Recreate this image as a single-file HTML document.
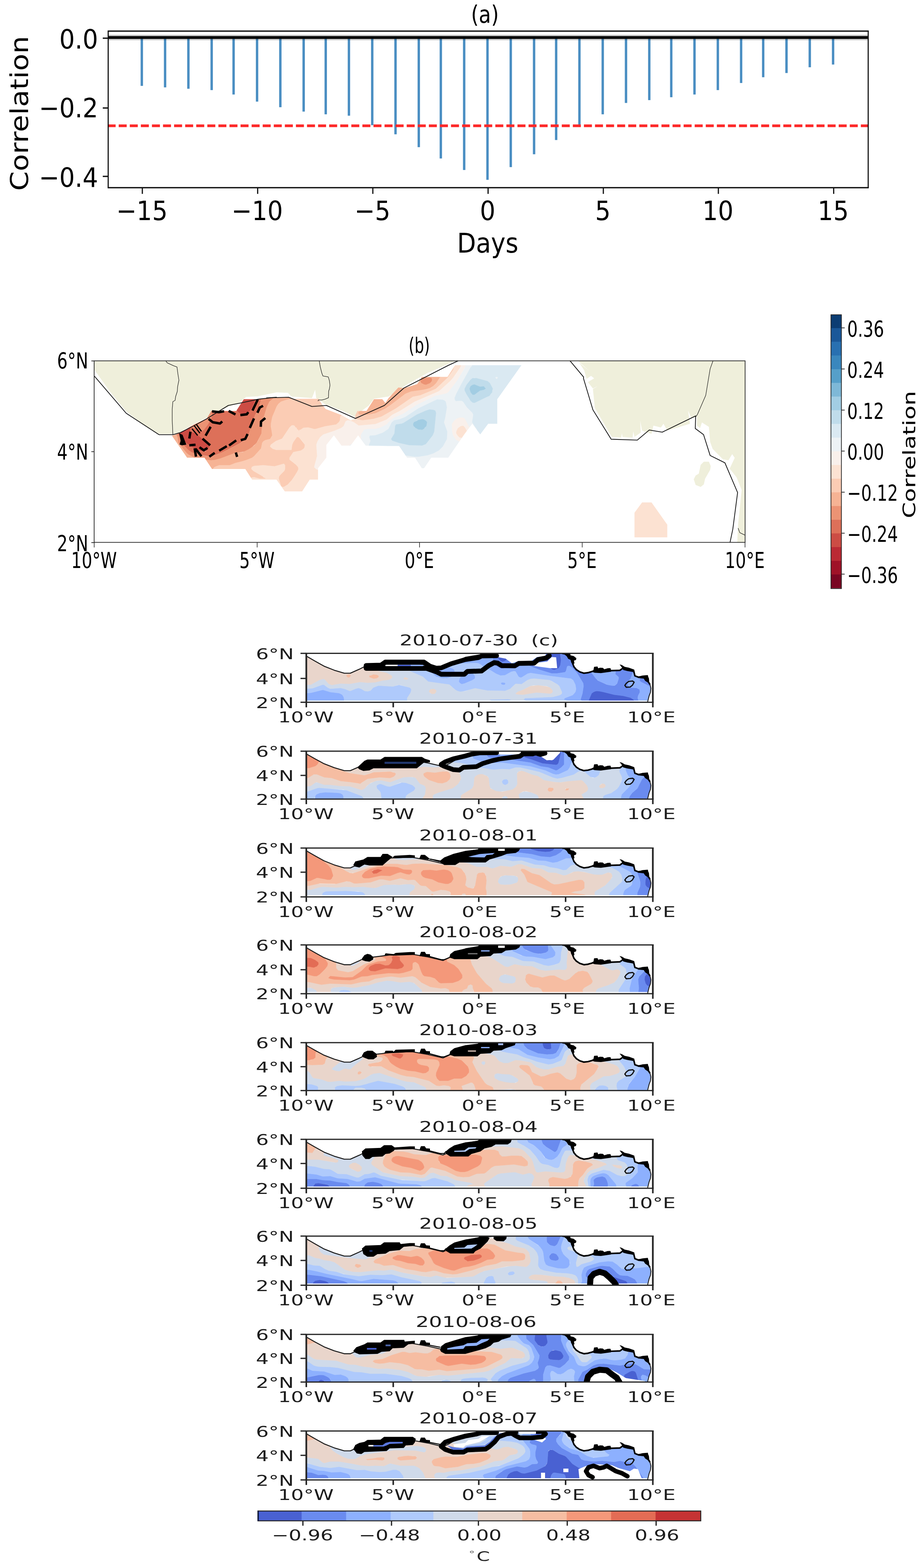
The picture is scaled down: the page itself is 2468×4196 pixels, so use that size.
<!DOCTYPE html>
<html lang="en">
<head>
<meta charset="utf-8">
<title>Figure</title>
<style>
html,body{margin:0;padding:0;background:#fff;}
body{width:2468px;height:4196px;overflow:hidden;}
svg{display:block;font-family:'DejaVu Sans','Liberation Sans',sans-serif;}
text{white-space:pre;}
</style>
</head>
<body>
<svg width="2468" height="4196" viewBox="0 0 2468 4196">
<rect width="2468" height="4196" fill="#fff"/>
<g id="panel-a">
<rect x="376.4" y="100.4" width="6.4" height="129.4" fill="#4a8ec2"/>
<rect x="438.7" y="100.4" width="6.4" height="133.4" fill="#4a8ec2"/>
<rect x="501.1" y="100.4" width="6.4" height="137.1" fill="#4a8ec2"/>
<rect x="563.4" y="100.4" width="6.4" height="140.7" fill="#4a8ec2"/>
<rect x="622.1" y="100.4" width="6.4" height="152.5" fill="#4a8ec2"/>
<rect x="684.9" y="100.4" width="6.4" height="171.5" fill="#4a8ec2"/>
<rect x="747.2" y="100.4" width="6.4" height="186.5" fill="#4a8ec2"/>
<rect x="809.6" y="100.4" width="6.4" height="198.2" fill="#4a8ec2"/>
<rect x="868.7" y="100.4" width="6.4" height="205.5" fill="#4a8ec2"/>
<rect x="930.8" y="100.4" width="6.4" height="209.2" fill="#4a8ec2"/>
<rect x="993.2" y="100.4" width="6.4" height="234.6" fill="#4a8ec2"/>
<rect x="1055.5" y="100.4" width="6.4" height="259" fill="#4a8ec2"/>
<rect x="1117.8" y="100.4" width="6.4" height="293.4" fill="#4a8ec2"/>
<rect x="1176.8" y="100.4" width="6.4" height="323.7" fill="#4a8ec2"/>
<rect x="1239.3" y="100.4" width="6.4" height="354.5" fill="#4a8ec2"/>
<rect x="1301.7" y="100.4" width="6.4" height="380.8" fill="#4a8ec2"/>
<rect x="1364" y="100.4" width="6.4" height="346.8" fill="#4a8ec2"/>
<rect x="1426.4" y="100.4" width="6.4" height="312.4" fill="#4a8ec2"/>
<rect x="1485.5" y="100.4" width="6.4" height="274.3" fill="#4a8ec2"/>
<rect x="1547.8" y="100.4" width="6.4" height="235.5" fill="#4a8ec2"/>
<rect x="1610.2" y="100.4" width="6.4" height="205.5" fill="#4a8ec2"/>
<rect x="1672.5" y="100.4" width="6.4" height="175.1" fill="#4a8ec2"/>
<rect x="1734.8" y="100.4" width="6.4" height="167.5" fill="#4a8ec2"/>
<rect x="1793.6" y="100.4" width="6.4" height="159.8" fill="#4a8ec2"/>
<rect x="1855.8" y="100.4" width="6.4" height="152.5" fill="#4a8ec2"/>
<rect x="1918.3" y="100.4" width="6.4" height="140.7" fill="#4a8ec2"/>
<rect x="1980.6" y="100.4" width="6.4" height="121.7" fill="#4a8ec2"/>
<rect x="2039.7" y="100.4" width="6.4" height="106.3" fill="#4a8ec2"/>
<rect x="2102.1" y="100.4" width="6.4" height="95" fill="#4a8ec2"/>
<rect x="2164.4" y="100.4" width="6.4" height="79.6" fill="#4a8ec2"/>
<rect x="2226.8" y="100.4" width="6.4" height="72.3" fill="#4a8ec2"/>
<rect x="289.6" y="93.1" width="2034.4" height="14.6" fill="#000" fill-opacity="0.22"/>
<rect x="289.6" y="96.7" width="2034.4" height="7.3" fill="#000"/>
<line x1="288.1" y1="336.7" x2="2324" y2="336.7" stroke="#fd2a2a" stroke-width="7.2" stroke-dasharray="21.4 8.25"/>
<line x1="288.1" y1="83.2" x2="2325.5" y2="83.2" stroke="#111" stroke-width="3.6"/>
<line x1="288.1" y1="502.3" x2="2325.5" y2="502.3" stroke="#111" stroke-width="3.6"/>
<line x1="289.6" y1="83.2" x2="289.6" y2="502.3" stroke="#111" stroke-width="3"/>
<line x1="2324" y1="83.2" x2="2324" y2="502.3" stroke="#111" stroke-width="3"/>
<line x1="275.1" y1="102.2" x2="289.6" y2="102.2" stroke="#111" stroke-width="3.5"/>
<line x1="275.1" y1="289" x2="289.6" y2="289" stroke="#111" stroke-width="3.5"/>
<line x1="275.1" y1="472" x2="289.6" y2="472" stroke="#111" stroke-width="3.5"/>
<line x1="381" y1="502.3" x2="381" y2="518.8" stroke="#111" stroke-width="3.2"/>
<line x1="689.7" y1="502.3" x2="689.7" y2="518.8" stroke="#111" stroke-width="3.2"/>
<line x1="998" y1="502.3" x2="998" y2="518.8" stroke="#111" stroke-width="3.2"/>
<line x1="1306.5" y1="502.3" x2="1306.5" y2="518.8" stroke="#111" stroke-width="3.2"/>
<line x1="1615" y1="502.3" x2="1615" y2="518.8" stroke="#111" stroke-width="3.2"/>
<line x1="1922.9" y1="502.3" x2="1922.9" y2="518.8" stroke="#111" stroke-width="3.2"/>
<line x1="2231.6" y1="502.3" x2="2231.6" y2="518.8" stroke="#111" stroke-width="3.2"/>
<text transform="translate(262.5 130) scale(0.9070 1)" font-size="72" text-anchor="end" fill="#000">0.0</text>
<text transform="translate(262.5 313.8) scale(0.9070 1)" font-size="72" text-anchor="end" fill="#000">−0.2</text>
<text transform="translate(262.5 500.3) scale(0.9070 1)" font-size="72" text-anchor="end" fill="#000">−0.4</text>
<text transform="translate(379.8 589) scale(0.9070 1)" font-size="72" text-anchor="middle" fill="#000">−15</text>
<text transform="translate(688.5 589) scale(0.9070 1)" font-size="72" text-anchor="middle" fill="#000">−10</text>
<text transform="translate(996.8 589) scale(0.9070 1)" font-size="72" text-anchor="middle" fill="#000">−5</text>
<text transform="translate(1305.3 589) scale(0.9070 1)" font-size="72" text-anchor="middle" fill="#000">0</text>
<text transform="translate(1613.8 589) scale(0.9070 1)" font-size="72" text-anchor="middle" fill="#000">5</text>
<text transform="translate(1921.7 589) scale(0.9070 1)" font-size="72" text-anchor="middle" fill="#000">10</text>
<text transform="translate(2230.4 589) scale(0.9070 1)" font-size="72" text-anchor="middle" fill="#000">15</text>
<text transform="translate(1305.5 676) scale(0.9000 1)" font-size="73" text-anchor="middle" fill="#000">Days</text>
<text transform="translate(75 303.5) rotate(-90) scale(1.1520 1)" font-size="65.3" text-anchor="middle" fill="#000">Correlation</text>
<text transform="translate(1298 61.3) scale(0.8260 1)" font-size="64.8" text-anchor="middle" fill="#000">(a)</text>
</g>
<g id="panel-b">
<defs><clipPath id="bmask"><path d="M460.2 1166.1L484.5 1157.4L518.9 1136.1L553.4 1119.9L565.5 1099.7L632.3 1099.7L652.6 1068.3L689 1068.3L740 1063.6L774.4 1063.2L780.5 1067.3L853.4 1067.3L861.5 1081.5L871.6 1094.6L914.1 1110.8L939.4 1125L950.5 1119.9L951.5 1110.8L956.6 1099.7L980.9 1099.7L1001.1 1068.3L1023.4 1068.3L1031.5 1078.4L1040 1065.3L1066.3 1036.9L1078.5 1037.9L1090.6 1035.9L1116.9 1027.8L1129.1 1008.6L1197.9 1008.6L1218.1 977.2L1340 977.2L1395.9 977.2L1331.1 1068.3L1331.1 1134.1L1306.8 1134.1L1285.5 1162.4L1264.3 1134.1L1244.5 1160L1199.9 1224.8L1154.4 1224.8L1135.1 1253.1L1129.1 1253.1L1110.9 1224.8L1089.6 1224.8L1068.3 1193.4L1040 1193.4L978.9 1192.4L958.6 1165.1L938.4 1192.4L914.1 1192.4L893.8 1165.1L873.6 1190.4L873.6 1224.8L851.3 1253.1L851.3 1283.5L829.1 1283.5L808.8 1314.9L762.3 1314.9L740 1283.5L674.8 1283.5L656.6 1255.1L567.5 1255.1L547.3 1224.8L500.7 1224.8Z"/></clipPath><clipPath id="bax"><rect x="252" y="965.6" width="1742.5" height="485.8"/></clipPath></defs>
<g clip-path="url(#bax)">
<path fill="#efefdb" d="M252 965.6L1219 965.6L1181.7 982.3L1145.3 997.4L1092.6 1026.8L1040 1061.2L1023.4 1063.6L1001.1 1066.9L987 1085.5L972.8 1096L950.5 1116.3L922.2 1101.7L869.6 1081.5L853.4 1069.3L846.3 1065.3L843.6 1043L835.1 1065.3L780.5 1061.2L770.4 1051.1L740 1050.1L723.4 1053.5L689 1060.8L658.6 1062.2L642.4 1076.4L601.9 1092.6L553.4 1117.9L518.9 1135.1L480.5 1157.4L462.7 1161.2L425.6 1161.2L381.7 1133.9L337.8 1101.8L290.6 1042.8L252.8 989.8ZM1994.5 965.6L1994.3 1451.3L1973.4 1451.3L1975.8 1402.4L1985.2 1311.3L1971.7 1277.6L1953.2 1254L1966.7 1225.3L1959.9 1215.2L1949.8 1232.1L1934.6 1228.7L1907.6 1201.3L1900.9 1182.8L1897.5 1142.3L1878.9 1130.5L1873.9 1145.7L1865.5 1138.9L1865.5 1115.3L1850.3 1118.7L1841.8 1098.4L1846.9 1133.9L1786.2 1152.4L1776 1133.9L1769.3 1144L1749.1 1138.9L1744 1160.9L1718.7 1152.4L1713.6 1125.4L1715.3 1157.5L1698.4 1169.3L1695.1 1154.1L1693.4 1171L1666.4 1169.3L1664.7 1159.2L1663 1171L1637.7 1169.3L1592.2 1091.7L1587.1 1041.1L1600.6 1032.7L1587.1 1039.4L1573.6 1022.5L1590.5 1012.4L1582.1 1005.7L1570.2 1014.1L1563.5 990.5L1550 970.2L1579.1 993.9L1547 965.5ZM1857 1282.7L1862.1 1272.5L1870.5 1267.5L1875.6 1243.9L1884 1235.4L1897.5 1235.4L1902.6 1247.2L1900.9 1257.4L1887.4 1281L1884 1296.2L1875.6 1302.9L1862.1 1297.8Z"/>
<g fill-rule="evenodd" clip-path="url(#bmask)">
<path fill="#bb2a34" stroke="#bb2a34" stroke-width="0.6" d="M441 1055L446 1060L451 1070L461 1080L476 1105L486 1115L491 1125L501 1135L503 1140L504 1145L501 1150L485 1160L480 1156L473 1140L465 1130L448 1095L440 1088Z"/>
<path fill="#cc4c44" stroke="#cc4c44" stroke-width="0.6" d="M585 960L680 960L681 985L685 1000L686 1050L684 1070L675 1092L665 1105L660 1109L655 1110L645 1108L635 1101L629 1085L625 1079L616 1070L605 1037L598 1005L590 984ZM442 1050L450 1058L455 1067L466 1080L480 1102L506 1135L510 1145L509 1155L520 1158L537 1170L559 1190L561 1195L555 1205L545 1208L527 1205L495 1183L490 1177L488 1170L480 1163L468 1140L460 1129L448 1105L440 1093L440 1088L448 1095L465 1130L473 1140L480 1156L485 1160L500 1151L504 1145L503 1140L501 1135L491 1125L486 1115L476 1105L461 1080L440 1054L440 1049Z"/>
<path fill="#dd7059" stroke="#dd7059" stroke-width="0.6" d="M565 960L584 960L588 970L590 984L598 1005L610 1055L616 1070L625 1079L629 1085L634 1100L645 1108L655 1110L660 1109L665 1105L676 1090L684 1070L686 1050L685 1000L681 985L680 960L702 960L704 1030L702 1055L692 1095L683 1110L665 1164L660 1173L644 1185L596 1210L570 1220L560 1221L530 1216L515 1212L505 1205L486 1185L481 1170L465 1141L457 1130L440 1097L440 1093L448 1105L460 1129L468 1140L480 1163L488 1170L490 1177L495 1183L525 1204L535 1207L550 1208L555 1205L561 1195L559 1190L537 1170L520 1158L509 1155L510 1145L506 1135L480 1102L466 1080L455 1067L450 1058L440 1049L440 1044L445 1046L454 1055L459 1065L469 1075L484 1100L509 1130L515 1144L520 1146L530 1144L540 1153L545 1151L557 1135L567 1115L567 1105L560 1080L565 1075L570 1075L575 1070L575 1025L570 1020L570 1010L565 1005L565 990L560 985L560 960Z"/>
<path fill="#ec9374" stroke="#ec9374" stroke-width="0.6" d="M445 960L560 960L560 985L565 990L565 1005L570 1010L570 1020L575 1025L575 1070L570 1075L565 1075L560 1080L567 1105L567 1115L557 1135L545 1151L540 1153L530 1144L520 1146L515 1144L509 1130L484 1100L469 1075L459 1065L454 1055L445 1046L440 1044L440 960ZM705 960L720 960L720 1015L723 1045L725 1050L730 1056L733 1065L721 1075L715 1088L702 1130L700 1160L687 1185L671 1200L655 1208L630 1212L590 1227L575 1231L565 1232L540 1229L536 1230L538 1235L536 1240L530 1242L525 1240L520 1235L521 1225L505 1217L500 1213L477 1185L475 1170L460 1140L452 1130L442 1110L440 1104L440 1097L457 1130L465 1141L481 1170L486 1185L505 1205L512 1210L530 1216L555 1221L565 1221L585 1215L616 1200L645 1185L660 1173L665 1164L683 1110L692 1095L702 1055L704 1030L702 960ZM1130 1013L1140 1010L1150 1010L1155 1011L1157 1015L1156 1020L1150 1027L1140 1030L1135 1029L1127 1025L1125 1020L1127 1015Z"/>
<path fill="#f6b394" stroke="#f6b394" stroke-width="0.6" d="M725 960L760 960L760 1035L765 1037L765 1040L770 1041L775 1045L795 1051L800 1051L810 1046L830 1047L840 1041L860 1042L870 1037L890 1039L900 1035L920 1033L930 1027L933 1025L934 1020L934 1000L925 972L924 960L1173 960L1176 980L1166 990L1164 995L1180 997L1184 1000L1168 1025L1160 1033L1150 1039L1130 1044L1100 1048L1085 1054L1044 1085L1029 1095L1005 1106L985 1110L970 1111L963 1110L960 1108L958 1105L971 1090L962 1085L920 1075L920 1070L925 1065L925 1060L915 1057L900 1056L875 1057L800 1064L770 1069L752 1075L745 1081L740 1089L728 1120L725 1140L729 1165L723 1175L710 1178L705 1181L702 1185L699 1200L680 1221L675 1225L663 1230L615 1245L587 1245L574 1250L570 1255L570 1259L566 1260L565 1265L560 1265L555 1270L545 1270L545 1280L540 1285L540 1295L535 1300L535 1310L530 1315L530 1325L525 1330L440 1330L440 1104L452 1130L460 1140L475 1170L477 1185L500 1213L505 1217L521 1225L520 1235L525 1240L530 1242L536 1240L538 1235L536 1230L540 1229L565 1232L575 1231L590 1227L630 1212L650 1210L665 1203L680 1193L690 1181L700 1160L702 1130L714 1090L721 1075L733 1065L730 1056L725 1050L723 1045L720 1020L720 960ZM1127 1015L1125 1020L1127 1025L1135 1029L1140 1030L1152 1025L1156 1020L1157 1015L1155 1011L1150 1010L1135 1011Z"/>
<path fill="#fbccb4" stroke="#fbccb4" stroke-width="0.6" d="M760 960L924 960L925 972L934 1000L934 1020L933 1025L920 1033L900 1035L890 1039L870 1037L860 1042L840 1041L830 1047L810 1046L800 1051L788 1050L775 1045L770 1041L765 1040L765 1037L760 1035ZM1175 960L1205 960L1206 965L1210 965L1211 970L1215 972L1216 985L1210 995L1199 1010L1165 1042L1125 1058L1105 1062L1060 1093L1021 1115L1000 1121L970 1125L955 1122L930 1112L915 1111L911 1115L910 1125L907 1130L900 1136L870 1141L845 1148L840 1148L825 1144L812 1145L805 1150L802 1150L800 1154L798 1150L795 1149L794 1145L790 1143L789 1140L785 1138L780 1139L775 1144L755 1174L739 1180L725 1190L723 1195L730 1201L740 1204L780 1204L782 1190L785 1183L795 1169L800 1170L816 1190L815 1198L810 1204L805 1206L785 1210L775 1225L775 1230L794 1245L798 1250L799 1255L795 1264L781 1285L770 1297L760 1303L755 1303L752 1300L746 1280L747 1275L750 1271L761 1260L763 1255L763 1245L760 1241L735 1248L705 1245L680 1247L674 1250L673 1255L678 1260L704 1275L705 1277L712 1280L710 1281L695 1281L680 1277L665 1280L661 1285L653 1320L653 1330L525 1330L530 1325L530 1315L535 1310L535 1300L540 1295L540 1285L545 1280L545 1270L555 1270L560 1265L565 1265L566 1260L570 1259L570 1255L574 1250L587 1245L615 1245L630 1239L655 1233L675 1225L681 1220L699 1200L702 1185L705 1181L710 1178L723 1175L729 1165L725 1135L729 1115L742 1085L752 1075L770 1069L800 1064L870 1057L910 1056L925 1060L925 1065L920 1070L920 1075L962 1085L970 1089L971 1090L968 1095L958 1105L963 1110L975 1111L1000 1108L1008 1105L1038 1090L1085 1054L1100 1048L1140 1042L1155 1037L1160 1033L1168 1025L1184 1000L1180 997L1164 995L1166 990L1176 980L1173 960Z"/>
<path fill="#fce2d2" stroke="#fce2d2" stroke-width="0.6" d="M1210 960L1232 960L1234 980L1210 1015L1184 1040L1175 1047L1110 1075L1070 1100L1050 1110L1035 1123L1005 1135L960 1139L947 1130L935 1125L930 1125L925 1128L920 1140L914 1145L895 1153L865 1163L857 1170L850 1181L847 1190L849 1220L841 1250L846 1255L857 1260L896 1265L900 1269L901 1270L883 1285L881 1290L882 1295L885 1298L900 1308L910 1310L910 1330L653 1330L653 1320L661 1285L665 1280L680 1277L695 1281L710 1281L712 1280L705 1277L704 1275L678 1260L673 1255L674 1250L675 1249L680 1247L705 1245L735 1248L760 1241L763 1245L763 1255L761 1260L750 1271L747 1275L746 1280L752 1300L755 1303L760 1303L770 1297L781 1285L788 1275L797 1260L799 1255L798 1250L790 1241L775 1230L775 1225L785 1210L805 1206L814 1200L816 1195L816 1190L810 1181L800 1170L795 1169L785 1183L782 1190L780 1204L740 1204L730 1201L723 1195L725 1190L739 1180L755 1174L775 1144L780 1139L785 1138L789 1140L790 1143L794 1145L795 1149L798 1150L800 1154L802 1150L805 1150L812 1145L825 1144L840 1148L845 1148L870 1141L900 1136L907 1130L910 1125L911 1115L915 1111L930 1112L955 1122L970 1125L1000 1121L1021 1115L1060 1093L1105 1062L1125 1058L1168 1040L1199 1010L1213 990L1216 980L1215 972L1211 970L1210 965L1206 965L1205 960ZM1235 1139L1240 1139L1245 1144L1251 1155L1251 1160L1248 1165L1241 1170L1235 1172L1230 1171L1225 1166L1221 1160L1221 1155L1225 1146ZM1250 1174L1260 1171L1265 1174L1275 1200L1277 1210L1275 1216L1253 1195L1245 1186L1245 1180Z"/>
<path fill="#f9f0eb" stroke="#f9f0eb" stroke-width="0.6" d="M1235 960L1245 960L1246 980L1225 1017L1200 1050L1195 1053L1164 1060L1115 1084L1080 1107L1055 1118L1045 1125L1035 1136L1017 1145L1005 1148L985 1148L975 1150L968 1160L966 1165L967 1175L965 1178L940 1189L918 1205L908 1215L907 1220L910 1223L925 1229L970 1239L1025 1246L1039 1250L1035 1251L1029 1255L1005 1258L995 1264L980 1266L970 1270L955 1272L950 1275L946 1280L949 1290L954 1300L961 1310L971 1330L910 1330L910 1310L900 1308L885 1298L882 1295L881 1290L883 1285L901 1270L900 1269L896 1265L857 1260L846 1255L841 1250L849 1220L847 1190L850 1181L857 1170L865 1163L895 1153L914 1145L920 1140L925 1128L930 1125L935 1125L947 1130L960 1139L1005 1135L1035 1123L1050 1110L1070 1100L1110 1075L1175 1047L1205 1020L1218 1005L1234 980L1232 960ZM1225 1118L1235 1116L1240 1117L1245 1121L1255 1140L1263 1150L1264 1155L1262 1165L1265 1167L1272 1180L1282 1210L1283 1220L1286 1230L1285 1241L1280 1245L1277 1245L1275 1248L1260 1233L1255 1225L1235 1205L1235 1185L1220 1177L1212 1165L1210 1155L1209 1135L1215 1126ZM1233 1140L1225 1146L1221 1155L1221 1160L1225 1166L1230 1171L1235 1172L1241 1170L1248 1165L1251 1160L1251 1155L1245 1144L1240 1139ZM1249 1175L1245 1180L1245 1185L1248 1190L1275 1216L1277 1210L1275 1200L1265 1174L1260 1171Z"/>
<path fill="#edf2f5" stroke="#edf2f5" stroke-width="0.6" d="M1250 960L1275 960L1270 962L1268 970L1263 980L1260 983L1234 1030L1219 1060L1218 1070L1220 1073L1235 1072L1240 1075L1250 1090L1265 1105L1267 1110L1264 1130L1277 1150L1277 1155L1270 1165L1287 1210L1296 1245L1338 1330L1035 1330L1035 1320L1038 1315L1040 1305L1045 1300L1045 1295L1050 1290L1050 1285L1055 1280L1050 1280L1049 1275L1045 1275L1044 1270L1040 1269L1037 1265L1020 1263L1005 1265L985 1285L985 1289L981 1290L980 1300L984 1310L986 1320L990 1330L971 1330L961 1310L954 1300L949 1290L946 1280L950 1275L955 1272L970 1270L980 1266L995 1264L1005 1258L1029 1255L1035 1251L1039 1250L1025 1246L970 1239L925 1229L910 1223L907 1220L908 1215L918 1205L940 1189L965 1178L967 1175L966 1165L968 1160L975 1150L985 1148L1005 1148L1017 1145L1035 1136L1045 1125L1055 1118L1080 1107L1115 1084L1164 1060L1195 1053L1200 1050L1223 1020L1244 985L1246 980L1245 960ZM1167 1070L1139 1085L1117 1095L1085 1116L1070 1122L1055 1125L1049 1130L1040 1148L1025 1158L1005 1165L990 1166L989 1170L992 1180L988 1190L988 1195L1005 1202L1055 1214L1110 1222L1120 1222L1145 1218L1160 1213L1175 1205L1185 1195L1196 1175L1197 1155L1188 1130L1191 1120L1196 1090L1193 1075L1190 1072L1175 1069ZM1222 1120L1215 1126L1209 1135L1210 1155L1212 1165L1220 1177L1235 1185L1235 1205L1255 1225L1260 1233L1275 1248L1277 1245L1280 1245L1285 1241L1286 1230L1283 1220L1282 1210L1272 1180L1265 1167L1262 1165L1264 1155L1263 1150L1255 1140L1245 1121L1240 1117L1230 1117ZM1325 1009L1330 1008L1333 1010L1331 1015L1325 1011Z"/>
<path fill="#dae9f2" stroke="#dae9f2" stroke-width="0.6" d="M1270 962L1275 960L1420 960L1420 1330L1338 1330L1296 1245L1287 1210L1270 1165L1277 1155L1277 1150L1264 1130L1267 1110L1265 1105L1250 1090L1240 1075L1235 1072L1220 1073L1218 1070L1217 1065L1221 1055L1235 1028L1260 983L1263 980L1268 970ZM1325 1010L1330 1015L1333 1010L1330 1008ZM1261 1015L1246 1035L1244 1045L1255 1066L1260 1073L1265 1077L1270 1078L1305 1062L1314 1055L1319 1045L1319 1040L1311 1025L1305 1020L1270 1011L1265 1012ZM1170 1069L1185 1070L1190 1072L1193 1075L1196 1090L1191 1120L1188 1130L1197 1155L1196 1175L1185 1195L1175 1205L1160 1213L1145 1218L1120 1222L1110 1222L1055 1214L1005 1202L988 1195L988 1190L992 1180L989 1170L990 1166L1005 1165L1025 1158L1040 1148L1049 1130L1055 1125L1070 1122L1085 1116L1120 1093ZM1138 1100L1115 1110L1080 1132L1075 1134L1060 1136L1058 1140L1056 1160L1047 1175L1050 1179L1068 1185L1095 1191L1130 1192L1140 1188L1158 1165L1162 1155L1167 1105L1165 1099L1155 1096ZM1005 1265L1020 1263L1037 1265L1040 1269L1044 1270L1045 1275L1049 1275L1050 1280L1055 1280L1050 1285L1050 1290L1045 1295L1045 1300L1040 1305L1038 1315L1035 1320L1035 1330L990 1330L986 1320L984 1310L980 1300L980 1295L981 1290L985 1289L985 1285Z"/>
<path fill="#c0dceb" stroke="#c0dceb" stroke-width="0.6" d="M1265 1012L1275 1012L1305 1020L1311 1025L1319 1040L1317 1050L1310 1059L1270 1078L1265 1077L1260 1073L1249 1055L1244 1045L1244 1040L1249 1030L1260 1016ZM1264 1030L1260 1033L1257 1040L1260 1050L1265 1056L1270 1056L1285 1045L1295 1043L1300 1040L1295 1034L1285 1035L1270 1029ZM1140 1099L1150 1096L1160 1097L1165 1099L1167 1105L1162 1155L1158 1165L1140 1188L1130 1192L1095 1191L1068 1185L1050 1179L1047 1175L1056 1160L1058 1140L1060 1136L1075 1134L1080 1132L1115 1110ZM1116 1125L1108 1130L1106 1135L1107 1140L1110 1144L1115 1147L1125 1150L1130 1150L1138 1145L1142 1135L1143 1130L1139 1125L1130 1122Z"/>
<path fill="#a2cde3" stroke="#a2cde3" stroke-width="0.6" d="M1265 1030L1270 1029L1285 1035L1295 1034L1300 1040L1295 1043L1285 1045L1270 1056L1265 1056L1260 1050L1257 1040L1260 1033ZM1120 1124L1130 1122L1135 1123L1140 1126L1143 1130L1141 1140L1135 1147L1130 1150L1120 1149L1112 1145L1107 1140L1106 1135L1108 1130Z"/>
</g>
<path fill="#fce2d2" d="M1698.4 1437.9L1698.4 1372.1L1718.7 1344.4L1744 1344.4L1786.2 1404.1L1786.2 1437.9Z"/>
<path fill="none" stroke="#1a1a1a" stroke-width="2.1" stroke-linejoin="round" d="M252.8 1006.7L337.8 1105.9L425.6 1163.2L462.7 1163.2L482.9 1157.5L520 1138.9L553.8 1120.4L611.1 1085L644.9 1078.2L692.1 1068.1L740 1063L713.5 1064.7L772.5 1063L835 1087.7L873.8 1085L951.3 1119.7L1028.9 1085L1081.2 1038.4L1200 977.7L1226.5 965.5M1525.8 965.5L1562.2 1009L1561.8 1012.4L1587.1 1096.8L1636 1175.4L1705.9 1177.7L1737.9 1150.7L1772.7 1156.5L1862.1 1113L1861.1 1146.7L1883.3 1163.2L1900.9 1218.9L1940.4 1238.5L1974.4 1318.1L1961.6 1415.9L1954.2 1451.3"/>
<path fill="none" stroke="#1a1a1a" stroke-width="1.3" stroke-linejoin="round" d="M444.1 966.2L447.5 970.9L464.4 978.7L473.8 982.1L476.2 1000.6L478.9 1017.5L475.5 1034.3L474.5 1047.8L470.1 1061.3L468.7 1071.5L462.7 1074.8L461 1095.1L461 1125.4L462 1145.7L462.7 1163.2M854.4 965.1L857.4 982.3L861.5 998.5L864.5 1006.2L878.7 1008.6L881.7 1018.7L883.3 1030.9L881.7 1041L879.7 1047L879.3 1064.3L869.6 1068.3L861.5 1070.3L852.3 1070.3L851.3 1073.4M1908.6 965.5L1900.9 987.1L1889.1 1058L1867.1 1108.6L1863.1 1114.3M1975.8 1413.2L1980.2 1425.4L1994.3 1432.1"/>
<path fill="none" stroke="#000" stroke-width="6.4" stroke-linejoin="round" d="M567.5 1100.6L585.7 1103L599.9 1100.6"/>
<path fill="none" stroke="#000" stroke-width="6.4" stroke-linejoin="round" d="M612.1 1099.6L630.3 1109.1"/>
<path fill="none" stroke="#000" stroke-width="6.4" stroke-linejoin="round" d="M643.4 1110.7L660.6 1108.7L664.7 1103"/>
<path fill="none" stroke="#000" stroke-width="6.4" stroke-linejoin="round" d="M675.8 1098.6L690 1069.2"/>
<path fill="none" stroke="#000" stroke-width="6.4" stroke-linejoin="round" d="M689 1104.7L695.5 1090.5L704.2 1086"/>
<path fill="none" stroke="#000" stroke-width="6.4" stroke-linejoin="round" d="M668.7 1145.1L679.9 1119.8"/>
<path fill="none" stroke="#000" stroke-width="6.4" stroke-linejoin="round" d="M698.1 1142.1L698.7 1127.9L710.2 1118.8"/>
<path fill="none" stroke="#000" stroke-width="6.4" stroke-linejoin="round" d="M644.5 1177.9L656.6 1174.5L662.7 1161.3"/>
<path fill="none" stroke="#000" stroke-width="6.4" stroke-linejoin="round" d="M613.1 1192.1L632.3 1178.5"/>
<path fill="none" stroke="#000" stroke-width="6.4" stroke-linejoin="round" d="M586.8 1205.9L607 1194.1"/>
<path fill="none" stroke="#000" stroke-width="6.4" stroke-linejoin="round" d="M560.4 1222.1L574.6 1211.9"/>
<path fill="none" stroke="#000" stroke-width="6.4" stroke-linejoin="round" d="M558.4 1120.9L569.6 1130L581.7 1132L588.8 1133.4L594.9 1127.9"/>
<path fill="none" stroke="#000" stroke-width="6.4" stroke-linejoin="round" d="M550.3 1165.8L563.9 1142.1"/>
<path fill="none" stroke="#000" stroke-width="6.4" stroke-linejoin="round" d="M542.2 1173.9L562.5 1191.7"/>
<path fill="none" stroke="#000" stroke-width="6.4" stroke-linejoin="round" d="M506.8 1191.7L523.4 1190.1"/>
<path fill="none" stroke="#000" stroke-width="6.4" stroke-linejoin="round" d="M523.4 1200.8L539.2 1221.1"/>
<path fill="none" stroke="#000" stroke-width="6.4" stroke-linejoin="round" d="M534.1 1196.8L545.3 1204.9L555.4 1198.8"/>
<path fill="none" stroke="#000" stroke-width="6.4" stroke-linejoin="round" d="M521 1199.8L524.6 1222.1"/>
<path fill="none" stroke="#000" stroke-width="6.4" stroke-linejoin="round" d="M506.8 1173.5L509.8 1155.3"/>
<path fill="none" stroke="#000" stroke-width="6.4" stroke-linejoin="round" d="M631.3 1210.9L634.7 1222.5"/>
<path fill="none" stroke="#000" stroke-width="3.2" stroke-linejoin="round" d="M520 1139.1L535.1 1159.3"/>
<path fill="none" stroke="#000" stroke-width="3.2" stroke-linejoin="round" d="M525 1135L539.2 1154.3"/>
<path fill="none" stroke="#000" stroke-width="3.2" stroke-linejoin="round" d="M513.9 1147.2L529.1 1165.4"/>
<path fill="#000" d="M479.5 1159.3L488.6 1163.4L498.7 1189.7L487.6 1191.7L480.5 1189.7L483.5 1179.6Z"/>
</g>
<rect x="252" y="965.6" width="1742.5" height="485.8" fill="none" stroke="#222" stroke-width="1.9"/>
<line x1="244.5" y1="965.8" x2="252" y2="965.8" stroke="#222" stroke-width="1.9"/>
<text transform="translate(236.2 986.4) scale(0.7450 1)" font-size="59.5" text-anchor="end" fill="#000">6°N</text>
<line x1="244.5" y1="1208.6" x2="252" y2="1208.6" stroke="#222" stroke-width="1.9"/>
<text transform="translate(236.2 1230.2) scale(0.7450 1)" font-size="59.5" text-anchor="end" fill="#000">4°N</text>
<line x1="244.5" y1="1452" x2="252" y2="1452" stroke="#222" stroke-width="1.9"/>
<text transform="translate(236.2 1475.2) scale(0.7450 1)" font-size="59.5" text-anchor="end" fill="#000">2°N</text>
<line x1="252.2" y1="1451.4" x2="252.2" y2="1464.9" stroke="#222" stroke-width="1.6"/>
<text transform="translate(251.7 1519.5) scale(0.7450 1)" font-size="59.5" text-anchor="middle" fill="#000">10°W</text>
<line x1="688.4" y1="1451.4" x2="688.4" y2="1464.9" stroke="#222" stroke-width="1.6"/>
<text transform="translate(687.9 1519.5) scale(0.7450 1)" font-size="59.5" text-anchor="middle" fill="#000">5°W</text>
<line x1="1123" y1="1451.4" x2="1123" y2="1464.9" stroke="#222" stroke-width="1.6"/>
<text transform="translate(1122.5 1519.5) scale(0.7450 1)" font-size="59.5" text-anchor="middle" fill="#000">0°E</text>
<line x1="1558.5" y1="1451.4" x2="1558.5" y2="1464.9" stroke="#222" stroke-width="1.6"/>
<text transform="translate(1558 1519.5) scale(0.7450 1)" font-size="59.5" text-anchor="middle" fill="#000">5°E</text>
<line x1="1994.3" y1="1451.4" x2="1994.3" y2="1464.9" stroke="#222" stroke-width="1.6"/>
<text transform="translate(1993.8 1519.5) scale(0.7450 1)" font-size="59.5" text-anchor="middle" fill="#000">10°E</text>
<text transform="translate(1122.3 944.4) scale(0.7100 1)" font-size="56.8" text-anchor="middle" fill="#000">(b)</text>
<rect x="2224.3" y="1536.7" width="28" height="37.2" fill="#790622"/>
<rect x="2224.3" y="1500.1" width="28" height="37.2" fill="#9f1228"/>
<rect x="2224.3" y="1463.4" width="28" height="37.2" fill="#bb2a34"/>
<rect x="2224.3" y="1426.8" width="28" height="37.2" fill="#cc4c44"/>
<rect x="2224.3" y="1390.2" width="28" height="37.2" fill="#dd7059"/>
<rect x="2224.3" y="1353.6" width="28" height="37.2" fill="#ec9374"/>
<rect x="2224.3" y="1317" width="28" height="37.2" fill="#f6b394"/>
<rect x="2224.3" y="1280.3" width="28" height="37.2" fill="#fbccb4"/>
<rect x="2224.3" y="1243.7" width="28" height="37.2" fill="#fce2d2"/>
<rect x="2224.3" y="1207.1" width="28" height="37.2" fill="#f9f0eb"/>
<rect x="2224.3" y="1170.5" width="28" height="37.2" fill="#edf2f5"/>
<rect x="2224.3" y="1133.9" width="28" height="37.2" fill="#dae9f2"/>
<rect x="2224.3" y="1097.2" width="28" height="37.2" fill="#c0dceb"/>
<rect x="2224.3" y="1060.6" width="28" height="37.2" fill="#a2cde3"/>
<rect x="2224.3" y="1024" width="28" height="37.2" fill="#7eb8d7"/>
<rect x="2224.3" y="987.4" width="28" height="37.2" fill="#569fc9"/>
<rect x="2224.3" y="950.8" width="28" height="37.2" fill="#3a87bd"/>
<rect x="2224.3" y="914.1" width="28" height="37.2" fill="#2870b1"/>
<rect x="2224.3" y="877.5" width="28" height="37.2" fill="#1a5899"/>
<rect x="2224.3" y="842.3" width="28" height="35.8" fill="#0c3d73"/>
<rect x="2224.3" y="842.3" width="28" height="732.8" fill="none" stroke="#222" stroke-width="1.9"/>
<line x1="2252.3" y1="877.4" x2="2261.1" y2="877.4" stroke="#222" stroke-width="1.9"/>
<text transform="translate(2267.8 900.7) scale(0.7580 1)" font-size="58.5" text-anchor="start" fill="#000">0.36</text>
<line x1="2252.3" y1="987.4" x2="2261.1" y2="987.4" stroke="#222" stroke-width="1.9"/>
<text transform="translate(2267.8 1010.7) scale(0.7580 1)" font-size="58.5" text-anchor="start" fill="#000">0.24</text>
<line x1="2252.3" y1="1097.4" x2="2261.1" y2="1097.4" stroke="#222" stroke-width="1.9"/>
<text transform="translate(2267.8 1120.7) scale(0.7580 1)" font-size="58.5" text-anchor="start" fill="#000">0.12</text>
<line x1="2252.3" y1="1207.1" x2="2261.1" y2="1207.1" stroke="#222" stroke-width="1.9"/>
<text transform="translate(2267.8 1230.4) scale(0.7580 1)" font-size="58.5" text-anchor="start" fill="#000">0.00</text>
<line x1="2252.3" y1="1317.1" x2="2261.1" y2="1317.1" stroke="#222" stroke-width="1.9"/>
<text transform="translate(2267.8 1340.4) scale(0.7580 1)" font-size="58.5" text-anchor="start" fill="#000">−0.12</text>
<line x1="2252.3" y1="1426.8" x2="2261.1" y2="1426.8" stroke="#222" stroke-width="1.9"/>
<text transform="translate(2267.8 1450.1) scale(0.7580 1)" font-size="58.5" text-anchor="start" fill="#000">−0.24</text>
<line x1="2252.3" y1="1536.4" x2="2261.1" y2="1536.4" stroke="#222" stroke-width="1.9"/>
<text transform="translate(2267.8 1559.7) scale(0.7580 1)" font-size="58.5" text-anchor="start" fill="#000">−0.36</text>
<text transform="translate(2449.8 1216.5) rotate(-90) scale(1.3150 1)" font-size="47" text-anchor="middle" fill="#000">Correlation</text>
</g>
<g id="panel-c1">
<defs><clipPath id="oc1"><path d="M819.9 1879.3L819.9 1755.7L843.2 1769.2L867.5 1782.7L894.5 1793.4L921.5 1801.5L937.7 1801.5L961.9 1790.8L972.7 1785.3L979.4 1783.5L1019.8 1778.5L1044.1 1775.2L1084.6 1773.5L1104.9 1773.5L1145.3 1780.6L1185.8 1790.2L1202 1782.7L1226.3 1768.2L1246.6 1758.7L1283 1752.5L1315.4 1749.4L1338.5 1748.4L1504.9 1748.4L1511.9 1749.6L1520.1 1755.6L1529.2 1759.4L1534.6 1764L1532.8 1775.2L1536.5 1784.5L1542.8 1792L1551.9 1797.9L1562.9 1801.5L1573.8 1800.2L1584.7 1797.1L1592 1793.8L1608.4 1794.7L1635.7 1794.7L1659.4 1793.8L1665.8 1789.1L1672.2 1787.3L1683.1 1789.1L1695.9 1793.8L1697.7 1801.3L1699.5 1808.6L1708.6 1812L1719.6 1810.6L1732.3 1809.7L1735 1816.1L1735.9 1825.4L1740 1831.9L1742.3 1842.1L1741 1853.1L1737.5 1862.3L1733.5 1878.6L1733.5 1879.3Z"/></clipPath><clipPath id="ax1"><rect x="819.9" y="1748.4" width="927.6" height="130.9"/></clipPath></defs>
<g fill-rule="evenodd" clip-path="url(#oc1)">
<path fill="#4961d2" stroke="#4961d2" stroke-width="0.6" d="M1328 1740L1366 1740L1364 1749L1358 1764L1353 1768L1348 1771L1344 1771L1340 1769L1328 1756L1326 1740ZM1456 1740L1498 1740L1502 1768L1500 1780L1496 1788L1484 1793L1479 1792L1473 1788L1471 1780L1463 1768L1462 1756ZM1588 1852L1596 1849L1608 1850L1644 1859L1668 1862L1688 1867L1696 1872L1704 1888L1574 1888L1576 1873L1583 1856Z"/>
<path fill="#6a8bef" stroke="#6a8bef" stroke-width="0.6" d="M1164 1740L1198 1740L1199 1756L1196 1759L1192 1760L1176 1759L1168 1756L1164 1748L1162 1740ZM1320 1740L1326 1740L1328 1757L1340 1769L1344 1771L1352 1769L1358 1764L1364 1749L1366 1740L1374 1740L1371 1760L1372 1764L1376 1767L1380 1768L1420 1764L1428 1762L1433 1756L1434 1740L1455 1740L1462 1756L1464 1771L1471 1780L1473 1788L1479 1792L1484 1793L1496 1788L1500 1780L1502 1764L1498 1740L1590 1740L1590 1780L1592 1785L1596 1791L1598 1792L1596 1794L1585 1796L1583 1800L1600 1821L1624 1832L1644 1835L1648 1833L1652 1829L1656 1816L1656 1812L1647 1804L1649 1788L1646 1776L1639 1764L1638 1740L1756 1740L1756 1842L1740 1837L1714 1824L1712 1820L1714 1808L1713 1792L1712 1786L1708 1784L1704 1787L1694 1800L1688 1816L1681 1824L1680 1832L1682 1836L1688 1840L1704 1841L1712 1845L1713 1852L1708 1862L1707 1868L1713 1888L1704 1888L1696 1872L1688 1867L1668 1862L1644 1859L1616 1852L1600 1849L1592 1850L1584 1855L1575 1876L1574 1888L1565 1888L1562 1880L1554 1872L1559 1856L1562 1836L1561 1828L1544 1800L1528 1784L1524 1782L1520 1782L1518 1784L1515 1796L1512 1799L1492 1802L1476 1802L1443 1792L1412 1780L1380 1770L1376 1770L1368 1775L1352 1788L1348 1789L1340 1789L1328 1782L1320 1772L1318 1748L1318 1740ZM1551 1760L1544 1764L1541 1768L1543 1772L1548 1775L1556 1773L1563 1764L1564 1760L1560 1758Z"/>
<path fill="#8db0fe" stroke="#8db0fe" stroke-width="0.6" d="M1156 1740L1162 1740L1164 1749L1168 1756L1176 1759L1192 1760L1196 1759L1199 1756L1198 1740L1206 1740L1208 1752L1212 1759L1216 1762L1224 1763L1268 1761L1272 1756L1272 1752L1267 1740L1318 1740L1320 1772L1323 1776L1332 1785L1344 1790L1352 1788L1368 1775L1376 1770L1380 1770L1412 1780L1443 1792L1476 1802L1492 1802L1512 1799L1515 1796L1518 1784L1520 1782L1524 1782L1532 1787L1544 1800L1561 1828L1562 1836L1559 1856L1554 1872L1562 1880L1565 1888L1534 1888L1532 1882L1528 1878L1509 1872L1512 1868L1533 1860L1540 1852L1542 1844L1540 1832L1534 1820L1528 1816L1472 1809L1420 1801L1412 1803L1396 1813L1392 1813L1388 1811L1380 1797L1376 1796L1368 1798L1352 1807L1340 1808L1328 1803L1312 1793L1298 1788L1288 1779L1280 1775L1272 1774L1232 1776L1168 1766L1164 1764L1158 1756L1154 1744L1154 1740ZM1376 1740L1434 1740L1433 1756L1430 1760L1424 1764L1376 1767L1372 1764L1371 1760L1374 1740ZM1592 1740L1638 1740L1639 1764L1646 1776L1649 1788L1647 1804L1656 1812L1656 1816L1652 1828L1648 1833L1640 1835L1628 1833L1604 1823L1595 1816L1583 1800L1585 1796L1596 1794L1598 1792L1596 1791L1592 1785L1590 1780L1590 1740ZM1552 1760L1560 1758L1564 1760L1561 1768L1556 1773L1552 1775L1544 1773L1541 1768L1544 1764ZM1708 1784L1712 1786L1713 1792L1714 1808L1712 1820L1714 1824L1740 1837L1756 1842L1756 1888L1713 1888L1707 1868L1708 1862L1713 1852L1712 1845L1704 1841L1688 1840L1682 1836L1680 1832L1681 1824L1688 1816L1694 1800L1704 1787ZM1188 1788L1204 1786L1212 1789L1216 1792L1217 1796L1215 1804L1208 1812L1196 1815L1184 1815L1168 1811L1159 1804L1157 1800L1160 1796L1168 1792ZM1244 1799L1256 1797L1264 1799L1271 1808L1272 1814L1271 1816L1265 1820L1244 1829L1236 1831L1231 1828L1228 1824L1228 1820L1236 1805ZM1344 1826L1352 1827L1353 1828L1352 1832L1348 1833L1343 1832L1340 1828ZM856 1848L864 1846L868 1846L884 1852L904 1854L912 1856L917 1860L921 1868L921 1880L919 1888L812 1888L812 1855L832 1854Z"/>
<path fill="#afcafc" stroke="#afcafc" stroke-width="0.6" d="M1092 1740L1154 1740L1158 1756L1164 1764L1168 1766L1232 1776L1272 1774L1280 1775L1288 1779L1298 1788L1312 1793L1328 1803L1340 1808L1352 1807L1368 1798L1376 1796L1380 1797L1388 1811L1392 1813L1396 1813L1412 1803L1420 1801L1472 1809L1528 1816L1534 1820L1540 1832L1542 1844L1540 1852L1533 1860L1512 1868L1509 1872L1528 1878L1532 1882L1534 1888L1506 1888L1504 1884L1500 1881L1496 1880L1420 1879L1412 1877L1401 1872L1406 1868L1412 1868L1480 1865L1499 1860L1504 1856L1504 1852L1497 1836L1493 1832L1476 1822L1468 1820L1428 1816L1420 1817L1412 1820L1396 1831L1380 1830L1365 1844L1352 1849L1304 1848L1272 1842L1236 1851L1228 1851L1220 1847L1203 1832L1148 1825L1144 1823L1132 1811L1097 1796L1096 1792L1099 1784L1090 1768L1090 1740ZM1187 1788L1168 1792L1159 1796L1157 1800L1163 1808L1172 1813L1192 1816L1204 1814L1213 1808L1217 1800L1217 1796L1216 1792L1212 1789L1208 1787L1200 1786ZM1242 1800L1236 1805L1230 1816L1228 1824L1232 1829L1236 1831L1244 1829L1265 1820L1271 1816L1272 1812L1271 1808L1264 1799L1256 1797ZM1340 1828L1343 1832L1348 1833L1352 1832L1353 1828L1348 1826L1344 1826ZM1208 1740L1267 1740L1272 1752L1272 1756L1269 1760L1264 1762L1216 1762L1212 1759L1208 1753L1206 1740ZM864 1832L868 1833L877 1840L884 1843L912 1841L924 1844L936 1849L940 1848L952 1843L960 1841L968 1844L976 1849L984 1850L992 1848L999 1840L1012 1835L1020 1835L1052 1837L1068 1833L1097 1840L1101 1844L1101 1848L1098 1856L1090 1868L1090 1888L919 1888L922 1876L920 1865L916 1859L908 1855L884 1852L864 1846L832 1854L812 1855L812 1843L836 1842ZM1312 1872L1360 1871L1368 1872L1363 1876L1352 1877L1316 1876L1310 1872Z"/>
<path fill="#cfdaea" stroke="#cfdaea" stroke-width="0.6" d="M992 1740L1090 1740L1090 1768L1099 1784L1096 1792L1097 1796L1132 1811L1146 1824L1203 1832L1216 1844L1224 1849L1232 1851L1244 1850L1264 1844L1272 1842L1304 1848L1352 1849L1365 1844L1380 1830L1396 1831L1412 1820L1420 1817L1431 1816L1471 1820L1493 1832L1497 1836L1504 1852L1504 1856L1499 1860L1480 1865L1412 1868L1406 1868L1401 1872L1412 1877L1420 1879L1496 1880L1500 1881L1504 1884L1506 1888L1405 1888L1404 1884L1400 1882L1388 1880L1376 1882L1372 1884L1370 1888L1311 1888L1307 1884L1300 1881L1284 1880L1260 1881L1253 1884L1251 1888L1090 1888L1090 1868L1100 1852L1101 1844L1097 1840L1072 1833L1064 1833L1052 1837L1020 1835L1012 1835L999 1840L992 1848L984 1850L976 1849L968 1844L960 1841L952 1843L940 1848L936 1849L924 1844L912 1841L884 1843L877 1840L868 1833L864 1832L836 1842L812 1843L812 1833L832 1832L856 1819L864 1817L868 1817L872 1821L880 1830L888 1833L912 1829L936 1830L964 1825L984 1827L1000 1826L1024 1821L1040 1819L1047 1816L1050 1812L1048 1808L1040 1803L1028 1799L992 1791L958 1776L956 1772L980 1766L984 1764L990 1752ZM1084 1812L1080 1817L1088 1819L1093 1816ZM1419 1836L1400 1846L1385 1852L1380 1856L1384 1858L1400 1859L1436 1853L1472 1856L1476 1855L1479 1852L1479 1848L1476 1844L1472 1840L1464 1836L1440 1834L1428 1834ZM1154 1844L1149 1848L1149 1852L1152 1855L1160 1857L1164 1856L1167 1852L1168 1848L1164 1845ZM1310 1872L1316 1876L1320 1877L1356 1877L1363 1876L1368 1872L1360 1871Z"/>
<path fill="#e9d5cb" stroke="#e9d5cb" stroke-width="0.6" d="M816 1740L847 1740L836 1750L831 1756L832 1764L836 1766L844 1762L849 1756L852 1740L992 1740L990 1752L984 1764L980 1766L956 1772L958 1776L992 1791L1036 1801L1048 1808L1050 1812L1047 1816L1040 1819L1024 1821L1004 1826L984 1827L964 1825L936 1830L912 1829L888 1833L880 1830L872 1821L868 1817L864 1817L856 1819L832 1832L812 1833L812 1740ZM927 1808L932 1813L936 1812L939 1808L936 1805L932 1805ZM989 1808L989 1812L1000 1816L1008 1815L1013 1812L1013 1808L1004 1805ZM1084 1812L1093 1816L1088 1819L1080 1817ZM1420 1836L1440 1834L1464 1837L1472 1840L1476 1844L1479 1848L1479 1852L1476 1855L1472 1856L1436 1853L1400 1859L1384 1858L1380 1856L1385 1852L1400 1846ZM1156 1844L1163 1844L1168 1848L1167 1852L1164 1856L1156 1857L1149 1852L1149 1848L1152 1845ZM1268 1880L1296 1880L1307 1884L1311 1888L1251 1888L1253 1884L1256 1882ZM1384 1880L1400 1882L1404 1884L1405 1888L1370 1888L1372 1884L1376 1882Z"/>
<path fill="#f6bda2" stroke="#f6bda2" stroke-width="0.6" d="M844 1743L847 1740L852 1740L850 1752L844 1762L836 1766L832 1764L831 1756L836 1750ZM928 1807L932 1805L936 1805L939 1808L936 1812L932 1813L928 1810L927 1808ZM992 1808L1000 1805L1008 1806L1013 1808L1013 1812L1008 1815L1000 1816L989 1812L989 1808Z"/>
</g>
<g clip-path="url(#ax1)">
<path fill="#fff" d="M1333.5 1750.2L1461.7 1750.2L1459 1755.6L1437.4 1758.3L1423.9 1767.8L1383.4 1770.5L1369.9 1774.5L1365.9 1771.8L1353.7 1762.4L1334.8 1759.1Z"/>
<path fill="#fff" d="M1427.9 1781.8L1440.1 1773.2L1464.4 1770.5L1476.5 1758.3L1488.7 1759.1L1491.4 1788L1472.5 1788L1442.8 1784Z"/>
<rect x="819.9" y="1874.7" width="927.6" height="3" fill="#fff"/>
<path fill="none" stroke="#1a1a1a" stroke-width="2.6" stroke-linejoin="round" d="M819.9 1755.7L843.2 1769.2L867.5 1782.7L894.5 1793.4L921.5 1801.5L937.7 1801.5L961.9 1790.8L972.7 1785.3L979.4 1783.5L1019.8 1778.5L1044.1 1775.2L1084.6 1773.5L1104.9 1773.5L1145.3 1780.6L1185.8 1790.2L1202 1782.7L1226.3 1768.2L1246.6 1758.7L1283 1752.5L1315.4 1749.4L1338.5 1748.4"/>
<path fill="none" stroke="#000" stroke-width="4.2" stroke-linejoin="round" d="M1504.9 1748.4L1511.9 1749.6L1520.1 1755.6L1529.2 1759.4L1534.6 1764L1532.8 1775.2L1536.5 1784.5L1542.8 1792L1551.9 1797.9L1562.9 1801.5L1573.8 1800.2L1584.7 1797.1L1592 1793.8L1608.4 1794.7L1635.7 1794.7L1659.4 1793.8L1665.8 1789.1L1672.2 1787.3L1683.1 1789.1L1695.9 1793.8L1697.7 1801.3L1699.5 1808.6L1708.6 1812L1719.6 1810.6L1732.3 1809.7L1735 1816.1L1735.9 1825.4L1740 1831.9"/>
<path fill="none" stroke="#222" stroke-width="2.4" stroke-linejoin="round" d="M1740 1831.9L1742.3 1842.1L1741 1853.1L1737.5 1862.3L1733.5 1878.6"/>
<path fill="#000" d="M1584.7 1797.9L1588.4 1793.8L1590.2 1784.5L1599.3 1783.6L1601.1 1788.2L1606.6 1786.8L1613.9 1787.3L1617.5 1790.9L1626.6 1788.2L1633.9 1787.8L1635.7 1792.9L1635.7 1797.5L1608.4 1801.3L1592 1800.2ZM1658.5 1778L1664.9 1779.8L1672.2 1784.5L1683.1 1786.8L1697.7 1792L1698.6 1799.3L1690.4 1797.5L1679.5 1795.7L1668.5 1792.9L1664.9 1786.4ZM1699.5 1808.4L1708.6 1810.8L1719.6 1807.7L1734.1 1806.4L1735.9 1816.1L1735 1827.3L1726.8 1821.7L1723.2 1816.1L1708.6 1814.6ZM1510 1749.2L1526.4 1749.6L1527.3 1753.8L1535.5 1755.6L1542.8 1761.2L1541.9 1765.9L1536.5 1767.8L1537.7 1775.2L1533.7 1778L1529.2 1773.3L1527.3 1765.9L1521 1763.1L1517.3 1756.6Z"/>
<path fill="none" stroke="#111" stroke-width="3.2" stroke-linejoin="round" d="M1672.5 1834.1L1676.5 1828.5L1683 1823.5L1693.5 1822.4L1697.4 1825.6L1693 1833.5L1686.8 1838.5L1676.5 1839.2Z"/>
<path fill="none" stroke="#000" stroke-width="13.5" stroke-linejoin="round" stroke-linecap="round" d="M980.3 1781.3L1020 1780.2L1031.6 1772.1L1134.7 1772.1L1148.2 1781.3L1142.8 1788.3L980.3 1788.3Z"/>
<path fill="none" stroke="#000" stroke-width="13" stroke-linejoin="round" stroke-linecap="round" d="M1140.5 1788L1167.5 1797.5L1181 1804.2L1243 1804.2L1251.1 1796.7L1288.9 1795.6L1307.8 1781.3L1322.7 1773.2L1332.1 1774.5L1342.9 1781.3L1378 1781.8L1388.8 1775.3L1429.3 1774.5L1440.1 1765.1L1461.7 1761L1470.3 1754.8"/>
<path fill="none" stroke="#000" stroke-width="12.5" stroke-linejoin="round" stroke-linecap="round" d="M1151.3 1782.6L1167.5 1788L1181 1787.2L1208 1775.9L1245.7 1765.1L1280.8 1759.7L1288.9 1755.6L1329.4 1754.8"/>
<path fill="#fff" d="M1032.1 1778.9L1064.5 1778.9L1064.5 1782.6L1032.1 1782.6Z"/>
<path fill="#4961d2" d="M1064.5 1778.9L1099.6 1778.9L1099.6 1782.6L1064.5 1782.6Z"/>
<path fill="#8db0fe" d="M1099.6 1778.9L1132 1778.9L1132 1782.6L1099.6 1782.6Z"/>
</g>
<line x1="817.6" y1="1748.4" x2="1749.8" y2="1748.4" stroke="#262626" stroke-width="3.3"/>
<line x1="817.6" y1="1879.3" x2="1749.8" y2="1879.3" stroke="#262626" stroke-width="3.3"/>
<line x1="819.9" y1="1748.4" x2="819.9" y2="1879.3" stroke="#262626" stroke-width="4.6"/>
<line x1="1747.5" y1="1748.4" x2="1747.5" y2="1879.3" stroke="#262626" stroke-width="4.6"/>
<line x1="804.4" y1="1748.4" x2="819.9" y2="1748.4" stroke="#262626" stroke-width="3.4"/>
<line x1="804.4" y1="1815.5" x2="819.9" y2="1815.5" stroke="#262626" stroke-width="3.4"/>
<line x1="804.4" y1="1879.3" x2="819.9" y2="1879.3" stroke="#262626" stroke-width="3.4"/>
<line x1="819.9" y1="1879.3" x2="819.9" y2="1892.8" stroke="#262626" stroke-width="4.2"/>
<line x1="1052.6" y1="1879.3" x2="1052.6" y2="1892.8" stroke="#262626" stroke-width="4.2"/>
<line x1="1281.6" y1="1879.3" x2="1281.6" y2="1892.8" stroke="#262626" stroke-width="4.2"/>
<line x1="1514" y1="1879.3" x2="1514" y2="1892.8" stroke="#262626" stroke-width="4.2"/>
<line x1="1747.5" y1="1879.3" x2="1747.5" y2="1892.8" stroke="#262626" stroke-width="4.2"/>
<text transform="translate(786.5 1763.6) scale(1.4000 1)" font-size="38.5" text-anchor="end" fill="#1c1c1c">6°N</text>
<text transform="translate(786.5 1830.7) scale(1.4000 1)" font-size="38.5" text-anchor="end" fill="#1c1c1c">4°N</text>
<text transform="translate(786.5 1894.5) scale(1.4000 1)" font-size="38.5" text-anchor="end" fill="#1c1c1c">2°N</text>
<text transform="translate(818.9 1932.9) scale(1.4000 1)" font-size="38.5" text-anchor="middle" fill="#1c1c1c">10°W</text>
<text transform="translate(1051.6 1932.9) scale(1.4000 1)" font-size="38.5" text-anchor="middle" fill="#1c1c1c">5°W</text>
<text transform="translate(1283.6 1932.9) scale(1.4000 1)" font-size="38.5" text-anchor="middle" fill="#1c1c1c">0°E</text>
<text transform="translate(1518.5 1932.9) scale(1.4000 1)" font-size="38.5" text-anchor="middle" fill="#1c1c1c">5°E</text>
<text transform="translate(1743.5 1932.9) scale(1.4000 1)" font-size="38.5" text-anchor="middle" fill="#1c1c1c">10°E</text>
<text transform="translate(1281.8 1727.4) scale(1.4000 1)" font-size="39" text-anchor="middle" fill="#1c1c1c" xml:space="preserve">2010-07-30  (c)</text>
</g>
<g id="panel-c2">
<defs><clipPath id="oc2"><path d="M819.9 2138.4L819.9 2017.4L843.2 2030.6L867.5 2043.8L894.5 2054.3L921.5 2062.2L937.7 2062.2L961.9 2051.7L972.7 2046.4L979.4 2044.6L1019.8 2039.7L1044.1 2036.5L1084.6 2034.8L1104.9 2034.8L1145.3 2041.7L1185.8 2051.1L1202 2043.8L1226.3 2029.6L1246.6 2020.3L1283 2014.2L1315.4 2011.2L1338.5 2010.2L1504.9 2010.2L1511.9 2011.4L1520.1 2017.3L1529.2 2021L1534.6 2025.5L1532.8 2036.5L1536.5 2045.6L1542.8 2052.9L1551.9 2058.7L1562.9 2062.2L1573.8 2061L1584.7 2057.9L1592 2054.7L1608.4 2055.6L1635.7 2055.6L1659.4 2054.7L1665.8 2050.1L1672.2 2048.3L1683.1 2050.1L1695.9 2054.7L1697.7 2062L1699.5 2069.2L1708.6 2072.5L1719.6 2071.1L1732.3 2070.2L1735 2076.5L1735.9 2085.6L1740 2092L1742.3 2102L1741 2112.8L1737.5 2121.7L1733.5 2137.8L1733.5 2138.4Z"/></clipPath><clipPath id="ax2"><rect x="819.9" y="2010.2" width="927.6" height="128.2"/></clipPath></defs>
<g fill-rule="evenodd" clip-path="url(#oc2)">
<path fill="#4961d2" stroke="#4961d2" stroke-width="0.6" d="M1400 2002L1502 2002L1501 2018L1495 2042L1492 2046L1488 2047L1452 2043L1404 2027L1401 2022L1398 2010L1398 2002Z"/>
<path fill="#6a8bef" stroke="#6a8bef" stroke-width="0.6" d="M1300 2002L1349 2002L1341 2014L1337 2026L1332 2028L1320 2029L1312 2028L1307 2026L1304 2023L1298 2002ZM1380 2002L1398 2002L1401 2022L1403 2026L1408 2028L1424 2033L1452 2043L1488 2047L1492 2046L1495 2042L1501 2018L1502 2002L1510 2002L1510 2046L1502 2054L1492 2061L1488 2062L1468 2054L1448 2051L1420 2041L1374 2034L1358 2030L1358 2026L1372 2022L1376 2019L1378 2014L1378 2002ZM1752 2053L1756 2050L1756 2146L1682 2146L1683 2138L1686 2130L1692 2122L1706 2110L1718 2086Z"/>
<path fill="#8db0fe" stroke="#8db0fe" stroke-width="0.6" d="M1268 2002L1298 2002L1304 2023L1307 2026L1312 2028L1320 2029L1332 2028L1337 2026L1341 2014L1349 2002L1378 2002L1378 2014L1376 2018L1372 2022L1358 2026L1358 2030L1374 2034L1420 2041L1448 2051L1468 2054L1488 2062L1492 2061L1502 2054L1510 2046L1510 2002L1572 2002L1557 2018L1544 2038L1532 2040L1529 2042L1525 2054L1520 2061L1496 2072L1488 2073L1480 2071L1460 2062L1420 2051L1344 2041L1312 2043L1276 2034L1267 2030L1265 2026L1269 2018L1266 2002ZM1672 2005L1673 2002L1756 2002L1756 2050L1748 2056L1718 2086L1706 2110L1692 2122L1686 2130L1683 2138L1682 2146L1662 2146L1662 2134L1664 2126L1684 2106L1691 2094L1692 2090L1690 2086L1680 2074L1675 2062L1670 2022ZM856 2122L872 2120L910 2122L917 2126L919 2130L920 2138L918 2146L842 2146L844 2129L848 2125Z"/>
<path fill="#afcafc" stroke="#afcafc" stroke-width="0.6" d="M1236 2002L1266 2002L1269 2018L1265 2026L1267 2030L1280 2035L1316 2044L1344 2041L1420 2051L1460 2062L1480 2071L1488 2073L1496 2072L1520 2061L1525 2054L1529 2042L1532 2040L1544 2038L1557 2018L1572 2002L1589 2002L1590 2010L1604 2046L1609 2054L1606 2066L1603 2074L1599 2078L1592 2081L1580 2079L1565 2066L1556 2063L1548 2065L1536 2073L1504 2082L1492 2084L1480 2081L1444 2066L1392 2054L1380 2054L1364 2059L1344 2058L1324 2060L1312 2059L1292 2055L1272 2055L1251 2046L1240 2043L1184 2038L1165 2034L1158 2030L1168 2026L1228 2021L1233 2018L1234 2014L1234 2002ZM1573 2014L1565 2022L1561 2030L1563 2034L1568 2036L1572 2037L1576 2034L1581 2018L1581 2014L1580 2012L1576 2012ZM1664 2003L1664 2002L1673 2002L1671 2010L1670 2022L1675 2062L1680 2074L1690 2086L1692 2090L1691 2094L1684 2106L1664 2126L1662 2134L1662 2146L1614 2146L1614 2134L1615 2130L1620 2127L1636 2122L1648 2114L1656 2106L1664 2090L1665 2082L1658 2066L1658 2062L1661 2050L1661 2022ZM1348 2086L1356 2085L1360 2088L1361 2094L1359 2098L1352 2101L1346 2098L1344 2094L1344 2090ZM1076 2094L1088 2095L1104 2101L1110 2106L1112 2110L1108 2116L1091 2126L1087 2130L1086 2134L1086 2146L1022 2146L1019 2122L1017 2118L1009 2110L1008 2106L1008 2102L1015 2098L1020 2098L1036 2104L1044 2105ZM848 2109L856 2108L928 2115L968 2130L972 2134L977 2146L918 2146L920 2138L919 2130L917 2126L912 2123L900 2121L868 2120L856 2122L846 2126L842 2134L842 2146L812 2146L812 2120L820 2119Z"/>
<path fill="#cfdaea" stroke="#cfdaea" stroke-width="0.6" d="M940 2002L988 2002L988 2006L984 2021L980 2025L952 2025L944 2021L939 2002ZM1096 2002L1234 2002L1234 2014L1233 2018L1228 2021L1166 2026L1158 2030L1165 2034L1185 2038L1235 2042L1251 2046L1268 2054L1292 2055L1320 2060L1344 2058L1364 2059L1380 2054L1392 2054L1444 2066L1480 2081L1492 2084L1504 2082L1536 2073L1548 2065L1556 2063L1565 2066L1580 2079L1588 2082L1596 2080L1603 2074L1605 2070L1609 2054L1604 2046L1590 2010L1589 2002L1664 2002L1661 2022L1661 2050L1658 2062L1658 2066L1664 2078L1665 2086L1658 2102L1652 2111L1636 2122L1620 2127L1615 2130L1614 2134L1614 2146L1562 2146L1563 2138L1556 2126L1570 2118L1573 2114L1574 2110L1571 2102L1560 2090L1556 2088L1520 2091L1496 2094L1464 2090L1456 2088L1440 2077L1424 2073L1404 2065L1392 2063L1386 2066L1384 2070L1385 2098L1380 2107L1372 2113L1364 2115L1336 2119L1324 2116L1312 2108L1310 2102L1308 2082L1306 2078L1296 2073L1284 2072L1276 2075L1272 2078L1270 2082L1268 2102L1264 2110L1236 2127L1234 2130L1234 2146L1158 2146L1159 2138L1158 2130L1161 2126L1176 2120L1208 2110L1221 2102L1229 2094L1234 2082L1232 2074L1225 2062L1216 2055L1204 2052L1160 2054L1140 2052L1120 2054L1012 2056L1000 2056L994 2054L1036 2048L1060 2043L1078 2034L1096 2029L1100 2026L1101 2022L1095 2006L1094 2002ZM1347 2086L1344 2090L1344 2094L1346 2098L1352 2101L1359 2098L1361 2094L1360 2088L1356 2085L1352 2085ZM1609 2098L1605 2102L1604 2106L1608 2109L1612 2109L1619 2106L1621 2102L1618 2098L1612 2097ZM1576 2012L1580 2012L1581 2014L1579 2026L1576 2034L1572 2037L1568 2036L1563 2034L1561 2030L1562 2026L1568 2018ZM968 2058L984 2057L990 2058L972 2061L965 2058ZM1076 2081L1088 2079L1108 2080L1113 2082L1124 2097L1136 2102L1139 2106L1140 2110L1138 2126L1132 2135L1130 2146L1086 2146L1086 2134L1087 2130L1091 2126L1108 2116L1112 2110L1110 2106L1104 2101L1084 2094L1072 2094L1044 2105L1036 2104L1020 2098L1015 2098L1008 2102L1008 2106L1009 2110L1017 2118L1019 2122L1022 2146L977 2146L972 2134L968 2130L932 2116L920 2113L852 2108L820 2119L812 2120L812 2102L820 2104L828 2104L833 2102L844 2094L852 2094L868 2100L884 2100L908 2103L936 2104L968 2114L976 2110L988 2098L1005 2090L1020 2088L1044 2093ZM1404 2118L1420 2120L1436 2126L1441 2130L1442 2134L1442 2146L1390 2146L1390 2138L1388 2126L1392 2122ZM1348 2131L1356 2131L1359 2134L1358 2146L1346 2146L1344 2135Z"/>
<path fill="#e9d5cb" stroke="#e9d5cb" stroke-width="0.6" d="M932 2002L939 2002L945 2022L952 2025L972 2026L980 2025L983 2022L987 2010L988 2002L994 2002L991 2026L992 2030L996 2033L1000 2034L1032 2031L1040 2028L1045 2022L1045 2018L1042 2002L1094 2002L1101 2022L1100 2026L1096 2029L1078 2034L1060 2043L1036 2048L994 2054L1000 2056L1012 2056L1120 2054L1136 2052L1160 2054L1188 2052L1208 2052L1215 2054L1220 2057L1228 2066L1233 2078L1233 2086L1226 2098L1212 2109L1176 2120L1161 2126L1158 2130L1159 2138L1158 2146L1130 2146L1132 2135L1138 2126L1140 2110L1139 2106L1136 2102L1124 2097L1112 2081L1104 2079L1092 2079L1080 2080L1044 2093L1020 2088L1008 2089L992 2095L983 2102L976 2110L968 2114L936 2104L908 2103L884 2100L868 2100L848 2093L844 2094L832 2103L824 2104L816 2103L812 2102L812 2084L824 2082L836 2074L844 2071L852 2073L868 2080L888 2082L912 2090L940 2093L960 2097L968 2095L984 2084L1016 2080L1044 2082L1056 2076L1058 2074L1059 2070L1052 2066L1048 2066L1032 2065L1004 2067L992 2069L976 2075L932 2068L908 2058L903 2054L902 2050L904 2049L911 2046L935 2042L948 2038L940 2032L936 2026L930 2002ZM965 2058L972 2061L990 2058L980 2057ZM1143 2066L1140 2067L1134 2070L1134 2074L1136 2078L1148 2087L1172 2095L1184 2096L1196 2092L1203 2086L1206 2078L1204 2070L1200 2066L1196 2065L1184 2065L1164 2068ZM1388 2065L1396 2063L1404 2065L1424 2073L1440 2077L1456 2088L1484 2093L1500 2094L1520 2091L1556 2088L1560 2090L1571 2102L1574 2110L1573 2114L1570 2118L1556 2126L1563 2138L1562 2146L1514 2146L1516 2142L1512 2140L1512 2146L1442 2146L1442 2134L1440 2129L1436 2126L1424 2121L1408 2117L1400 2118L1392 2122L1388 2126L1390 2138L1390 2146L1358 2146L1359 2134L1356 2131L1352 2130L1348 2131L1344 2134L1344 2138L1346 2146L1234 2146L1234 2130L1236 2127L1264 2110L1268 2102L1270 2082L1272 2078L1278 2074L1284 2072L1292 2072L1304 2077L1308 2082L1310 2102L1313 2110L1328 2117L1344 2119L1372 2113L1381 2106L1385 2098L1384 2070ZM1467 2110L1466 2114L1472 2119L1476 2118L1481 2114L1481 2110L1476 2108L1472 2108ZM1514 2110L1513 2114L1516 2115L1521 2114L1523 2110L1520 2109ZM1612 2097L1618 2098L1621 2102L1619 2106L1616 2108L1608 2109L1604 2106L1605 2102Z"/>
<path fill="#f6bda2" stroke="#f6bda2" stroke-width="0.6" d="M864 2002L930 2002L936 2026L940 2032L948 2038L935 2042L911 2046L902 2050L903 2054L908 2058L920 2064L936 2069L976 2075L1000 2067L1044 2065L1056 2068L1059 2070L1058 2074L1054 2078L1044 2082L1016 2080L984 2084L964 2097L940 2093L912 2090L888 2082L868 2080L848 2072L840 2072L824 2082L812 2084L812 2056L832 2054L844 2050L849 2046L859 2030L858 2014L861 2002ZM996 2002L1000 2002L998 2018L999 2022L1008 2024L1028 2024L1034 2022L1036 2018L1034 2002L1042 2002L1045 2018L1045 2022L1040 2028L1032 2031L996 2033L992 2030L991 2022L994 2002ZM1144 2066L1164 2068L1184 2065L1196 2065L1200 2066L1204 2070L1206 2078L1203 2086L1196 2092L1184 2096L1172 2095L1148 2087L1136 2078L1134 2074L1134 2070L1140 2067ZM1468 2109L1472 2108L1480 2109L1481 2110L1481 2114L1476 2118L1470 2118L1466 2114ZM1516 2110L1523 2110L1521 2114L1516 2115L1513 2114ZM1512 2140L1516 2142L1514 2146L1512 2146Z"/>
<path fill="#f4987a" stroke="#f4987a" stroke-width="0.6" d="M816 2002L861 2002L858 2014L859 2030L849 2046L844 2050L828 2055L812 2056L812 2002ZM1000 2002L1034 2002L1036 2019L1034 2022L1028 2024L1008 2024L1000 2023L998 2018Z"/>
</g>
<g clip-path="url(#ax2)">
<path fill="#fff" d="M1332.1 2011.1L1394.2 2011.1L1394.2 2019.1L1334.8 2019.1Z"/>
<path fill="#fff" d="M1434.7 2017L1448.2 2024.5L1461.7 2033.2L1477.9 2034.5L1488.7 2025.1L1500 2011.6L1461.7 2011.6Z"/>
<path fill="#fff" d="M1429.7 2021.8L1448.6 2023.7L1463.4 2034.5L1481 2033.2L1499.9 2013.8L1464.8 2012.9L1458 2018.3Z"/>
<path fill="none" stroke="#1a1a1a" stroke-width="2.6" stroke-linejoin="round" d="M819.9 2017.4L843.2 2030.6L867.5 2043.8L894.5 2054.3L921.5 2062.2L937.7 2062.2L961.9 2051.7L972.7 2046.4L979.4 2044.6L1019.8 2039.7L1044.1 2036.5L1084.6 2034.8L1104.9 2034.8L1145.3 2041.7L1185.8 2051.1L1202 2043.8L1226.3 2029.6L1246.6 2020.3L1283 2014.2L1315.4 2011.2L1338.5 2010.2"/>
<path fill="none" stroke="#000" stroke-width="4.2" stroke-linejoin="round" d="M1504.9 2010.2L1511.9 2011.4L1520.1 2017.3L1529.2 2021L1534.6 2025.5L1532.8 2036.5L1536.5 2045.6L1542.8 2052.9L1551.9 2058.7L1562.9 2062.2L1573.8 2061L1584.7 2057.9L1592 2054.7L1608.4 2055.6L1635.7 2055.6L1659.4 2054.7L1665.8 2050.1L1672.2 2048.3L1683.1 2050.1L1695.9 2054.7L1697.7 2062L1699.5 2069.2L1708.6 2072.5L1719.6 2071.1L1732.3 2070.2L1735 2076.5L1735.9 2085.6L1740 2092"/>
<path fill="none" stroke="#222" stroke-width="2.4" stroke-linejoin="round" d="M1740 2092L1742.3 2102L1741 2112.8L1737.5 2121.7L1733.5 2137.8"/>
<path fill="#000" d="M1584.7 2058.7L1588.4 2054.7L1590.2 2045.6L1599.3 2044.7L1601.1 2049.2L1606.6 2047.8L1613.9 2048.3L1617.5 2051.9L1626.6 2049.2L1633.9 2048.8L1635.7 2053.8L1635.7 2058.3L1608.4 2062L1592 2061ZM1658.5 2039.2L1664.9 2041L1672.2 2045.6L1683.1 2047.8L1697.7 2052.9L1698.6 2060.1L1690.4 2058.3L1679.5 2056.5L1668.5 2053.8L1664.9 2047.4ZM1699.5 2068.9L1708.6 2071.4L1719.6 2068.3L1734.1 2067L1735.9 2076.5L1735 2087.5L1726.8 2082L1723.2 2076.5L1708.6 2075.1ZM1510 2011L1526.4 2011.4L1527.3 2015.5L1535.5 2017.3L1542.8 2022.8L1541.9 2027.4L1536.5 2029.2L1537.7 2036.5L1533.7 2039.2L1529.2 2034.6L1527.3 2027.4L1521 2024.6L1517.3 2018.3Z"/>
<path fill="none" stroke="#111" stroke-width="3.2" stroke-linejoin="round" d="M1672.5 2094.2L1676.5 2088.7L1683 2083.8L1693.5 2082.6L1697.4 2085.8L1693 2093.5L1686.8 2098.4L1676.5 2099.2Z"/>
<path fill="none" stroke="#000" stroke-width="12.5" stroke-linejoin="round" stroke-linecap="round" d="M1181 2045.3L1191.8 2038.6L1213.4 2030.5L1243 2023.7L1261.9 2018.3L1283.5 2014.8L1329.4 2014.3"/>
<path fill="none" stroke="#000" stroke-width="12.5" stroke-linejoin="round" stroke-linecap="round" d="M1181 2046.7L1189.1 2050.7L1213.4 2059.6L1229.6 2060.7L1240.4 2053.4L1275.4 2051.5L1291.6 2043.4L1315.9 2035.9L1340.2 2030.5L1391.5 2023.7L1402.3 2016.5L1434.7 2015.6L1446.8 2019.1L1459 2015.6"/>
<path fill="#000" d="M956.5 2053.4L975.4 2035.9L983.5 2032.6L1018.6 2032.6L1029.4 2025.6L1129.3 2025.6L1137.4 2030.5L1150.9 2034.5L1150.9 2039.9L1134.7 2040.7L1115.8 2056.1L999.7 2056.1L988.9 2061.5L972.7 2062.9L961.9 2058.8Z"/>
<path fill="#000" d="M1400 2010.2L1463.4 2010.2L1460.7 2018.3L1448.6 2023.7L1437.8 2019.7L1427 2023.7L1400 2023.7Z"/>
<path fill="#000" d="M1280.8 2010.2L1332.1 2010.2L1332.1 2017L1280.8 2017Z"/>
<path fill="#000" d="M1394.2 2010.2L1461.7 2010.2L1460.3 2017L1394.2 2017Z"/>
<path fill="#22386f" d="M1029.4 2038.6L1114.4 2038.6L1114.4 2044L1029.4 2044Z"/>
</g>
<line x1="817.6" y1="2010.2" x2="1749.8" y2="2010.2" stroke="#262626" stroke-width="3.3"/>
<line x1="817.6" y1="2138.4" x2="1749.8" y2="2138.4" stroke="#262626" stroke-width="3.3"/>
<line x1="819.9" y1="2010.2" x2="819.9" y2="2138.4" stroke="#262626" stroke-width="4.6"/>
<line x1="1747.5" y1="2010.2" x2="1747.5" y2="2138.4" stroke="#262626" stroke-width="4.6"/>
<line x1="804.4" y1="2010.2" x2="819.9" y2="2010.2" stroke="#262626" stroke-width="3.4"/>
<line x1="804.4" y1="2075" x2="819.9" y2="2075" stroke="#262626" stroke-width="3.4"/>
<line x1="804.4" y1="2138.4" x2="819.9" y2="2138.4" stroke="#262626" stroke-width="3.4"/>
<line x1="819.9" y1="2138.4" x2="819.9" y2="2151.9" stroke="#262626" stroke-width="4.2"/>
<line x1="1052.6" y1="2138.4" x2="1052.6" y2="2151.9" stroke="#262626" stroke-width="4.2"/>
<line x1="1281.6" y1="2138.4" x2="1281.6" y2="2151.9" stroke="#262626" stroke-width="4.2"/>
<line x1="1514" y1="2138.4" x2="1514" y2="2151.9" stroke="#262626" stroke-width="4.2"/>
<line x1="1747.5" y1="2138.4" x2="1747.5" y2="2151.9" stroke="#262626" stroke-width="4.2"/>
<text transform="translate(786.5 2025.4) scale(1.4000 1)" font-size="38.5" text-anchor="end" fill="#1c1c1c">6°N</text>
<text transform="translate(786.5 2090.2) scale(1.4000 1)" font-size="38.5" text-anchor="end" fill="#1c1c1c">4°N</text>
<text transform="translate(786.5 2153.6) scale(1.4000 1)" font-size="38.5" text-anchor="end" fill="#1c1c1c">2°N</text>
<text transform="translate(818.9 2192) scale(1.4000 1)" font-size="38.5" text-anchor="middle" fill="#1c1c1c">10°W</text>
<text transform="translate(1051.6 2192) scale(1.4000 1)" font-size="38.5" text-anchor="middle" fill="#1c1c1c">5°W</text>
<text transform="translate(1283.6 2192) scale(1.4000 1)" font-size="38.5" text-anchor="middle" fill="#1c1c1c">0°E</text>
<text transform="translate(1518.5 2192) scale(1.4000 1)" font-size="38.5" text-anchor="middle" fill="#1c1c1c">5°E</text>
<text transform="translate(1743.5 2192) scale(1.4000 1)" font-size="38.5" text-anchor="middle" fill="#1c1c1c">10°E</text>
<text transform="translate(1280.6 1989.9) scale(1.4000 1)" font-size="39" text-anchor="middle" fill="#1c1c1c" xml:space="preserve">2010-07-31</text>
</g>
<g id="panel-c3">
<defs><clipPath id="oc3"><path d="M819.9 2400.1L819.9 2276.7L843.2 2290.2L867.5 2303.6L894.5 2314.4L921.5 2322.5L937.7 2322.5L961.9 2311.7L972.7 2306.3L979.4 2304.4L1019.8 2299.5L1044.1 2296.2L1084.6 2294.5L1104.9 2294.5L1145.3 2301.6L1185.8 2311.1L1202 2303.6L1226.3 2289.1L1246.6 2279.7L1283 2273.5L1315.4 2270.4L1338.5 2269.4L1504.9 2269.4L1511.9 2270.6L1520.1 2276.6L1529.2 2280.4L1534.6 2285L1532.8 2296.2L1536.5 2305.5L1542.8 2312.9L1551.9 2318.8L1562.9 2322.5L1573.8 2321.2L1584.7 2318L1592 2314.8L1608.4 2315.7L1635.7 2315.7L1659.4 2314.8L1665.8 2310L1672.2 2308.2L1683.1 2310L1695.9 2314.8L1697.7 2322.2L1699.5 2329.5L1708.6 2332.9L1719.6 2331.5L1732.3 2330.6L1735 2337L1735.9 2346.3L1740 2352.8L1742.3 2363L1741 2374L1737.5 2383.1L1733.5 2399.4L1733.5 2400.1Z"/></clipPath><clipPath id="ax3"><rect x="819.9" y="2269.4" width="927.6" height="130.7"/></clipPath></defs>
<g fill-rule="evenodd" clip-path="url(#oc3)">
<path fill="#4961d2" stroke="#4961d2" stroke-width="0.6" d="M1420 2261L1486 2261L1485 2269L1483 2273L1480 2276L1472 2279L1460 2280L1440 2278L1422 2273L1418 2269L1418 2261ZM1752 2324L1756 2321L1756 2389L1732 2374L1728 2369L1727 2365L1728 2353L1731 2345Z"/>
<path fill="#6a8bef" stroke="#6a8bef" stroke-width="0.6" d="M1392 2261L1418 2261L1418 2269L1422 2273L1440 2278L1460 2280L1472 2279L1480 2276L1483 2273L1485 2269L1486 2261L1513 2261L1508 2273L1501 2281L1488 2289L1472 2294L1448 2292L1424 2286L1384 2281L1380 2280L1377 2277L1380 2273L1388 2268L1391 2261ZM1712 2261L1756 2261L1756 2321L1748 2327L1732 2344L1728 2353L1727 2361L1728 2369L1731 2373L1756 2389L1756 2409L1706 2409L1706 2389L1713 2373L1714 2361L1712 2353L1702 2325L1702 2293L1710 2261Z"/>
<path fill="#8db0fe" stroke="#8db0fe" stroke-width="0.6" d="M1372 2265L1373 2261L1391 2261L1388 2268L1380 2273L1377 2277L1384 2281L1424 2286L1448 2292L1472 2294L1488 2289L1501 2281L1508 2273L1513 2261L1558 2261L1542 2277L1541 2281L1544 2285L1549 2289L1552 2293L1552 2295L1548 2297L1516 2297L1492 2307L1480 2309L1460 2304L1440 2303L1416 2296L1380 2293L1296 2281L1296 2277L1308 2276L1316 2276L1328 2279L1340 2279L1364 2271ZM1648 2261L1710 2261L1702 2289L1702 2321L1703 2329L1712 2353L1714 2365L1713 2373L1706 2389L1706 2409L1670 2409L1668 2397L1668 2389L1673 2381L1688 2371L1692 2366L1692 2341L1686 2333L1656 2317L1652 2313L1650 2281L1646 2265L1646 2261Z"/>
<path fill="#afcafc" stroke="#afcafc" stroke-width="0.6" d="M940 2261L977 2261L976 2270L972 2276L964 2278L944 2278L940 2276L938 2273ZM1248 2261L1326 2261L1326 2265L1328 2268L1336 2270L1340 2269L1344 2267L1346 2261L1373 2261L1372 2265L1368 2269L1340 2279L1328 2279L1316 2276L1308 2276L1296 2277L1296 2281L1380 2293L1416 2296L1440 2303L1460 2304L1480 2309L1492 2307L1516 2297L1548 2297L1552 2295L1552 2293L1549 2289L1544 2285L1541 2281L1542 2277L1558 2261L1572 2261L1563 2277L1562 2281L1564 2285L1568 2288L1608 2299L1636 2305L1640 2303L1642 2297L1642 2285L1638 2261L1646 2261L1650 2281L1652 2313L1656 2317L1684 2332L1690 2337L1693 2345L1692 2365L1690 2369L1673 2381L1670 2385L1668 2393L1670 2409L1630 2409L1630 2393L1632 2389L1663 2361L1666 2357L1666 2353L1663 2341L1657 2333L1640 2323L1628 2320L1604 2317L1564 2318L1536 2314L1528 2317L1516 2328L1508 2329L1492 2324L1472 2321L1456 2316L1432 2314L1396 2303L1372 2305L1352 2300L1332 2299L1292 2300L1272 2295L1222 2289L1199 2285L1204 2283L1240 2277L1244 2273L1246 2269L1244 2261ZM872 2385L928 2384L968 2387L974 2389L977 2393L980 2409L864 2409L863 2401L862 2393L864 2389Z"/>
<path fill="#cfdaea" stroke="#cfdaea" stroke-width="0.6" d="M936 2261L939 2261L938 2273L940 2276L944 2278L964 2278L972 2276L976 2270L977 2261L982 2261L980 2273L976 2281L972 2284L968 2285L944 2284L935 2281L931 2277L931 2273L933 2261ZM1012 2261L1102 2261L1101 2273L1101 2277L1104 2280L1108 2281L1176 2277L1196 2271L1216 2274L1233 2269L1236 2265L1235 2261L1244 2261L1246 2269L1244 2273L1240 2277L1204 2283L1200 2286L1272 2295L1292 2300L1332 2299L1352 2300L1372 2305L1396 2303L1432 2314L1456 2316L1472 2321L1492 2324L1508 2329L1516 2328L1528 2317L1536 2314L1564 2318L1600 2317L1628 2320L1644 2325L1657 2333L1663 2341L1666 2353L1666 2357L1663 2361L1632 2389L1630 2393L1630 2409L1591 2409L1592 2397L1591 2389L1593 2385L1620 2369L1638 2349L1639 2345L1638 2341L1636 2337L1632 2335L1624 2336L1612 2341L1596 2341L1588 2340L1563 2333L1544 2332L1532 2334L1516 2342L1508 2343L1488 2336L1468 2335L1449 2325L1424 2323L1396 2313L1387 2313L1368 2320L1340 2317L1320 2324L1316 2324L1304 2320L1276 2320L1252 2310L1204 2304L1140 2300L1104 2300L1084 2302L1064 2301L1053 2297L1067 2293L1075 2289L1070 2285L1024 2279L1020 2278ZM1328 2261L1346 2261L1344 2267L1340 2269L1336 2270L1328 2268L1326 2265L1326 2261ZM1572 2262L1572 2261L1638 2261L1642 2285L1642 2297L1640 2303L1636 2305L1632 2304L1608 2299L1572 2290L1564 2285L1562 2281L1563 2277ZM988 2301L1024 2299L1032 2299L1039 2301L952 2328L944 2328L936 2325L922 2313L922 2309L932 2306ZM1344 2344L1356 2342L1380 2344L1387 2349L1387 2357L1384 2362L1368 2367L1352 2368L1340 2367L1336 2365L1333 2361L1333 2357L1337 2349ZM1024 2369L1032 2367L1072 2368L1088 2366L1100 2366L1108 2369L1111 2373L1110 2377L1108 2381L1100 2386L1097 2389L1094 2409L980 2409L977 2393L972 2388L960 2385L924 2384L876 2385L868 2386L864 2389L862 2393L863 2401L864 2409L812 2409L812 2380L832 2381L852 2375L864 2373L900 2375L924 2373L948 2374L972 2373L1004 2376L1012 2374Z"/>
<path fill="#e9d5cb" stroke="#e9d5cb" stroke-width="0.6" d="M928 2261L933 2261L931 2273L932 2278L936 2282L944 2284L968 2285L976 2282L980 2273L982 2261L985 2261L982 2285L985 2289L992 2291L1004 2288L1011 2281L1011 2273L1007 2261L1012 2261L1020 2278L1024 2279L1070 2285L1075 2289L1067 2293L1053 2297L1064 2301L1084 2302L1104 2300L1140 2300L1204 2304L1252 2310L1276 2320L1304 2320L1316 2324L1320 2324L1340 2317L1368 2320L1387 2313L1396 2313L1424 2323L1449 2325L1468 2335L1488 2336L1508 2343L1516 2342L1536 2333L1548 2332L1564 2334L1588 2340L1596 2341L1612 2341L1628 2335L1636 2337L1638 2341L1639 2345L1635 2353L1620 2369L1593 2385L1591 2389L1592 2397L1591 2409L1574 2409L1572 2400L1568 2396L1564 2394L1527 2389L1539 2385L1556 2383L1564 2377L1564 2361L1560 2356L1556 2355L1548 2355L1496 2366L1484 2367L1476 2364L1444 2342L1424 2337L1404 2326L1396 2325L1394 2329L1404 2341L1412 2360L1476 2387L1478 2389L1475 2397L1477 2409L1304 2409L1302 2397L1302 2385L1300 2377L1302 2349L1300 2341L1297 2337L1288 2335L1280 2338L1276 2344L1273 2365L1271 2373L1266 2377L1260 2378L1248 2373L1245 2369L1248 2349L1246 2341L1242 2333L1235 2325L1220 2320L1188 2315L1148 2312L1124 2311L1088 2315L1068 2312L1040 2312L1020 2314L996 2319L952 2335L940 2336L932 2334L920 2328L895 2309L891 2305L890 2301L898 2297L928 2293L931 2289L926 2281L925 2273ZM987 2301L932 2306L922 2309L922 2313L936 2325L944 2328L952 2328L1039 2301L1032 2299L1024 2299ZM1341 2345L1336 2350L1333 2357L1333 2361L1336 2365L1340 2367L1352 2368L1368 2367L1384 2362L1387 2357L1387 2349L1383 2345L1376 2343L1352 2342ZM1104 2261L1235 2261L1236 2265L1233 2269L1216 2274L1196 2271L1176 2277L1108 2281L1104 2280L1101 2277L1101 2273L1102 2261ZM1016 2353L1024 2353L1044 2357L1072 2350L1092 2355L1108 2354L1116 2359L1124 2368L1128 2370L1140 2371L1144 2373L1156 2385L1160 2386L1176 2382L1184 2381L1196 2382L1203 2385L1212 2409L1094 2409L1097 2389L1100 2386L1108 2381L1110 2377L1111 2373L1109 2369L1100 2366L1084 2366L1068 2368L1056 2367L1028 2368L1008 2375L1000 2376L972 2373L948 2374L924 2373L900 2375L864 2373L852 2375L832 2381L812 2380L812 2371L828 2370L852 2365L896 2366L920 2360L932 2358L948 2364L956 2364L992 2361ZM1155 2393L1152 2397L1156 2402L1160 2398L1160 2396L1156 2392ZM1240 2391L1244 2391L1247 2393L1247 2397L1244 2402L1240 2403L1237 2401L1235 2397L1236 2393Z"/>
<path fill="#f6bda2" stroke="#f6bda2" stroke-width="0.6" d="M888 2261L927 2261L925 2269L925 2277L931 2289L928 2293L898 2297L890 2301L891 2305L895 2309L916 2325L924 2330L936 2336L944 2337L952 2335L992 2321L1012 2316L1036 2312L1064 2312L1088 2315L1104 2312L1128 2311L1192 2315L1224 2321L1235 2325L1244 2337L1247 2345L1248 2353L1245 2369L1252 2375L1264 2378L1268 2377L1272 2370L1277 2341L1280 2337L1284 2336L1292 2335L1297 2337L1301 2345L1302 2357L1300 2377L1302 2385L1302 2397L1304 2409L1212 2409L1207 2397L1206 2389L1203 2385L1200 2384L1192 2382L1180 2381L1160 2386L1156 2385L1140 2371L1128 2370L1124 2368L1112 2356L1108 2354L1092 2355L1072 2350L1044 2357L1024 2353L1016 2353L992 2361L956 2364L948 2364L936 2359L928 2358L900 2365L856 2364L828 2370L812 2371L812 2359L831 2357L848 2349L856 2349L869 2353L880 2354L885 2353L890 2349L891 2345L890 2337L883 2321L861 2301L857 2297L856 2293L860 2289L877 2285L883 2281L885 2273L886 2261ZM1005 2321L992 2325L977 2333L970 2341L969 2345L972 2349L976 2350L988 2350L1020 2343L1044 2344L1064 2336L1072 2334L1088 2339L1096 2340L1101 2337L1103 2333L1102 2329L1100 2328L1080 2327L1065 2321L1056 2320L1028 2319ZM1131 2329L1128 2333L1127 2337L1128 2341L1132 2346L1138 2349L1157 2353L1173 2361L1192 2365L1200 2365L1208 2361L1213 2353L1213 2349L1209 2337L1206 2333L1199 2329L1188 2327L1168 2330L1152 2328ZM1236 2393L1236 2400L1240 2403L1244 2402L1247 2397L1247 2393L1244 2391L1240 2391ZM987 2265L986 2277L987 2281L992 2285L996 2284L1003 2281L1007 2277L1007 2273L1003 2261L1007 2261L1010 2269L1011 2277L1011 2281L1008 2285L996 2290L988 2290L984 2289L982 2285L982 2277L985 2261L987 2261ZM1396 2325L1404 2326L1424 2337L1444 2342L1476 2364L1484 2367L1496 2366L1548 2355L1556 2355L1560 2356L1564 2361L1564 2377L1556 2383L1539 2385L1527 2389L1564 2394L1568 2396L1572 2400L1574 2409L1477 2409L1475 2397L1478 2389L1476 2387L1412 2360L1404 2341L1394 2329ZM1156 2392L1159 2393L1160 2397L1156 2402L1152 2397Z"/>
<path fill="#f4987a" stroke="#f4987a" stroke-width="0.6" d="M816 2261L886 2261L885 2273L883 2281L877 2285L860 2289L856 2293L857 2297L861 2301L880 2317L886 2325L891 2341L891 2345L888 2351L884 2354L876 2354L852 2349L848 2349L831 2357L812 2359L812 2261ZM988 2261L990 2261L989 2273L990 2277L992 2279L996 2279L1001 2277L1003 2273L1000 2261L1003 2261L1007 2273L1007 2277L1004 2281L996 2284L992 2285L988 2283L986 2277ZM1008 2321L1028 2319L1056 2320L1065 2321L1080 2327L1100 2328L1102 2329L1103 2333L1101 2337L1096 2340L1088 2339L1072 2334L1064 2336L1044 2344L1020 2343L988 2350L976 2350L972 2349L969 2345L970 2341L977 2333L992 2325ZM998 2329L995 2333L996 2335L999 2337L1004 2338L1016 2333L1023 2329L1012 2326ZM1132 2329L1152 2328L1168 2330L1188 2327L1199 2329L1206 2333L1209 2337L1213 2349L1213 2353L1208 2361L1200 2365L1192 2365L1173 2361L1157 2353L1138 2349L1132 2346L1128 2341L1127 2337L1128 2333Z"/>
<path fill="#e36c55" stroke="#e36c55" stroke-width="0.6" d="M992 2261L1000 2261L1003 2269L1003 2273L1001 2277L996 2279L992 2279L989 2273L990 2261ZM1000 2329L1012 2326L1023 2329L1008 2337L1000 2338L995 2333Z"/>
</g>
<g clip-path="url(#ax3)">
<rect x="819.9" y="2395.5" width="927.6" height="3" fill="#fff"/>
<path fill="none" stroke="#1a1a1a" stroke-width="2.6" stroke-linejoin="round" d="M819.9 2276.7L843.2 2290.2L867.5 2303.6L894.5 2314.4L921.5 2322.5L937.7 2322.5L961.9 2311.7L972.7 2306.3L979.4 2304.4L1019.8 2299.5L1044.1 2296.2L1084.6 2294.5L1104.9 2294.5L1145.3 2301.6L1185.8 2311.1L1202 2303.6L1226.3 2289.1L1246.6 2279.7L1283 2273.5L1315.4 2270.4L1338.5 2269.4"/>
<path fill="none" stroke="#000" stroke-width="4.2" stroke-linejoin="round" d="M1504.9 2269.4L1511.9 2270.6L1520.1 2276.6L1529.2 2280.4L1534.6 2285L1532.8 2296.2L1536.5 2305.5L1542.8 2312.9L1551.9 2318.8L1562.9 2322.5L1573.8 2321.2L1584.7 2318L1592 2314.8L1608.4 2315.7L1635.7 2315.7L1659.4 2314.8L1665.8 2310L1672.2 2308.2L1683.1 2310L1695.9 2314.8L1697.7 2322.2L1699.5 2329.5L1708.6 2332.9L1719.6 2331.5L1732.3 2330.6L1735 2337L1735.9 2346.3L1740 2352.8"/>
<path fill="none" stroke="#222" stroke-width="2.4" stroke-linejoin="round" d="M1740 2352.8L1742.3 2363L1741 2374L1737.5 2383.1L1733.5 2399.4"/>
<path fill="#000" d="M1584.7 2318.8L1588.4 2314.8L1590.2 2305.5L1599.3 2304.6L1601.1 2309.1L1606.6 2307.7L1613.9 2308.2L1617.5 2311.9L1626.6 2309.1L1633.9 2308.7L1635.7 2313.8L1635.7 2318.4L1608.4 2322.2L1592 2321.2ZM1658.5 2298.9L1664.9 2300.8L1672.2 2305.5L1683.1 2307.7L1697.7 2312.9L1698.6 2320.2L1690.4 2318.4L1679.5 2316.6L1668.5 2313.8L1664.9 2307.3ZM1699.5 2329.3L1708.6 2331.7L1719.6 2328.6L1734.1 2327.3L1735.9 2337L1735 2348.2L1726.8 2342.6L1723.2 2337L1708.6 2335.5ZM1510 2270.2L1526.4 2270.6L1527.3 2274.8L1535.5 2276.6L1542.8 2282.2L1541.9 2286.9L1536.5 2288.7L1537.7 2296.2L1533.7 2298.9L1529.2 2294.2L1527.3 2286.9L1521 2284L1517.3 2277.6Z"/>
<path fill="none" stroke="#111" stroke-width="3.2" stroke-linejoin="round" d="M1672.5 2355L1676.5 2349.4L1683 2344.4L1693.5 2343.2L1697.4 2346.5L1693 2354.4L1686.8 2359.3L1676.5 2360.1Z"/>
<path fill="none" stroke="#000" stroke-width="2.6" stroke-linejoin="round" stroke-linecap="round" d="M1150.9 2299.1L1177.9 2304L1152.6 2299.1L1175.6 2305.3"/>
<path fill="#000" d="M945.7 2314.8L951.1 2305.3L972.7 2299.9L983.5 2293.2L1018.6 2293.2L1024 2285.1L1037.5 2285.1L1051 2293.2L1037.5 2304L1024 2316.1L988.9 2316.1L975.4 2313.4L961.9 2321.5L949.8 2318.8Z"/>
<path fill="#000" d="M1051 2293.7L1056.4 2289.9L1096.9 2287.8L1110.4 2289.1L1110.4 2295.3L1056.4 2296.4Z"/>
<path fill="#000" d="M1122.5 2297.2L1126.6 2287.8L1137.4 2287.8L1150.9 2298.6L1145.5 2299.9Z"/>
<path fill="#000" d="M1124.3 2294.5L1127 2287.8L1136.4 2287.8L1140.5 2294.5L1151.3 2299.1L1127 2298.6Z"/>
<path fill="#000" d="M1175.6 2305.3L1189.1 2294.5L1213.4 2285.1L1245.7 2277L1278.1 2272.9L1283.5 2269.4L1392.8 2269.4L1388.8 2277L1380.7 2282.4L1356.4 2285.1L1342.9 2290.5L1329.4 2294.5L1310.5 2299.9L1299.7 2308L1229.6 2308L1218.8 2314.8L1189.1 2314.8Z"/>
<path fill="#8db0fe" d="M1253.8 2292.6L1283.5 2285.6L1324 2282.4L1318.6 2286.7L1302.4 2288.3L1297 2294.5L1261.9 2293.7Z"/>
<path fill="#fff" d="M1333.5 2271.6L1351 2271.6L1351 2277L1333.5 2277Z"/>
</g>
<line x1="817.6" y1="2269.4" x2="1749.8" y2="2269.4" stroke="#262626" stroke-width="3.3"/>
<line x1="817.6" y1="2400.1" x2="1749.8" y2="2400.1" stroke="#262626" stroke-width="3.3"/>
<line x1="819.9" y1="2269.4" x2="819.9" y2="2400.1" stroke="#262626" stroke-width="4.6"/>
<line x1="1747.5" y1="2269.4" x2="1747.5" y2="2400.1" stroke="#262626" stroke-width="4.6"/>
<line x1="804.4" y1="2269.4" x2="819.9" y2="2269.4" stroke="#262626" stroke-width="3.4"/>
<line x1="804.4" y1="2334" x2="819.9" y2="2334" stroke="#262626" stroke-width="3.4"/>
<line x1="804.4" y1="2400.1" x2="819.9" y2="2400.1" stroke="#262626" stroke-width="3.4"/>
<line x1="819.9" y1="2400.1" x2="819.9" y2="2413.6" stroke="#262626" stroke-width="4.2"/>
<line x1="1052.6" y1="2400.1" x2="1052.6" y2="2413.6" stroke="#262626" stroke-width="4.2"/>
<line x1="1281.6" y1="2400.1" x2="1281.6" y2="2413.6" stroke="#262626" stroke-width="4.2"/>
<line x1="1514" y1="2400.1" x2="1514" y2="2413.6" stroke="#262626" stroke-width="4.2"/>
<line x1="1747.5" y1="2400.1" x2="1747.5" y2="2413.6" stroke="#262626" stroke-width="4.2"/>
<text transform="translate(786.5 2284.6) scale(1.4000 1)" font-size="38.5" text-anchor="end" fill="#1c1c1c">6°N</text>
<text transform="translate(786.5 2349.2) scale(1.4000 1)" font-size="38.5" text-anchor="end" fill="#1c1c1c">4°N</text>
<text transform="translate(786.5 2415.3) scale(1.4000 1)" font-size="38.5" text-anchor="end" fill="#1c1c1c">2°N</text>
<text transform="translate(818.9 2453.7) scale(1.4000 1)" font-size="38.5" text-anchor="middle" fill="#1c1c1c">10°W</text>
<text transform="translate(1051.6 2453.7) scale(1.4000 1)" font-size="38.5" text-anchor="middle" fill="#1c1c1c">5°W</text>
<text transform="translate(1283.6 2453.7) scale(1.4000 1)" font-size="38.5" text-anchor="middle" fill="#1c1c1c">0°E</text>
<text transform="translate(1518.5 2453.7) scale(1.4000 1)" font-size="38.5" text-anchor="middle" fill="#1c1c1c">5°E</text>
<text transform="translate(1743.5 2453.7) scale(1.4000 1)" font-size="38.5" text-anchor="middle" fill="#1c1c1c">10°E</text>
<text transform="translate(1280.6 2249.1) scale(1.4000 1)" font-size="39" text-anchor="middle" fill="#1c1c1c" xml:space="preserve">2010-08-01</text>
</g>
<g id="panel-c4">
<defs><clipPath id="oc4"><path d="M819.9 2659.2L819.9 2535.9L843.2 2549.4L867.5 2562.8L894.5 2573.5L921.5 2581.6L937.7 2581.6L961.9 2570.9L972.7 2565.4L979.4 2563.6L1019.8 2558.6L1044.1 2555.4L1084.6 2553.7L1104.9 2553.7L1145.3 2560.7L1185.8 2570.3L1202 2562.8L1226.3 2548.3L1246.6 2538.9L1283 2532.6L1315.4 2529.6L1338.5 2528.6L1504.9 2528.6L1511.9 2529.8L1520.1 2535.8L1529.2 2539.6L1534.6 2544.1L1532.8 2555.4L1536.5 2564.6L1542.8 2572.1L1551.9 2578L1562.9 2581.6L1573.8 2580.3L1584.7 2577.2L1592 2573.9L1608.4 2574.8L1635.7 2574.8L1659.4 2573.9L1665.8 2569.2L1672.2 2567.4L1683.1 2569.2L1695.9 2573.9L1697.7 2581.4L1699.5 2588.7L1708.6 2592.1L1719.6 2590.6L1732.3 2589.7L1735 2596.1L1735.9 2605.4L1740 2611.9L1742.3 2622.1L1741 2633.1L1737.5 2642.2L1733.5 2658.5L1733.5 2659.2Z"/></clipPath><clipPath id="ax4"><rect x="819.9" y="2528.6" width="927.6" height="130.6"/></clipPath></defs>
<g fill-rule="evenodd" clip-path="url(#oc4)">
<path fill="#4961d2" stroke="#4961d2" stroke-width="0.6" d="M1752 2581L1756 2577L1756 2649L1732 2637L1728 2632L1725 2621L1726 2613L1729 2609Z"/>
<path fill="#6a8bef" stroke="#6a8bef" stroke-width="0.6" d="M1396 2521L1466 2521L1468 2541L1467 2545L1462 2549L1448 2552L1440 2552L1428 2550L1404 2540L1400 2536L1392 2521ZM1756 2568L1756 2577L1748 2585L1729 2609L1726 2613L1725 2621L1728 2632L1732 2637L1756 2649L1756 2669L1706 2669L1710 2645L1708 2621L1711 2613L1735 2589L1744 2577Z"/>
<path fill="#8db0fe" stroke="#8db0fe" stroke-width="0.6" d="M1380 2521L1392 2521L1401 2537L1408 2543L1432 2551L1444 2553L1460 2550L1467 2545L1468 2541L1466 2521L1474 2521L1476 2532L1485 2545L1487 2549L1486 2557L1480 2562L1460 2567L1428 2561L1408 2560L1400 2558L1371 2545L1372 2541L1377 2533L1378 2521ZM1736 2522L1736 2521L1756 2521L1756 2568L1744 2577L1735 2589L1711 2613L1708 2621L1710 2645L1706 2669L1688 2669L1686 2661L1685 2645L1691 2621L1695 2613L1706 2597Z"/>
<path fill="#afcafc" stroke="#afcafc" stroke-width="0.6" d="M1348 2521L1378 2521L1377 2533L1372 2541L1371 2545L1395 2557L1408 2560L1428 2561L1460 2567L1480 2562L1486 2557L1487 2549L1485 2545L1476 2532L1474 2521L1510 2521L1502 2549L1502 2565L1500 2573L1497 2577L1492 2579L1476 2584L1468 2585L1456 2583L1428 2573L1408 2573L1396 2571L1372 2561L1352 2559L1313 2545L1316 2540L1340 2535L1345 2529L1346 2521ZM1660 2521L1736 2521L1706 2597L1695 2613L1691 2621L1685 2645L1686 2661L1688 2669L1654 2669L1656 2648L1674 2621L1677 2605L1675 2593L1671 2589L1660 2581L1658 2577L1658 2521ZM920 2649L932 2650L939 2653L941 2657L942 2669L906 2669L906 2657L908 2653L912 2650Z"/>
<path fill="#cfdaea" stroke="#cfdaea" stroke-width="0.6" d="M936 2521L954 2521L954 2529L952 2534L948 2537L936 2536L933 2533L934 2521ZM976 2521L1018 2521L1017 2533L1013 2537L1008 2538L985 2537L980 2533L976 2525L975 2521ZM1308 2521L1346 2521L1345 2529L1340 2535L1315 2541L1313 2545L1322 2549L1352 2559L1372 2561L1400 2572L1428 2573L1456 2583L1468 2585L1488 2581L1497 2577L1501 2569L1502 2549L1510 2521L1528 2521L1520 2545L1517 2577L1518 2589L1516 2593L1512 2596L1496 2595L1460 2598L1444 2595L1424 2586L1400 2585L1380 2581L1376 2581L1360 2588L1352 2587L1320 2566L1309 2561L1280 2553L1241 2545L1264 2536L1304 2533L1308 2529ZM1608 2521L1658 2521L1658 2577L1660 2581L1671 2589L1675 2593L1677 2605L1674 2621L1656 2648L1654 2669L1594 2669L1594 2657L1596 2649L1601 2645L1628 2636L1644 2629L1652 2620L1660 2605L1660 2599L1656 2595L1652 2594L1640 2597L1632 2595L1606 2581L1594 2573L1591 2569L1604 2567L1608 2564L1610 2561L1609 2541L1606 2525L1606 2521ZM956 2572L965 2573L960 2577L945 2585L939 2585L938 2581L943 2577ZM1348 2608L1356 2608L1377 2613L1380 2616L1381 2621L1379 2629L1372 2632L1364 2632L1348 2631L1342 2629L1337 2625L1335 2621L1336 2617L1340 2611ZM1036 2624L1048 2625L1072 2629L1096 2627L1105 2629L1111 2633L1129 2649L1130 2653L1130 2669L942 2669L941 2657L939 2653L932 2650L920 2649L912 2650L908 2653L906 2657L906 2669L886 2669L885 2649L888 2645L892 2643L916 2640L944 2643L956 2642L988 2636L1011 2629ZM816 2643L836 2644L845 2649L848 2653L848 2657L846 2669L812 2669L812 2643Z"/>
<path fill="#e9d5cb" stroke="#e9d5cb" stroke-width="0.6" d="M928 2521L934 2521L933 2533L937 2537L948 2537L952 2534L954 2529L954 2521L975 2521L980 2533L984 2536L1004 2538L1012 2537L1016 2534L1018 2529L1018 2521L1032 2521L1033 2537L1030 2541L1016 2543L984 2543L976 2539L968 2529L964 2526L960 2537L957 2541L948 2543L936 2543L928 2541L924 2537L924 2533L926 2521ZM1252 2521L1307 2521L1308 2529L1304 2533L1264 2536L1241 2545L1280 2553L1309 2561L1320 2566L1352 2587L1360 2588L1376 2581L1380 2581L1400 2585L1424 2586L1444 2595L1460 2598L1496 2595L1512 2596L1516 2593L1518 2589L1517 2577L1520 2545L1528 2521L1606 2521L1609 2541L1610 2561L1608 2564L1604 2567L1591 2569L1594 2573L1606 2581L1632 2595L1640 2597L1652 2594L1656 2595L1660 2599L1660 2605L1652 2620L1644 2629L1628 2636L1601 2645L1596 2649L1594 2657L1594 2669L1562 2669L1562 2661L1559 2649L1564 2643L1582 2633L1585 2629L1586 2625L1576 2604L1572 2601L1560 2598L1552 2599L1544 2602L1524 2620L1512 2624L1504 2621L1484 2611L1472 2611L1452 2616L1420 2607L1412 2607L1408 2610L1406 2617L1407 2625L1409 2629L1421 2641L1428 2642L1440 2642L1448 2646L1454 2657L1458 2669L1320 2669L1319 2661L1318 2649L1316 2645L1301 2633L1276 2604L1263 2581L1258 2565L1252 2561L1232 2555L1212 2552L1168 2549L1144 2545L1180 2535L1244 2533L1251 2529L1250 2521ZM1345 2609L1340 2611L1336 2617L1335 2621L1337 2625L1342 2629L1348 2631L1364 2632L1372 2632L1379 2629L1381 2621L1380 2616L1377 2613L1352 2607ZM924 2560L944 2559L980 2560L1005 2565L1005 2569L974 2581L944 2599L932 2602L905 2597L900 2593L900 2589L899 2577L899 2573L902 2569L912 2563ZM955 2573L944 2576L940 2579L938 2581L939 2585L945 2585L960 2577L965 2573ZM1096 2613L1104 2612L1112 2615L1124 2626L1152 2641L1180 2645L1192 2644L1200 2647L1202 2649L1208 2669L1130 2669L1130 2653L1129 2649L1108 2630L1096 2627L1072 2629L1048 2625L1036 2624L1011 2629L988 2636L956 2642L944 2643L920 2640L896 2642L888 2644L885 2649L886 2669L846 2669L848 2657L848 2653L845 2649L832 2643L812 2643L812 2627L828 2628L860 2635L884 2632L940 2634L968 2628L988 2626L1004 2619L1036 2614L1048 2613L1072 2616ZM1256 2635L1260 2634L1264 2636L1266 2641L1266 2645L1269 2657L1266 2669L1238 2669L1237 2653L1240 2649L1250 2645L1253 2637Z"/>
<path fill="#f6bda2" stroke="#f6bda2" stroke-width="0.6" d="M868 2521L926 2521L924 2533L924 2537L928 2541L936 2543L948 2543L957 2541L960 2537L964 2526L968 2529L973 2537L980 2542L988 2543L1008 2544L1028 2541L1032 2539L1032 2521L1038 2521L1039 2533L1042 2537L1044 2539L1052 2540L1064 2539L1080 2535L1088 2534L1100 2534L1116 2538L1140 2537L1164 2531L1168 2529L1170 2521L1250 2521L1251 2529L1244 2533L1180 2535L1144 2545L1168 2549L1212 2552L1232 2555L1252 2561L1258 2565L1263 2581L1276 2604L1301 2633L1316 2645L1318 2649L1319 2661L1320 2669L1266 2669L1269 2657L1269 2653L1266 2645L1265 2637L1260 2634L1253 2637L1250 2645L1240 2649L1237 2653L1238 2669L1208 2669L1202 2649L1200 2647L1192 2644L1180 2645L1152 2641L1128 2629L1112 2615L1104 2612L1072 2616L1048 2613L1036 2614L1004 2619L988 2626L968 2628L940 2634L884 2632L860 2635L828 2628L812 2627L812 2607L824 2608L840 2612L848 2612L858 2605L876 2585L877 2581L875 2573L861 2557L861 2553L864 2549L865 2545L862 2533L865 2521ZM960 2549L968 2552L988 2553L1016 2559L1032 2565L1034 2569L1028 2572L1012 2573L987 2581L981 2585L968 2598L944 2615L924 2616L884 2612L879 2617L884 2619L894 2621L936 2623L948 2621L968 2613L984 2612L996 2609L1040 2604L1068 2605L1080 2603L1100 2597L1104 2593L1104 2581L1105 2577L1108 2575L1112 2574L1117 2577L1121 2581L1128 2601L1132 2609L1136 2612L1152 2614L1164 2618L1175 2629L1180 2631L1212 2630L1227 2625L1233 2621L1237 2617L1237 2609L1227 2593L1216 2583L1196 2573L1197 2565L1192 2561L1160 2555L1056 2549L1000 2550L980 2552L976 2549L972 2548L968 2547ZM921 2561L908 2565L900 2572L899 2577L900 2591L905 2597L932 2602L944 2599L974 2581L1005 2569L1005 2565L992 2561L976 2560L944 2559ZM1548 2600L1560 2598L1572 2601L1576 2605L1586 2625L1585 2629L1582 2633L1564 2643L1559 2649L1562 2661L1562 2669L1458 2669L1454 2657L1448 2646L1440 2642L1428 2642L1420 2640L1409 2629L1406 2621L1408 2610L1412 2607L1416 2606L1452 2616L1472 2611L1484 2611L1504 2621L1512 2624L1516 2623L1524 2620L1540 2605Z"/>
<path fill="#f4987a" stroke="#f4987a" stroke-width="0.6" d="M816 2521L865 2521L862 2537L865 2545L864 2549L861 2553L861 2557L872 2569L877 2577L877 2581L876 2585L870 2593L856 2607L848 2612L840 2612L824 2608L812 2607L812 2587L844 2588L848 2586L852 2581L852 2577L848 2572L832 2564L812 2563L812 2521ZM1040 2521L1044 2521L1045 2529L1048 2532L1056 2533L1064 2531L1068 2529L1070 2521L1106 2521L1107 2525L1110 2529L1116 2531L1124 2532L1136 2532L1144 2530L1149 2525L1150 2521L1170 2521L1168 2529L1164 2531L1140 2537L1116 2538L1100 2534L1088 2534L1080 2535L1064 2539L1052 2540L1044 2539L1040 2534L1038 2521ZM964 2547L968 2547L976 2549L980 2552L1048 2549L1132 2553L1173 2557L1192 2561L1197 2565L1196 2573L1216 2583L1227 2593L1237 2609L1237 2617L1233 2621L1227 2625L1212 2630L1180 2631L1175 2629L1164 2618L1152 2614L1136 2612L1132 2609L1128 2601L1121 2581L1117 2577L1112 2574L1108 2575L1105 2577L1104 2581L1104 2593L1100 2597L1080 2603L1068 2605L1040 2604L996 2609L984 2612L968 2613L948 2621L936 2623L894 2621L884 2619L879 2617L884 2612L924 2616L944 2615L968 2598L981 2585L987 2581L1012 2573L1028 2572L1032 2571L1034 2569L1032 2565L1022 2561L988 2553L968 2552L960 2549ZM1049 2561L1049 2573L1044 2580L1040 2583L1032 2584L1016 2579L1004 2580L992 2585L988 2589L987 2593L988 2595L992 2598L1004 2599L1032 2591L1064 2593L1076 2590L1081 2585L1080 2581L1072 2572L1070 2569L1070 2561L1056 2558Z"/>
<path fill="#e36c55" stroke="#e36c55" stroke-width="0.6" d="M1044 2521L1070 2521L1068 2529L1064 2531L1056 2533L1048 2532L1045 2529ZM1108 2521L1150 2521L1149 2525L1144 2530L1136 2532L1124 2532L1116 2531L1110 2529L1107 2525L1106 2521ZM1052 2559L1060 2558L1070 2561L1070 2569L1072 2572L1080 2581L1081 2585L1076 2590L1064 2593L1032 2591L1004 2599L992 2598L988 2595L987 2593L988 2589L992 2585L1004 2580L1016 2579L1032 2584L1040 2583L1044 2580L1048 2575L1050 2569L1049 2561ZM816 2563L832 2564L843 2569L849 2573L852 2576L852 2581L848 2586L840 2589L828 2587L812 2587L812 2563Z"/>
</g>
<g clip-path="url(#ax4)">
<rect x="819.9" y="2654.6" width="927.6" height="3" fill="#fff"/>
<path fill="none" stroke="#1a1a1a" stroke-width="2.6" stroke-linejoin="round" d="M819.9 2535.9L843.2 2549.4L867.5 2562.8L894.5 2573.5L921.5 2581.6L937.7 2581.6L961.9 2570.9L972.7 2565.4L979.4 2563.6L1019.8 2558.6L1044.1 2555.4L1084.6 2553.7L1104.9 2553.7L1145.3 2560.7L1185.8 2570.3L1202 2562.8L1226.3 2548.3L1246.6 2538.9L1283 2532.6L1315.4 2529.6L1338.5 2528.6"/>
<path fill="none" stroke="#000" stroke-width="4.2" stroke-linejoin="round" d="M1504.9 2528.6L1511.9 2529.8L1520.1 2535.8L1529.2 2539.6L1534.6 2544.1L1532.8 2555.4L1536.5 2564.6L1542.8 2572.1L1551.9 2578L1562.9 2581.6L1573.8 2580.3L1584.7 2577.2L1592 2573.9L1608.4 2574.8L1635.7 2574.8L1659.4 2573.9L1665.8 2569.2L1672.2 2567.4L1683.1 2569.2L1695.9 2573.9L1697.7 2581.4L1699.5 2588.7L1708.6 2592.1L1719.6 2590.6L1732.3 2589.7L1735 2596.1L1735.9 2605.4L1740 2611.9"/>
<path fill="none" stroke="#222" stroke-width="2.4" stroke-linejoin="round" d="M1740 2611.9L1742.3 2622.1L1741 2633.1L1737.5 2642.2L1733.5 2658.5"/>
<path fill="#000" d="M1584.7 2578L1588.4 2573.9L1590.2 2564.6L1599.3 2563.7L1601.1 2568.3L1606.6 2566.9L1613.9 2567.4L1617.5 2571L1626.6 2568.3L1633.9 2567.9L1635.7 2573L1635.7 2577.6L1608.4 2581.4L1592 2580.3ZM1658.5 2558.1L1664.9 2559.9L1672.2 2564.6L1683.1 2566.9L1697.7 2572.1L1698.6 2579.4L1690.4 2577.6L1679.5 2575.7L1668.5 2573L1664.9 2566.5ZM1699.5 2588.4L1708.6 2590.9L1719.6 2587.8L1734.1 2586.5L1735.9 2596.1L1735 2607.4L1726.8 2601.7L1723.2 2596.1L1708.6 2594.7ZM1510 2529.4L1526.4 2529.8L1527.3 2534L1535.5 2535.8L1542.8 2541.4L1541.9 2546.1L1536.5 2547.9L1537.7 2555.4L1533.7 2558.1L1529.2 2553.4L1527.3 2546.1L1521 2543.2L1517.3 2536.8Z"/>
<path fill="none" stroke="#111" stroke-width="3.2" stroke-linejoin="round" d="M1672.5 2614.1L1676.5 2608.5L1683 2603.6L1693.5 2602.4L1697.4 2605.7L1693 2613.5L1686.8 2618.5L1676.5 2619.2Z"/>
<path fill="none" stroke="#000" stroke-width="2.6" stroke-linejoin="round" stroke-linecap="round" d="M1151.3 2559.9L1181 2568L1189.1 2568L1202.6 2562.6"/>
<path fill="#000" d="M968.7 2565.3L975.4 2555.9L983.5 2552.6L991.6 2554.5L999.7 2561.3L998.4 2568L988.9 2573.4L978.1 2572.1L970 2569.4Z"/>
<path fill="#000" d="M1029.4 2555.9L1032.1 2551L1053.7 2553.2L1059.1 2549.9L1096.9 2547.8L1110.4 2547.8L1110.4 2555.3L1053.7 2557.2Z"/>
<path fill="#000" d="M1122.5 2558.6L1127.9 2547.2L1137.4 2547.2L1140.6 2553.2L1150.9 2553.2L1150.9 2560.7Z"/>
<path fill="#000" d="M1124.3 2554.5L1127 2547.2L1136.4 2547.2L1140.5 2553.2L1149.9 2554.5L1151.3 2560.5L1127 2559.1Z"/>
<path fill="#000" d="M1202.6 2562.6L1205.3 2553.2L1216.1 2545.1L1245.7 2538.3L1278.1 2532.9L1283.5 2528.9L1392.8 2528.9L1390.1 2535.6L1380.7 2541L1353.7 2543.7L1342.9 2550.5L1321.3 2551.8L1313.2 2558.6L1286.2 2559.9L1278.1 2566.7L1216.1 2566.7L1208 2564Z"/>
<path fill="#8db0fe" d="M1287.6 2542.9L1310.5 2542.9L1310.5 2546.2L1287.6 2546.2Z"/>
<path fill="#777" d="M1252.5 2550.5L1278.1 2550.5L1278.1 2553.7L1252.5 2553.7Z"/>
<path fill="#fff" d="M1333.5 2530.5L1351 2530.5L1351 2536.5L1333.5 2536.5Z"/>
</g>
<line x1="817.6" y1="2528.6" x2="1749.8" y2="2528.6" stroke="#262626" stroke-width="3.3"/>
<line x1="817.6" y1="2659.2" x2="1749.8" y2="2659.2" stroke="#262626" stroke-width="3.3"/>
<line x1="819.9" y1="2528.6" x2="819.9" y2="2659.2" stroke="#262626" stroke-width="4.6"/>
<line x1="1747.5" y1="2528.6" x2="1747.5" y2="2659.2" stroke="#262626" stroke-width="4.6"/>
<line x1="804.4" y1="2528.6" x2="819.9" y2="2528.6" stroke="#262626" stroke-width="3.4"/>
<line x1="804.4" y1="2595" x2="819.9" y2="2595" stroke="#262626" stroke-width="3.4"/>
<line x1="804.4" y1="2659.2" x2="819.9" y2="2659.2" stroke="#262626" stroke-width="3.4"/>
<line x1="819.9" y1="2659.2" x2="819.9" y2="2672.7" stroke="#262626" stroke-width="4.2"/>
<line x1="1052.6" y1="2659.2" x2="1052.6" y2="2672.7" stroke="#262626" stroke-width="4.2"/>
<line x1="1281.6" y1="2659.2" x2="1281.6" y2="2672.7" stroke="#262626" stroke-width="4.2"/>
<line x1="1514" y1="2659.2" x2="1514" y2="2672.7" stroke="#262626" stroke-width="4.2"/>
<line x1="1747.5" y1="2659.2" x2="1747.5" y2="2672.7" stroke="#262626" stroke-width="4.2"/>
<text transform="translate(786.5 2543.8) scale(1.4000 1)" font-size="38.5" text-anchor="end" fill="#1c1c1c">6°N</text>
<text transform="translate(786.5 2610.2) scale(1.4000 1)" font-size="38.5" text-anchor="end" fill="#1c1c1c">4°N</text>
<text transform="translate(786.5 2674.4) scale(1.4000 1)" font-size="38.5" text-anchor="end" fill="#1c1c1c">2°N</text>
<text transform="translate(818.9 2712.8) scale(1.4000 1)" font-size="38.5" text-anchor="middle" fill="#1c1c1c">10°W</text>
<text transform="translate(1051.6 2712.8) scale(1.4000 1)" font-size="38.5" text-anchor="middle" fill="#1c1c1c">5°W</text>
<text transform="translate(1283.6 2712.8) scale(1.4000 1)" font-size="38.5" text-anchor="middle" fill="#1c1c1c">0°E</text>
<text transform="translate(1518.5 2712.8) scale(1.4000 1)" font-size="38.5" text-anchor="middle" fill="#1c1c1c">5°E</text>
<text transform="translate(1743.5 2712.8) scale(1.4000 1)" font-size="38.5" text-anchor="middle" fill="#1c1c1c">10°E</text>
<text transform="translate(1280.6 2508.3) scale(1.4000 1)" font-size="39" text-anchor="middle" fill="#1c1c1c" xml:space="preserve">2010-08-02</text>
</g>
<g id="panel-c5">
<defs><clipPath id="oc5"><path d="M819.9 2918.4L819.9 2797.4L843.2 2810.6L867.5 2823.8L894.5 2834.3L921.5 2842.2L937.7 2842.2L961.9 2831.7L972.7 2826.4L979.4 2824.6L1019.8 2819.7L1044.1 2816.5L1084.6 2814.8L1104.9 2814.8L1145.3 2821.7L1185.8 2831.1L1202 2823.8L1226.3 2809.6L1246.6 2800.3L1283 2794.2L1315.4 2791.2L1338.5 2790.2L1504.9 2790.2L1511.9 2791.4L1520.1 2797.3L1529.2 2801L1534.6 2805.5L1532.8 2816.5L1536.5 2825.6L1542.8 2832.9L1551.9 2838.7L1562.9 2842.2L1573.8 2841L1584.7 2837.9L1592 2834.7L1608.4 2835.6L1635.7 2835.6L1659.4 2834.7L1665.8 2830.1L1672.2 2828.3L1683.1 2830.1L1695.9 2834.7L1697.7 2842L1699.5 2849.2L1708.6 2852.5L1719.6 2851.1L1732.3 2850.2L1735 2856.5L1735.9 2865.6L1740 2872L1742.3 2882L1741 2892.8L1737.5 2901.7L1733.5 2917.8L1733.5 2918.4Z"/></clipPath><clipPath id="ax5"><rect x="819.9" y="2790.2" width="927.6" height="128.2"/></clipPath></defs>
<g fill-rule="evenodd" clip-path="url(#oc5)">
<path fill="#4961d2" stroke="#4961d2" stroke-width="0.6" d="M1456 2782L1474 2782L1476 2806L1472 2808L1464 2808L1456 2805L1453 2798L1452 2790L1453 2782Z"/>
<path fill="#6a8bef" stroke="#6a8bef" stroke-width="0.6" d="M1400 2782L1453 2782L1452 2794L1455 2802L1457 2806L1468 2809L1476 2806L1474 2782L1504 2782L1496 2806L1491 2814L1488 2818L1480 2821L1464 2822L1440 2819L1412 2807L1403 2798L1399 2786L1398 2782Z"/>
<path fill="#8db0fe" stroke="#8db0fe" stroke-width="0.6" d="M1352 2782L1398 2782L1403 2798L1412 2807L1440 2819L1464 2822L1480 2821L1488 2818L1492 2814L1496 2806L1504 2782L1516 2782L1508 2802L1496 2826L1484 2833L1472 2835L1440 2830L1412 2823L1388 2808L1358 2802L1354 2798L1351 2782ZM1748 2782L1756 2782L1756 2926L1678 2926L1679 2914L1684 2901L1699 2882L1712 2860L1745 2782Z"/>
<path fill="#afcafc" stroke="#afcafc" stroke-width="0.6" d="M1344 2782L1351 2782L1354 2798L1358 2802L1388 2808L1412 2823L1440 2830L1472 2835L1484 2833L1496 2826L1508 2802L1516 2782L1528 2782L1522 2794L1522 2798L1524 2806L1516 2811L1512 2815L1504 2836L1500 2839L1480 2847L1468 2849L1436 2841L1420 2835L1403 2830L1384 2822L1356 2817L1328 2810L1323 2806L1324 2802L1332 2794L1341 2790L1342 2782ZM1644 2782L1745 2782L1713 2858L1699 2882L1685 2898L1680 2909L1678 2926L1654 2926L1650 2906L1651 2898L1656 2892L1673 2882L1676 2878L1677 2870L1670 2854L1657 2838L1644 2790L1642 2782ZM1004 2893L1012 2892L1020 2893L1056 2900L1076 2906L1084 2911L1086 2914L1086 2926L982 2926L981 2918L976 2913L960 2911L952 2911L948 2914L946 2918L946 2926L898 2926L896 2910L902 2906L916 2904L960 2905L980 2901ZM816 2900L836 2902L849 2906L852 2910L851 2918L852 2926L812 2926L812 2900ZM1604 2905L1616 2904L1622 2906L1628 2910L1629 2926L1590 2926L1591 2918L1594 2914L1600 2907Z"/>
<path fill="#cfdaea" stroke="#cfdaea" stroke-width="0.6" d="M912 2785L913 2782L1019 2782L1020 2794L1017 2798L1012 2799L916 2798L912 2797L910 2794ZM1260 2782L1287 2782L1293 2794L1296 2796L1304 2797L1312 2796L1317 2794L1320 2790L1322 2782L1342 2782L1341 2790L1332 2794L1324 2802L1323 2806L1328 2810L1356 2817L1384 2822L1403 2830L1420 2835L1436 2841L1468 2849L1480 2847L1500 2839L1504 2836L1512 2815L1516 2811L1524 2806L1522 2798L1522 2794L1528 2782L1573 2782L1562 2806L1562 2810L1564 2814L1576 2821L1608 2828L1620 2827L1640 2831L1643 2830L1645 2826L1644 2822L1634 2782L1642 2782L1657 2838L1670 2854L1676 2866L1677 2874L1673 2882L1656 2892L1651 2898L1650 2906L1654 2926L1629 2926L1628 2910L1622 2906L1612 2904L1604 2905L1596 2911L1591 2918L1590 2926L1581 2926L1579 2906L1584 2898L1588 2895L1616 2880L1632 2879L1652 2873L1657 2870L1659 2866L1656 2858L1652 2853L1644 2849L1588 2833L1560 2827L1528 2822L1524 2823L1520 2826L1514 2846L1508 2853L1492 2855L1468 2862L1456 2862L1444 2859L1436 2856L1420 2843L1392 2838L1380 2837L1360 2845L1348 2845L1336 2840L1324 2826L1320 2824L1264 2811L1256 2807L1255 2806L1259 2794ZM948 2830L970 2830L972 2834L952 2849L940 2860L936 2862L924 2860L920 2861L908 2867L899 2866L888 2862L890 2858L910 2842L930 2834ZM1292 2840L1296 2840L1299 2842L1299 2846L1296 2850L1292 2849L1289 2846L1289 2842ZM816 2864L824 2866L828 2869L836 2882L840 2885L860 2888L876 2894L884 2895L908 2892L928 2894L960 2891L976 2886L996 2874L1008 2871L1016 2871L1076 2891L1088 2894L1108 2896L1136 2908L1139 2910L1141 2914L1142 2926L1086 2926L1086 2914L1084 2910L1080 2908L1056 2900L1012 2892L964 2905L952 2906L916 2904L902 2906L896 2910L898 2926L852 2926L851 2918L852 2910L849 2906L832 2901L812 2900L812 2864ZM1328 2872L1360 2874L1368 2876L1385 2886L1388 2890L1387 2894L1377 2898L1364 2898L1348 2896L1332 2891L1325 2886L1323 2882L1324 2876ZM952 2911L968 2911L976 2913L981 2918L982 2926L946 2926L946 2918L948 2914ZM1336 2916L1376 2915L1382 2918L1383 2926L1333 2926L1332 2918Z"/>
<path fill="#e9d5cb" stroke="#e9d5cb" stroke-width="0.6" d="M904 2783L904 2782L913 2782L910 2794L912 2797L916 2798L1008 2799L1017 2798L1020 2794L1019 2782L1024 2782L1026 2798L1024 2803L1016 2805L912 2805L905 2802L901 2798L901 2794ZM1256 2782L1260 2782L1259 2794L1255 2806L1256 2807L1264 2811L1320 2824L1324 2826L1336 2840L1348 2845L1360 2845L1380 2837L1392 2838L1420 2843L1436 2856L1444 2859L1456 2862L1468 2862L1492 2855L1508 2853L1514 2846L1520 2826L1524 2823L1532 2822L1588 2833L1644 2849L1652 2853L1656 2858L1659 2866L1656 2871L1649 2874L1632 2879L1616 2880L1584 2898L1579 2906L1581 2926L1554 2926L1553 2906L1560 2898L1590 2874L1601 2858L1602 2854L1599 2850L1590 2846L1572 2843L1560 2843L1548 2846L1544 2850L1544 2870L1541 2882L1536 2888L1528 2891L1516 2887L1500 2873L1492 2870L1473 2874L1452 2881L1444 2880L1424 2869L1417 2854L1412 2851L1396 2850L1392 2851L1390 2854L1392 2858L1418 2878L1422 2886L1426 2898L1429 2902L1448 2907L1452 2910L1456 2915L1458 2926L1383 2926L1384 2922L1382 2918L1380 2916L1368 2914L1336 2916L1332 2918L1333 2926L1324 2926L1319 2910L1316 2908L1304 2903L1298 2898L1276 2866L1264 2842L1269 2830L1268 2829L1263 2826L1212 2814L1159 2806L1186 2802L1244 2800L1248 2799L1252 2795L1254 2790L1254 2782ZM1289 2842L1289 2846L1292 2849L1296 2850L1299 2846L1299 2842L1296 2840L1292 2840ZM1325 2874L1323 2878L1323 2882L1325 2886L1336 2892L1352 2896L1368 2898L1380 2898L1387 2894L1388 2890L1385 2886L1372 2878L1364 2875L1344 2874L1332 2872ZM1288 2782L1322 2782L1320 2790L1317 2794L1312 2796L1304 2797L1296 2796L1293 2794L1290 2790ZM1576 2782L1582 2782L1572 2806L1573 2810L1581 2814L1604 2819L1611 2818L1614 2814L1617 2802L1618 2782L1634 2782L1644 2822L1644 2829L1640 2831L1620 2827L1608 2828L1576 2821L1568 2817L1564 2814L1562 2810L1562 2806L1573 2782ZM896 2822L924 2820L964 2821L1004 2825L1016 2827L1023 2830L1025 2834L1022 2838L1008 2844L990 2846L985 2850L988 2853L996 2855L1020 2853L1040 2864L1072 2876L1088 2880L1108 2882L1148 2892L1168 2905L1176 2906L1188 2904L1202 2906L1207 2910L1205 2918L1205 2926L1142 2926L1141 2914L1139 2910L1136 2908L1108 2896L1088 2894L1076 2891L1016 2871L1000 2873L992 2876L976 2886L964 2890L952 2893L924 2894L908 2892L884 2895L876 2894L860 2888L840 2885L836 2882L829 2870L824 2866L812 2864L812 2849L836 2850L864 2849L869 2846L872 2834L875 2830L882 2826ZM948 2830L930 2834L910 2842L890 2858L888 2862L899 2866L908 2867L920 2861L924 2860L936 2862L940 2860L952 2849L972 2834L970 2830ZM958 2870L958 2874L960 2875L964 2874L968 2870L964 2867ZM1256 2898L1264 2897L1269 2902L1273 2914L1271 2926L1238 2926L1238 2914L1235 2906Z"/>
<path fill="#f6bda2" stroke="#f6bda2" stroke-width="0.6" d="M864 2782L904 2782L902 2790L901 2798L905 2802L912 2805L1008 2805L1020 2805L1025 2802L1026 2798L1024 2782L1028 2782L1032 2797L1036 2805L1040 2805L1047 2802L1068 2801L1084 2796L1104 2800L1116 2800L1132 2800L1156 2795L1240 2794L1244 2793L1247 2790L1248 2782L1254 2782L1253 2794L1248 2799L1244 2800L1186 2802L1159 2806L1212 2814L1263 2826L1268 2829L1269 2830L1264 2842L1276 2866L1298 2898L1304 2903L1316 2908L1319 2910L1324 2926L1271 2926L1273 2914L1269 2902L1264 2897L1260 2897L1235 2906L1238 2914L1238 2926L1205 2926L1205 2918L1207 2910L1202 2906L1188 2904L1176 2906L1168 2905L1148 2892L1108 2882L1088 2880L1072 2876L1040 2864L1020 2853L990 2854L985 2850L988 2847L1012 2843L1020 2840L1024 2836L1025 2834L1023 2830L1008 2826L960 2821L928 2820L900 2822L884 2826L875 2830L872 2834L869 2846L864 2849L836 2850L812 2849L812 2838L832 2837L839 2834L844 2830L844 2818L856 2806L855 2798L856 2794L861 2782ZM1023 2810L984 2811L968 2814L1016 2821L1028 2824L1037 2830L1044 2842L1048 2846L1060 2854L1072 2860L1092 2865L1112 2867L1132 2872L1140 2871L1147 2866L1148 2862L1148 2857L1144 2853L1127 2850L1120 2847L1116 2842L1116 2837L1119 2834L1124 2833L1164 2835L1172 2837L1176 2842L1177 2850L1168 2870L1167 2878L1170 2886L1176 2892L1200 2892L1216 2886L1236 2886L1248 2879L1255 2870L1255 2862L1252 2854L1236 2838L1224 2833L1192 2826L1168 2818L1144 2815L1064 2810L1040 2807L1036 2807ZM1584 2782L1618 2782L1617 2802L1614 2814L1611 2818L1604 2819L1597 2818L1580 2814L1573 2810L1572 2806L1574 2802L1582 2782ZM1548 2846L1560 2843L1580 2844L1596 2849L1599 2850L1602 2854L1598 2862L1590 2874L1556 2902L1553 2910L1554 2926L1458 2926L1456 2915L1452 2910L1448 2907L1432 2904L1428 2901L1422 2886L1418 2878L1392 2858L1390 2854L1392 2851L1396 2850L1412 2851L1417 2854L1424 2869L1448 2881L1456 2880L1473 2874L1492 2870L1500 2873L1516 2887L1528 2891L1536 2888L1541 2882L1544 2870L1544 2850ZM960 2868L964 2867L968 2870L964 2874L960 2875L958 2874L958 2870Z"/>
<path fill="#f4987a" stroke="#f4987a" stroke-width="0.6" d="M816 2782L861 2782L855 2798L856 2806L844 2818L844 2830L839 2834L828 2837L812 2838L812 2829L822 2826L822 2822L816 2818L812 2817L812 2782ZM1032 2782L1034 2782L1036 2791L1040 2794L1044 2795L1064 2794L1068 2793L1072 2790L1074 2782L1098 2782L1100 2790L1108 2794L1116 2794L1128 2794L1136 2792L1140 2789L1142 2782L1248 2782L1247 2790L1244 2793L1240 2794L1156 2795L1132 2800L1116 2800L1104 2800L1084 2796L1068 2801L1047 2802L1040 2805L1036 2805L1032 2797L1028 2782ZM1024 2810L1036 2807L1040 2807L1064 2810L1144 2815L1168 2818L1192 2826L1224 2833L1236 2838L1252 2854L1255 2862L1255 2870L1248 2879L1236 2886L1216 2886L1200 2892L1176 2892L1170 2886L1167 2878L1168 2870L1177 2850L1176 2842L1172 2837L1164 2835L1124 2833L1119 2834L1116 2837L1116 2842L1120 2847L1127 2850L1144 2853L1148 2857L1148 2862L1147 2866L1140 2871L1132 2872L1112 2867L1092 2865L1072 2860L1060 2854L1048 2846L1044 2842L1037 2830L1028 2824L1016 2821L968 2814L984 2811ZM1048 2822L1056 2828L1068 2832L1072 2832L1076 2829L1078 2826L1079 2822L1072 2820L1060 2819L1052 2820Z"/>
<path fill="#e36c55" stroke="#e36c55" stroke-width="0.6" d="M1036 2782L1074 2782L1072 2790L1068 2793L1064 2794L1044 2795L1040 2794L1036 2791L1034 2782ZM1100 2782L1142 2782L1140 2789L1136 2792L1128 2794L1116 2794L1108 2794L1100 2790L1098 2782ZM816 2818L822 2822L822 2826L812 2829L812 2817ZM1052 2820L1068 2819L1079 2822L1078 2826L1076 2829L1072 2832L1068 2832L1052 2826L1048 2822Z"/>
</g>
<g clip-path="url(#ax5)">
<path fill="none" stroke="#1a1a1a" stroke-width="2.6" stroke-linejoin="round" d="M819.9 2797.4L843.2 2810.6L867.5 2823.8L894.5 2834.3L921.5 2842.2L937.7 2842.2L961.9 2831.7L972.7 2826.4L979.4 2824.6L1019.8 2819.7L1044.1 2816.5L1084.6 2814.8L1104.9 2814.8L1145.3 2821.7L1185.8 2831.1L1202 2823.8L1226.3 2809.6L1246.6 2800.3L1283 2794.2L1315.4 2791.2L1338.5 2790.2"/>
<path fill="none" stroke="#000" stroke-width="4.2" stroke-linejoin="round" d="M1504.9 2790.2L1511.9 2791.4L1520.1 2797.3L1529.2 2801L1534.6 2805.5L1532.8 2816.5L1536.5 2825.6L1542.8 2832.9L1551.9 2838.7L1562.9 2842.2L1573.8 2841L1584.7 2837.9L1592 2834.7L1608.4 2835.6L1635.7 2835.6L1659.4 2834.7L1665.8 2830.1L1672.2 2828.3L1683.1 2830.1L1695.9 2834.7L1697.7 2842L1699.5 2849.2L1708.6 2852.5L1719.6 2851.1L1732.3 2850.2L1735 2856.5L1735.9 2865.6L1740 2872"/>
<path fill="none" stroke="#222" stroke-width="2.4" stroke-linejoin="round" d="M1740 2872L1742.3 2882L1741 2892.8L1737.5 2901.7L1733.5 2917.8"/>
<path fill="#000" d="M1584.7 2838.7L1588.4 2834.7L1590.2 2825.6L1599.3 2824.7L1601.1 2829.2L1606.6 2827.8L1613.9 2828.3L1617.5 2831.9L1626.6 2829.2L1633.9 2828.8L1635.7 2833.8L1635.7 2838.3L1608.4 2842L1592 2841ZM1658.5 2819.2L1664.9 2821L1672.2 2825.6L1683.1 2827.8L1697.7 2832.9L1698.6 2840.1L1690.4 2838.3L1679.5 2836.5L1668.5 2833.8L1664.9 2827.4ZM1699.5 2848.9L1708.6 2851.4L1719.6 2848.3L1734.1 2847L1735.9 2856.5L1735 2867.5L1726.8 2862L1723.2 2856.5L1708.6 2855.1ZM1510 2791L1526.4 2791.4L1527.3 2795.5L1535.5 2797.3L1542.8 2802.8L1541.9 2807.4L1536.5 2809.2L1537.7 2816.5L1533.7 2819.2L1529.2 2814.6L1527.3 2807.4L1521 2804.6L1517.3 2798.3Z"/>
<path fill="none" stroke="#111" stroke-width="3.2" stroke-linejoin="round" d="M1672.5 2874.2L1676.5 2868.7L1683 2863.8L1693.5 2862.6L1697.4 2865.8L1693 2873.5L1686.8 2878.4L1676.5 2879.2Z"/>
<path fill="none" stroke="#000" stroke-width="2.6" stroke-linejoin="round" stroke-linecap="round" d="M1151.3 2819.9L1181 2828L1189.1 2828L1202.6 2822.6"/>
<path fill="#000" d="M968.7 2825.3L974.1 2815.9L983.5 2811.8L997 2811.8L1007.8 2819.9L1009.2 2828L999.7 2834.8L986.2 2834.8L972.7 2829.4Z"/>
<path fill="#000" d="M1029.4 2816.4L1032.1 2811.8L1051 2811.8L1053.7 2814.5L1059.1 2809.1L1110.4 2807.8L1110.4 2814.8L1069.9 2817L1029.4 2819.1Z"/>
<path fill="#000" d="M1122.5 2818L1127.9 2806.4L1137.4 2806.4L1140.6 2813.2L1150.9 2813.2L1150.9 2821.3Z"/>
<path fill="#000" d="M1124.3 2813.7L1127 2806.4L1136.4 2806.4L1140.5 2812.6L1149.9 2813.2L1151.3 2820.5L1127 2819.1Z"/>
<path fill="#000" d="M1202.6 2822.6L1205.3 2813.2L1216.1 2805.1L1245.7 2797L1278.1 2792.9L1283.5 2790.2L1380.7 2790.2L1378 2797L1353.7 2805.1L1342.9 2810.5L1321.3 2811.8L1313.2 2818.6L1286.2 2819.9L1278.1 2826.7L1216.1 2826.7L1208 2824Z"/>
<path fill="#8db0fe" d="M1287.6 2801.8L1310.5 2801.8L1310.5 2805.1L1287.6 2805.1Z"/>
<path fill="#d9c2b8" d="M1252.5 2811L1274.1 2811L1274.1 2814.3L1252.5 2814.3Z"/>
<path fill="#9db4ee" d="M1333.5 2792.1L1347 2792.1L1347 2797L1333.5 2797Z"/>
</g>
<line x1="817.6" y1="2790.2" x2="1749.8" y2="2790.2" stroke="#262626" stroke-width="3.3"/>
<line x1="817.6" y1="2918.4" x2="1749.8" y2="2918.4" stroke="#262626" stroke-width="3.3"/>
<line x1="819.9" y1="2790.2" x2="819.9" y2="2918.4" stroke="#262626" stroke-width="4.6"/>
<line x1="1747.5" y1="2790.2" x2="1747.5" y2="2918.4" stroke="#262626" stroke-width="4.6"/>
<line x1="804.4" y1="2790.2" x2="819.9" y2="2790.2" stroke="#262626" stroke-width="3.4"/>
<line x1="804.4" y1="2854.5" x2="819.9" y2="2854.5" stroke="#262626" stroke-width="3.4"/>
<line x1="804.4" y1="2918.4" x2="819.9" y2="2918.4" stroke="#262626" stroke-width="3.4"/>
<line x1="819.9" y1="2918.4" x2="819.9" y2="2931.9" stroke="#262626" stroke-width="4.2"/>
<line x1="1052.6" y1="2918.4" x2="1052.6" y2="2931.9" stroke="#262626" stroke-width="4.2"/>
<line x1="1281.6" y1="2918.4" x2="1281.6" y2="2931.9" stroke="#262626" stroke-width="4.2"/>
<line x1="1514" y1="2918.4" x2="1514" y2="2931.9" stroke="#262626" stroke-width="4.2"/>
<line x1="1747.5" y1="2918.4" x2="1747.5" y2="2931.9" stroke="#262626" stroke-width="4.2"/>
<text transform="translate(786.5 2805.4) scale(1.4000 1)" font-size="38.5" text-anchor="end" fill="#1c1c1c">6°N</text>
<text transform="translate(786.5 2869.7) scale(1.4000 1)" font-size="38.5" text-anchor="end" fill="#1c1c1c">4°N</text>
<text transform="translate(786.5 2933.6) scale(1.4000 1)" font-size="38.5" text-anchor="end" fill="#1c1c1c">2°N</text>
<text transform="translate(818.9 2972) scale(1.4000 1)" font-size="38.5" text-anchor="middle" fill="#1c1c1c">10°W</text>
<text transform="translate(1051.6 2972) scale(1.4000 1)" font-size="38.5" text-anchor="middle" fill="#1c1c1c">5°W</text>
<text transform="translate(1283.6 2972) scale(1.4000 1)" font-size="38.5" text-anchor="middle" fill="#1c1c1c">0°E</text>
<text transform="translate(1518.5 2972) scale(1.4000 1)" font-size="38.5" text-anchor="middle" fill="#1c1c1c">5°E</text>
<text transform="translate(1743.5 2972) scale(1.4000 1)" font-size="38.5" text-anchor="middle" fill="#1c1c1c">10°E</text>
<text transform="translate(1280.6 2769.9) scale(1.4000 1)" font-size="39" text-anchor="middle" fill="#1c1c1c" xml:space="preserve">2010-08-03</text>
</g>
<g id="panel-c6">
<defs><clipPath id="oc6"><path d="M819.9 3179.8L819.9 3056.2L843.2 3069.7L867.5 3083.2L894.5 3093.9L921.5 3102L937.7 3102L961.9 3091.3L972.7 3085.8L979.4 3084L1019.8 3079L1044.1 3075.7L1084.6 3074L1104.9 3074L1145.3 3081.1L1185.8 3090.7L1202 3083.2L1226.3 3068.7L1246.6 3059.2L1283 3053L1315.4 3049.9L1338.5 3048.9L1504.9 3048.9L1511.9 3050.1L1520.1 3056.1L1529.2 3059.9L1534.6 3064.5L1532.8 3075.7L1536.5 3085L1542.8 3092.5L1551.9 3098.4L1562.9 3102L1573.8 3100.7L1584.7 3097.6L1592 3094.3L1608.4 3095.2L1635.7 3095.2L1659.4 3094.3L1665.8 3089.6L1672.2 3087.8L1683.1 3089.6L1695.9 3094.3L1697.7 3101.8L1699.5 3109.1L1708.6 3112.5L1719.6 3111.1L1732.3 3110.2L1735 3116.6L1735.9 3125.9L1740 3132.4L1742.3 3142.6L1741 3153.6L1737.5 3162.8L1733.5 3179.1L1733.5 3179.8Z"/></clipPath><clipPath id="ax6"><rect x="819.9" y="3048.9" width="927.6" height="130.9"/></clipPath></defs>
<g fill-rule="evenodd" clip-path="url(#oc6)">
<path fill="#4961d2" stroke="#4961d2" stroke-width="0.6" d="M844 3167L852 3166L876 3170L881 3173L889 3189L838 3189L839 3173ZM1608 3176L1612 3178L1613 3189L1602 3189L1603 3181Z"/>
<path fill="#6a8bef" stroke="#6a8bef" stroke-width="0.6" d="M1452 3041L1505 3041L1492 3077L1488 3082L1484 3083L1480 3080L1462 3069L1453 3061L1450 3053L1450 3041ZM1604 3148L1616 3148L1620 3151L1624 3157L1628 3169L1624 3189L1613 3189L1612 3178L1608 3176L1603 3181L1602 3189L1588 3189L1586 3181L1590 3169L1589 3161L1589 3157L1593 3153ZM813 3153L828 3155L848 3155L868 3158L884 3159L904 3163L926 3165L933 3169L936 3173L937 3181L935 3189L889 3189L884 3177L880 3172L874 3169L852 3166L844 3167L840 3171L838 3177L838 3189L812 3189L812 3153ZM984 3164L1000 3162L1020 3167L1025 3173L1028 3189L976 3189L975 3181L975 3173L977 3169ZM1700 3168L1704 3168L1708 3170L1720 3189L1683 3189L1688 3176L1692 3171Z"/>
<path fill="#8db0fe" stroke="#8db0fe" stroke-width="0.6" d="M1412 3041L1450 3041L1450 3053L1453 3061L1462 3069L1484 3083L1488 3082L1492 3077L1505 3041L1537 3041L1523 3053L1516 3065L1508 3070L1505 3073L1499 3085L1492 3095L1484 3102L1476 3104L1468 3103L1460 3099L1448 3082L1434 3069L1428 3064L1414 3057L1410 3049L1410 3041ZM1736 3042L1736 3041L1756 3041L1756 3189L1720 3189L1708 3170L1704 3168L1700 3168L1692 3171L1688 3176L1683 3189L1674 3189L1677 3177L1674 3169L1675 3165L1692 3153L1707 3137L1706 3121ZM816 3139L848 3143L864 3148L884 3147L904 3153L928 3154L956 3162L964 3161L976 3154L1004 3150L1068 3167L1116 3169L1124 3171L1128 3173L1137 3189L1028 3189L1025 3173L1022 3169L1012 3165L996 3162L984 3164L977 3169L974 3177L976 3189L935 3189L937 3181L936 3173L933 3169L928 3166L904 3163L884 3159L864 3158L848 3155L828 3155L816 3154L812 3153L812 3139ZM1604 3141L1616 3139L1623 3141L1629 3145L1649 3169L1653 3189L1624 3189L1628 3173L1626 3161L1620 3151L1612 3148L1596 3151L1589 3157L1589 3161L1590 3169L1586 3181L1588 3189L1583 3189L1581 3181L1580 3161L1581 3153L1588 3147Z"/>
<path fill="#afcafc" stroke="#afcafc" stroke-width="0.6" d="M936 3041L990 3041L989 3053L986 3057L980 3058L945 3057L938 3053L936 3049L934 3041ZM1384 3041L1410 3041L1411 3053L1414 3057L1432 3067L1448 3082L1457 3097L1462 3101L1472 3104L1480 3104L1492 3095L1499 3085L1505 3073L1508 3070L1516 3065L1523 3053L1537 3041L1547 3041L1541 3049L1533 3057L1532 3061L1534 3065L1564 3081L1569 3085L1560 3086L1528 3079L1516 3079L1512 3081L1504 3097L1498 3121L1496 3124L1492 3126L1484 3125L1468 3118L1452 3115L1448 3113L1444 3109L1433 3093L1419 3077L1404 3067L1385 3057ZM1640 3041L1736 3041L1706 3121L1707 3137L1692 3153L1675 3165L1674 3169L1677 3177L1674 3189L1653 3189L1649 3169L1629 3145L1624 3141L1620 3140L1612 3139L1592 3145L1584 3150L1580 3157L1580 3177L1583 3189L1578 3189L1572 3157L1576 3146L1584 3140L1616 3130L1632 3133L1652 3144L1664 3147L1672 3147L1676 3145L1679 3141L1680 3129L1678 3117L1672 3111L1654 3105L1651 3101L1651 3089L1639 3057L1638 3041ZM816 3119L844 3122L868 3128L880 3128L888 3131L904 3141L928 3142L956 3151L964 3149L976 3142L988 3141L1000 3137L1004 3138L1020 3146L1076 3158L1136 3161L1144 3158L1156 3153L1164 3152L1198 3161L1215 3169L1218 3173L1221 3189L1137 3189L1128 3173L1124 3171L1116 3169L1068 3167L1004 3150L976 3154L964 3161L956 3162L932 3155L904 3153L884 3147L864 3148L848 3143L812 3139L812 3119Z"/>
<path fill="#cfdaea" stroke="#cfdaea" stroke-width="0.6" d="M868 3043L869 3041L910 3041L904 3053L900 3057L892 3059L872 3059L866 3057L865 3053ZM924 3041L934 3041L936 3049L938 3053L948 3057L976 3058L986 3057L989 3053L990 3041L998 3041L998 3053L995 3061L988 3064L944 3064L932 3061L925 3057L922 3053L921 3045L921 3041ZM1356 3041L1383 3041L1385 3057L1404 3067L1419 3077L1433 3093L1444 3109L1448 3113L1452 3115L1468 3118L1484 3125L1492 3126L1496 3124L1498 3121L1504 3097L1512 3081L1516 3079L1528 3079L1560 3086L1569 3085L1564 3081L1536 3066L1532 3061L1533 3057L1541 3049L1547 3041L1577 3041L1572 3050L1558 3065L1560 3069L1572 3078L1584 3082L1608 3084L1624 3089L1636 3092L1640 3090L1640 3085L1631 3061L1630 3041L1638 3041L1639 3057L1651 3089L1651 3101L1654 3105L1672 3111L1678 3117L1680 3129L1679 3141L1676 3145L1672 3147L1664 3147L1652 3144L1632 3133L1616 3130L1584 3140L1576 3145L1573 3153L1572 3161L1578 3189L1573 3189L1570 3177L1562 3161L1566 3149L1572 3139L1580 3132L1602 3125L1616 3119L1624 3117L1621 3113L1611 3109L1548 3093L1528 3091L1523 3093L1519 3101L1515 3113L1513 3133L1509 3137L1500 3138L1460 3135L1440 3138L1436 3137L1433 3133L1426 3109L1422 3101L1404 3081L1398 3077L1388 3073L1344 3068L1224 3072L1196 3071L1177 3069L1268 3064L1276 3063L1287 3057L1292 3056L1340 3055L1348 3053L1352 3051L1354 3049ZM1638 3117L1640 3117L1642 3121L1652 3125L1660 3127L1665 3125L1664 3121L1660 3119ZM868 3085L884 3083L916 3083L988 3089L1001 3093L1003 3097L995 3109L994 3113L996 3117L1012 3127L1020 3134L1028 3138L1072 3147L1108 3149L1128 3152L1136 3151L1152 3139L1160 3138L1180 3146L1196 3147L1220 3158L1260 3165L1268 3169L1256 3171L1252 3173L1248 3177L1247 3181L1246 3189L1221 3189L1218 3173L1215 3169L1198 3161L1164 3152L1156 3153L1140 3160L1132 3161L1068 3156L1020 3146L1004 3138L1000 3137L988 3141L976 3142L960 3151L952 3150L928 3142L905 3141L884 3129L868 3128L840 3121L812 3119L812 3103L852 3103L896 3111L905 3109L905 3105L896 3101L868 3093L865 3089ZM942 3113L936 3117L934 3121L936 3125L943 3129L956 3135L960 3135L965 3133L968 3129L968 3123L962 3117L952 3112ZM1368 3137L1380 3137L1400 3143L1416 3139L1424 3141L1428 3145L1430 3149L1430 3153L1423 3169L1424 3177L1428 3189L1302 3189L1300 3177L1295 3169L1298 3165L1332 3142L1340 3140Z"/>
<path fill="#e9d5cb" stroke="#e9d5cb" stroke-width="0.6" d="M860 3041L869 3041L865 3053L866 3057L872 3059L896 3059L900 3057L904 3053L910 3041L921 3041L922 3049L924 3056L932 3061L948 3064L980 3065L988 3064L995 3061L998 3053L998 3041L1022 3041L1028 3057L1032 3061L1040 3063L1052 3062L1064 3057L1092 3055L1095 3053L1097 3049L1098 3041L1157 3041L1156 3049L1158 3053L1168 3058L1184 3059L1268 3058L1273 3057L1288 3050L1336 3049L1344 3045L1345 3041L1355 3041L1354 3049L1348 3053L1340 3055L1292 3056L1287 3057L1276 3063L1268 3064L1177 3069L1196 3071L1224 3072L1344 3068L1388 3073L1398 3077L1404 3081L1422 3101L1426 3109L1433 3133L1436 3137L1440 3138L1460 3135L1500 3138L1509 3137L1513 3133L1515 3113L1519 3101L1523 3093L1528 3091L1547 3093L1597 3105L1621 3113L1624 3117L1616 3119L1602 3125L1580 3132L1572 3139L1564 3153L1562 3161L1570 3177L1573 3189L1546 3189L1548 3161L1551 3153L1560 3144L1572 3127L1587 3117L1583 3113L1572 3110L1548 3106L1540 3108L1535 3113L1533 3121L1533 3141L1531 3145L1524 3151L1512 3155L1480 3150L1471 3153L1468 3157L1468 3161L1471 3169L1471 3177L1473 3189L1428 3189L1424 3177L1423 3169L1430 3153L1430 3149L1428 3145L1424 3141L1416 3139L1400 3143L1380 3137L1372 3137L1340 3140L1332 3142L1298 3165L1295 3169L1300 3177L1302 3189L1246 3189L1247 3181L1248 3177L1252 3173L1256 3171L1268 3169L1260 3165L1220 3158L1196 3147L1180 3146L1160 3138L1152 3139L1136 3151L1128 3152L1108 3149L1072 3147L1025 3137L996 3117L994 3113L995 3109L1003 3097L1001 3093L988 3089L916 3083L884 3083L868 3085L865 3089L868 3093L896 3101L905 3105L905 3109L900 3111L852 3103L812 3103L812 3083L836 3085L844 3073L855 3069L856 3065L855 3053ZM1307 3077L1176 3083L1160 3085L1140 3091L1108 3089L1092 3084L1080 3082L1056 3081L1044 3081L1035 3085L1026 3105L1025 3113L1029 3121L1036 3126L1044 3130L1072 3137L1096 3138L1128 3144L1137 3141L1152 3125L1156 3124L1192 3133L1224 3148L1240 3150L1256 3149L1276 3141L1296 3140L1300 3138L1316 3124L1324 3120L1376 3116L1404 3121L1412 3119L1413 3113L1412 3108L1405 3101L1396 3094L1388 3093L1368 3093L1352 3095L1344 3095L1337 3089L1334 3081L1332 3080L1324 3077ZM1576 3044L1577 3041L1587 3041L1586 3045L1575 3061L1574 3069L1580 3074L1592 3076L1597 3073L1598 3069L1593 3041L1630 3041L1630 3057L1640 3085L1640 3090L1636 3092L1632 3091L1608 3084L1584 3082L1572 3078L1565 3073L1560 3069L1558 3065ZM944 3112L952 3112L962 3117L968 3123L968 3129L964 3134L960 3135L956 3135L936 3125L934 3121L936 3117ZM1640 3117L1660 3119L1664 3121L1665 3125L1660 3127L1652 3125L1642 3121L1640 3117L1638 3117Z"/>
<path fill="#f6bda2" stroke="#f6bda2" stroke-width="0.6" d="M816 3041L860 3041L855 3053L856 3067L855 3069L844 3073L836 3085L812 3083L812 3041ZM1024 3041L1098 3041L1097 3049L1095 3053L1092 3055L1064 3057L1052 3062L1040 3063L1032 3061L1028 3057L1023 3045L1022 3041ZM1160 3041L1173 3041L1172 3049L1179 3053L1188 3053L1264 3053L1274 3049L1276 3045L1275 3041L1345 3041L1344 3045L1337 3049L1288 3050L1273 3057L1268 3058L1184 3059L1168 3058L1158 3053L1156 3049L1157 3045L1157 3041ZM1588 3041L1593 3041L1597 3065L1597 3073L1592 3076L1580 3074L1574 3069L1575 3061ZM1308 3077L1324 3077L1332 3080L1334 3081L1337 3089L1344 3095L1352 3095L1368 3093L1388 3093L1396 3094L1405 3101L1412 3108L1413 3113L1412 3119L1404 3121L1376 3116L1324 3120L1316 3124L1300 3138L1296 3140L1276 3141L1256 3149L1240 3150L1224 3148L1192 3133L1156 3124L1152 3125L1137 3141L1128 3144L1096 3138L1072 3137L1044 3130L1036 3126L1029 3121L1025 3113L1026 3105L1035 3085L1044 3081L1056 3081L1080 3082L1092 3084L1108 3089L1140 3091L1160 3085L1176 3083ZM1177 3093L1173 3097L1173 3101L1175 3109L1179 3113L1196 3120L1220 3133L1232 3136L1244 3136L1252 3134L1279 3121L1284 3117L1287 3113L1290 3101L1290 3097L1286 3093L1272 3090L1248 3089L1212 3090L1188 3091ZM1052 3097L1049 3101L1048 3105L1050 3109L1056 3113L1077 3121L1100 3125L1124 3133L1132 3129L1135 3125L1135 3121L1132 3114L1128 3109L1120 3104L1068 3094L1060 3094ZM1540 3108L1548 3106L1568 3109L1583 3113L1587 3117L1572 3127L1560 3144L1551 3153L1548 3161L1546 3189L1473 3189L1471 3177L1471 3169L1468 3161L1468 3157L1471 3153L1480 3150L1512 3155L1520 3153L1528 3149L1533 3141L1534 3117L1536 3112Z"/>
<path fill="#f4987a" stroke="#f4987a" stroke-width="0.6" d="M1172 3044L1173 3041L1275 3041L1276 3045L1274 3049L1272 3051L1264 3053L1188 3053L1176 3052L1172 3049ZM1180 3092L1220 3090L1272 3090L1286 3093L1290 3097L1290 3101L1287 3113L1284 3117L1279 3121L1252 3134L1244 3136L1232 3136L1220 3133L1196 3120L1179 3113L1174 3105L1173 3097L1177 3093ZM1052 3097L1060 3094L1068 3094L1120 3104L1128 3109L1132 3114L1135 3121L1135 3125L1132 3129L1124 3133L1100 3125L1077 3121L1056 3113L1050 3109L1048 3105L1049 3101Z"/>
</g>
<g clip-path="url(#ax6)">
<rect x="819.9" y="3175.2" width="927.6" height="3" fill="#fff"/>
<path fill="none" stroke="#1a1a1a" stroke-width="2.6" stroke-linejoin="round" d="M819.9 3056.2L843.2 3069.7L867.5 3083.2L894.5 3093.9L921.5 3102L937.7 3102L961.9 3091.3L972.7 3085.8L979.4 3084L1019.8 3079L1044.1 3075.7L1084.6 3074L1104.9 3074L1145.3 3081.1L1185.8 3090.7L1202 3083.2L1226.3 3068.7L1246.6 3059.2L1283 3053L1315.4 3049.9L1338.5 3048.9"/>
<path fill="none" stroke="#000" stroke-width="4.2" stroke-linejoin="round" d="M1504.9 3048.9L1511.9 3050.1L1520.1 3056.1L1529.2 3059.9L1534.6 3064.5L1532.8 3075.7L1536.5 3085L1542.8 3092.5L1551.9 3098.4L1562.9 3102L1573.8 3100.7L1584.7 3097.6L1592 3094.3L1608.4 3095.2L1635.7 3095.2L1659.4 3094.3L1665.8 3089.6L1672.2 3087.8L1683.1 3089.6L1695.9 3094.3L1697.7 3101.8L1699.5 3109.1L1708.6 3112.5L1719.6 3111.1L1732.3 3110.2L1735 3116.6L1735.9 3125.9L1740 3132.4"/>
<path fill="none" stroke="#222" stroke-width="2.4" stroke-linejoin="round" d="M1740 3132.4L1742.3 3142.6L1741 3153.6L1737.5 3162.8L1733.5 3179.1"/>
<path fill="#000" d="M1584.7 3098.4L1588.4 3094.3L1590.2 3085L1599.3 3084.1L1601.1 3088.7L1606.6 3087.3L1613.9 3087.8L1617.5 3091.4L1626.6 3088.7L1633.9 3088.3L1635.7 3093.4L1635.7 3098L1608.4 3101.8L1592 3100.7ZM1658.5 3078.5L1664.9 3080.3L1672.2 3085L1683.1 3087.3L1697.7 3092.5L1698.6 3099.8L1690.4 3098L1679.5 3096.2L1668.5 3093.4L1664.9 3086.9ZM1699.5 3108.9L1708.6 3111.3L1719.6 3108.2L1734.1 3106.9L1735.9 3116.6L1735 3127.8L1726.8 3122.2L1723.2 3116.6L1708.6 3115.1ZM1510 3049.7L1526.4 3050.1L1527.3 3054.3L1535.5 3056.1L1542.8 3061.7L1541.9 3066.4L1536.5 3068.3L1537.7 3075.7L1533.7 3078.5L1529.2 3073.8L1527.3 3066.4L1521 3063.6L1517.3 3057.1Z"/>
<path fill="none" stroke="#111" stroke-width="3.2" stroke-linejoin="round" d="M1672.5 3134.6L1676.5 3129L1683 3124L1693.5 3122.9L1697.4 3126.1L1693 3134L1686.8 3139L1676.5 3139.7Z"/>
<path fill="none" stroke="#000" stroke-width="2.6" stroke-linejoin="round" stroke-linecap="round" d="M1151.3 3079.9L1178.3 3086.7L1189.1 3086.7L1193.1 3081.8"/>
<path fill="#000" d="M968.7 3081.3L978.1 3073.2L1018.6 3071.8L1028.1 3064.5L1048.3 3064.5L1056.4 3070.5L1096.9 3067.8L1110.4 3067.8L1110.4 3074.8L1056.4 3076.4L1053.7 3079.9L1042.9 3086.7L1032.1 3088L1024 3094.8L997 3096.1L988.9 3101.5L978.1 3101.5L970 3092.1Z"/>
<path fill="#000" d="M1122.5 3078L1126.6 3067.8L1137.4 3067.8L1140.6 3073.2L1150.9 3073.7L1150.9 3081.3Z"/>
<path fill="#000" d="M1124.3 3073.7L1127 3067.2L1136.4 3067.2L1140.5 3073.2L1149.9 3073.7L1151.3 3080.5L1127 3079.1Z"/>
<path fill="#000" d="M1191.8 3082.6L1202.6 3073.2L1216.1 3065.1L1245.7 3057L1278.1 3052.9L1283.5 3048.9L1369.9 3048.9L1367.2 3057L1359.1 3062.4L1326.7 3062.4L1315.9 3069.1L1297 3073.2L1286.2 3081.3L1261.9 3088L1253.8 3094.8L1205.3 3094.8L1194.5 3088Z"/>
<path fill="#afcafc" d="M1216.1 3079.4L1243 3078.6L1253.8 3070.5L1275.4 3069.9L1272.7 3073.5L1256.5 3074.8L1245.7 3082.1L1216.1 3082.6Z"/>
</g>
<line x1="817.6" y1="3048.9" x2="1749.8" y2="3048.9" stroke="#262626" stroke-width="3.3"/>
<line x1="817.6" y1="3179.8" x2="1749.8" y2="3179.8" stroke="#262626" stroke-width="3.3"/>
<line x1="819.9" y1="3048.9" x2="819.9" y2="3179.8" stroke="#262626" stroke-width="4.6"/>
<line x1="1747.5" y1="3048.9" x2="1747.5" y2="3179.8" stroke="#262626" stroke-width="4.6"/>
<line x1="804.4" y1="3048.9" x2="819.9" y2="3048.9" stroke="#262626" stroke-width="3.4"/>
<line x1="804.4" y1="3113.5" x2="819.9" y2="3113.5" stroke="#262626" stroke-width="3.4"/>
<line x1="804.4" y1="3179.8" x2="819.9" y2="3179.8" stroke="#262626" stroke-width="3.4"/>
<line x1="819.9" y1="3179.8" x2="819.9" y2="3193.3" stroke="#262626" stroke-width="4.2"/>
<line x1="1052.6" y1="3179.8" x2="1052.6" y2="3193.3" stroke="#262626" stroke-width="4.2"/>
<line x1="1281.6" y1="3179.8" x2="1281.6" y2="3193.3" stroke="#262626" stroke-width="4.2"/>
<line x1="1514" y1="3179.8" x2="1514" y2="3193.3" stroke="#262626" stroke-width="4.2"/>
<line x1="1747.5" y1="3179.8" x2="1747.5" y2="3193.3" stroke="#262626" stroke-width="4.2"/>
<text transform="translate(786.5 3064.1) scale(1.4000 1)" font-size="38.5" text-anchor="end" fill="#1c1c1c">6°N</text>
<text transform="translate(786.5 3128.7) scale(1.4000 1)" font-size="38.5" text-anchor="end" fill="#1c1c1c">4°N</text>
<text transform="translate(786.5 3195) scale(1.4000 1)" font-size="38.5" text-anchor="end" fill="#1c1c1c">2°N</text>
<text transform="translate(818.9 3233.4) scale(1.4000 1)" font-size="38.5" text-anchor="middle" fill="#1c1c1c">10°W</text>
<text transform="translate(1051.6 3233.4) scale(1.4000 1)" font-size="38.5" text-anchor="middle" fill="#1c1c1c">5°W</text>
<text transform="translate(1283.6 3233.4) scale(1.4000 1)" font-size="38.5" text-anchor="middle" fill="#1c1c1c">0°E</text>
<text transform="translate(1518.5 3233.4) scale(1.4000 1)" font-size="38.5" text-anchor="middle" fill="#1c1c1c">5°E</text>
<text transform="translate(1743.5 3233.4) scale(1.4000 1)" font-size="38.5" text-anchor="middle" fill="#1c1c1c">10°E</text>
<text transform="translate(1280.6 3028.6) scale(1.4000 1)" font-size="39" text-anchor="middle" fill="#1c1c1c" xml:space="preserve">2010-08-04</text>
</g>
<g id="panel-c7">
<defs><clipPath id="oc7"><path d="M819.9 3439.3L819.9 3315.2L843.2 3328.7L867.5 3342.3L894.5 3353L921.5 3361.2L937.7 3361.2L961.9 3350.4L972.7 3344.9L979.4 3343L1019.8 3338L1044.1 3334.8L1084.6 3333L1104.9 3333L1145.3 3340.1L1185.8 3349.7L1202 3342.3L1226.3 3327.7L1246.6 3318.2L1283 3311.9L1315.4 3308.9L1338.5 3307.8L1504.9 3307.8L1511.9 3309L1520.1 3315L1529.2 3318.8L1534.6 3323.4L1532.8 3334.8L1536.5 3344.1L1542.8 3351.6L1551.9 3357.5L1562.9 3361.2L1573.8 3359.9L1584.7 3356.7L1592 3353.4L1608.4 3354.4L1635.7 3354.4L1659.4 3353.4L1665.8 3348.7L1672.2 3346.9L1683.1 3348.7L1695.9 3353.4L1697.7 3360.9L1699.5 3368.3L1708.6 3371.7L1719.6 3370.3L1732.3 3369.3L1735 3375.8L1735.9 3385.1L1740 3391.7L1742.3 3402L1741 3413L1737.5 3422.2L1733.5 3438.6L1733.5 3439.3Z"/></clipPath><clipPath id="ax7"><rect x="819.9" y="3307.8" width="927.6" height="131.5"/></clipPath></defs>
<g fill-rule="evenodd" clip-path="url(#oc7)">
<path fill="#4961d2" stroke="#4961d2" stroke-width="0.6" d="M1624 3415L1632 3414L1640 3416L1676 3428L1679 3432L1680 3436L1678 3448L1607 3448L1608 3440L1620 3418ZM844 3427L856 3425L872 3428L879 3432L882 3436L888 3448L837 3448L836 3436L840 3429Z"/>
<path fill="#6a8bef" stroke="#6a8bef" stroke-width="0.6" d="M1468 3300L1505 3300L1492 3329L1488 3333L1484 3335L1476 3334L1468 3329L1464 3324L1463 3312L1465 3300ZM1476 3354L1484 3353L1492 3358L1495 3364L1496 3368L1494 3372L1488 3374L1484 3374L1476 3372L1472 3369L1470 3364L1471 3360ZM1608 3387L1632 3389L1640 3395L1652 3407L1659 3412L1664 3413L1680 3414L1693 3420L1700 3424L1704 3430L1708 3440L1710 3448L1678 3448L1680 3436L1679 3432L1676 3428L1640 3416L1628 3414L1624 3415L1620 3418L1608 3440L1607 3448L1595 3448L1586 3436L1583 3428L1568 3416L1568 3408L1572 3400L1577 3396ZM816 3410L860 3415L924 3429L929 3432L932 3435L936 3448L888 3448L882 3436L876 3430L868 3427L856 3425L844 3427L838 3432L836 3440L837 3448L812 3448L812 3410Z"/>
<path fill="#8db0fe" stroke="#8db0fe" stroke-width="0.6" d="M1412 3300L1465 3300L1463 3316L1464 3324L1472 3332L1484 3335L1488 3333L1492 3329L1505 3300L1514 3300L1504 3328L1502 3340L1504 3348L1508 3355L1512 3360L1521 3368L1524 3372L1525 3384L1521 3392L1512 3395L1496 3395L1468 3388L1461 3384L1457 3376L1454 3352L1451 3344L1441 3332L1416 3316L1411 3308L1410 3300ZM1473 3356L1471 3360L1470 3364L1471 3368L1475 3372L1488 3374L1494 3372L1496 3368L1495 3364L1489 3356L1480 3353ZM1620 3375L1632 3375L1640 3376L1652 3384L1664 3395L1668 3396L1688 3392L1700 3394L1732 3390L1756 3390L1756 3448L1710 3448L1708 3440L1705 3432L1700 3424L1696 3421L1680 3414L1664 3413L1659 3412L1652 3407L1640 3395L1632 3389L1612 3387L1600 3389L1577 3396L1572 3400L1568 3408L1568 3416L1583 3428L1586 3436L1595 3448L1555 3448L1553 3440L1558 3428L1556 3412L1559 3400L1563 3392L1571 3388L1604 3378ZM816 3398L828 3398L848 3402L876 3409L944 3423L960 3427L968 3428L1000 3422L1052 3426L1060 3428L1065 3432L1069 3440L1070 3448L971 3448L971 3440L968 3436L964 3435L956 3437L952 3440L950 3448L936 3448L932 3436L929 3432L920 3428L860 3415L828 3411L812 3410L812 3398Z"/>
<path fill="#afcafc" stroke="#afcafc" stroke-width="0.6" d="M932 3300L990 3300L989 3312L987 3316L980 3318L940 3317L936 3314L932 3308L930 3300ZM1384 3300L1410 3300L1411 3308L1416 3316L1445 3336L1453 3348L1456 3372L1461 3384L1468 3388L1492 3394L1508 3395L1516 3394L1520 3392L1524 3387L1526 3380L1524 3372L1521 3368L1508 3356L1503 3344L1502 3336L1504 3328L1514 3300L1552 3300L1548 3305L1536 3316L1536 3321L1540 3323L1548 3324L1556 3321L1564 3316L1567 3320L1566 3328L1568 3332L1571 3336L1576 3338L1592 3339L1599 3336L1601 3332L1602 3300L1756 3300L1756 3390L1732 3390L1700 3394L1688 3392L1668 3396L1664 3395L1652 3384L1640 3376L1628 3375L1604 3378L1571 3388L1563 3392L1559 3400L1556 3412L1558 3428L1553 3440L1555 3448L1548 3448L1547 3440L1547 3424L1544 3417L1540 3413L1532 3410L1520 3408L1488 3406L1456 3400L1446 3396L1440 3388L1441 3364L1436 3351L1428 3341L1420 3336L1384 3320L1380 3316L1380 3312L1382 3300ZM1519 3340L1521 3344L1540 3350L1546 3356L1547 3360L1542 3380L1543 3388L1544 3390L1548 3389L1556 3383L1580 3376L1588 3372L1590 3368L1588 3366L1576 3358L1544 3346L1528 3337L1524 3336L1520 3338ZM816 3382L828 3383L840 3386L856 3387L879 3400L900 3403L920 3410L960 3415L992 3411L1024 3412L1048 3410L1076 3418L1124 3428L1129 3432L1128 3440L1129 3448L1070 3448L1069 3440L1065 3432L1060 3428L1052 3426L1000 3422L968 3428L960 3427L944 3423L876 3409L848 3402L828 3398L812 3398L812 3382ZM1364 3403L1372 3402L1376 3403L1378 3408L1373 3412L1364 3413L1361 3412L1359 3408ZM1308 3415L1316 3414L1321 3416L1323 3424L1326 3428L1327 3432L1319 3448L1297 3448L1294 3436L1295 3432L1301 3420ZM1184 3432L1208 3429L1216 3431L1218 3432L1219 3436L1218 3448L1175 3448L1180 3436ZM960 3435L964 3435L968 3436L971 3440L971 3448L950 3448L952 3440Z"/>
<path fill="#cfdaea" stroke="#cfdaea" stroke-width="0.6" d="M872 3300L930 3300L934 3312L940 3317L976 3318L984 3317L987 3316L989 3312L990 3300L998 3300L998 3316L993 3324L984 3327L940 3327L932 3323L924 3313L920 3311L908 3322L872 3323L868 3323L864 3320L863 3316L869 3300ZM1348 3300L1382 3300L1380 3316L1384 3320L1416 3333L1431 3344L1437 3352L1440 3360L1441 3368L1440 3384L1442 3392L1446 3396L1456 3400L1488 3406L1520 3408L1532 3410L1540 3413L1544 3417L1547 3424L1547 3440L1548 3448L1542 3448L1539 3432L1536 3426L1523 3420L1508 3417L1484 3416L1456 3412L1432 3411L1424 3412L1417 3416L1415 3420L1420 3423L1428 3425L1456 3427L1462 3428L1468 3432L1460 3436L1452 3438L1412 3439L1404 3444L1402 3448L1319 3448L1327 3432L1323 3424L1321 3416L1316 3414L1305 3416L1301 3420L1295 3432L1294 3436L1297 3448L1218 3448L1219 3436L1218 3432L1208 3429L1184 3432L1180 3436L1175 3448L1129 3448L1128 3440L1129 3432L1124 3428L1076 3418L1048 3410L1024 3412L992 3411L960 3415L924 3410L900 3403L880 3400L870 3396L856 3387L840 3386L824 3382L812 3382L812 3358L820 3358L828 3359L844 3366L856 3368L868 3372L884 3374L896 3378L924 3398L944 3403L964 3404L1012 3399L1028 3400L1048 3397L1080 3406L1136 3416L1152 3417L1168 3413L1196 3420L1264 3416L1268 3415L1288 3404L1304 3399L1368 3388L1384 3387L1408 3390L1412 3388L1416 3384L1420 3376L1419 3368L1416 3352L1409 3344L1404 3341L1380 3336L1362 3328L1340 3322L1335 3320L1334 3316L1345 3308ZM1362 3404L1359 3408L1361 3412L1364 3413L1373 3412L1378 3408L1377 3404L1372 3402ZM1552 3300L1602 3300L1602 3328L1599 3336L1592 3339L1576 3338L1572 3336L1568 3332L1566 3328L1567 3320L1564 3316L1556 3321L1548 3324L1540 3323L1536 3321L1536 3316L1548 3305ZM856 3335L872 3332L908 3334L1008 3342L1016 3344L1021 3348L1017 3352L984 3368L980 3370L972 3370L936 3367L868 3358L860 3353L853 3344L852 3340ZM1520 3338L1524 3336L1528 3337L1544 3346L1579 3360L1586 3364L1590 3368L1588 3372L1580 3376L1556 3383L1548 3389L1544 3390L1543 3388L1542 3380L1547 3360L1546 3356L1540 3350L1521 3344L1519 3340Z"/>
<path fill="#e9d5cb" stroke="#e9d5cb" stroke-width="0.6" d="M816 3300L869 3300L863 3316L864 3320L868 3323L872 3323L908 3322L920 3311L924 3313L929 3320L936 3326L944 3327L976 3327L988 3326L992 3325L996 3321L998 3316L998 3300L1018 3300L1019 3308L1020 3312L1024 3314L1028 3315L1056 3314L1059 3312L1061 3308L1059 3300L1112 3300L1112 3310L1116 3314L1120 3315L1136 3316L1156 3319L1232 3319L1256 3321L1264 3320L1280 3315L1316 3314L1319 3312L1321 3308L1322 3300L1347 3300L1347 3304L1345 3308L1334 3316L1335 3320L1340 3322L1362 3328L1380 3336L1404 3341L1409 3344L1416 3352L1420 3372L1420 3376L1416 3384L1412 3388L1408 3390L1380 3387L1356 3389L1296 3401L1284 3406L1268 3415L1264 3416L1224 3418L1192 3419L1168 3413L1152 3417L1132 3415L1076 3405L1048 3397L1028 3400L1012 3399L964 3404L944 3403L924 3398L896 3378L884 3374L868 3372L856 3368L844 3366L828 3359L812 3358L812 3300ZM1268 3332L1144 3340L1112 3343L1096 3348L1068 3347L1038 3356L1004 3371L1000 3376L1003 3380L1016 3382L1028 3387L1052 3385L1087 3396L1108 3399L1128 3403L1140 3404L1160 3400L1168 3401L1188 3407L1212 3410L1224 3409L1264 3399L1300 3387L1328 3382L1344 3375L1372 3375L1400 3372L1404 3370L1405 3368L1406 3360L1404 3356L1400 3354L1384 3352L1352 3346L1324 3331L1308 3329ZM855 3336L852 3340L856 3348L860 3353L868 3358L936 3367L972 3370L980 3370L984 3368L1017 3352L1021 3348L1016 3344L1008 3342L904 3333L868 3332ZM951 3384L950 3388L956 3392L960 3392L967 3388L963 3384L960 3383ZM1424 3412L1432 3411L1452 3412L1484 3416L1508 3417L1523 3420L1533 3424L1538 3428L1539 3432L1542 3448L1509 3448L1505 3432L1501 3428L1496 3427L1492 3428L1484 3438L1468 3442L1465 3444L1462 3448L1402 3448L1404 3444L1412 3439L1452 3438L1460 3436L1468 3432L1462 3428L1456 3427L1421 3424L1415 3420L1417 3416Z"/>
<path fill="#f6bda2" stroke="#f6bda2" stroke-width="0.6" d="M1020 3300L1059 3300L1061 3308L1059 3312L1052 3315L1024 3314L1020 3312L1019 3308L1018 3300ZM1112 3302L1112 3300L1146 3300L1147 3308L1152 3311L1156 3312L1232 3312L1256 3316L1260 3315L1266 3312L1267 3308L1264 3300L1322 3300L1321 3308L1319 3312L1316 3314L1280 3315L1264 3320L1256 3321L1232 3319L1156 3319L1136 3316L1120 3315L1113 3312L1111 3308ZM1272 3332L1308 3329L1324 3331L1352 3346L1384 3352L1400 3354L1404 3356L1406 3360L1405 3368L1404 3370L1400 3372L1372 3375L1344 3375L1328 3382L1300 3387L1264 3399L1224 3409L1212 3410L1188 3407L1168 3401L1160 3400L1140 3404L1128 3403L1108 3399L1087 3396L1052 3385L1028 3387L1016 3382L1003 3380L1000 3376L1004 3371L1038 3356L1068 3347L1096 3348L1112 3343L1144 3340ZM1238 3344L1157 3348L1147 3352L1147 3356L1155 3368L1161 3380L1166 3384L1188 3393L1208 3399L1216 3400L1240 3391L1256 3389L1272 3385L1288 3379L1304 3371L1320 3369L1324 3364L1325 3360L1320 3352L1311 3344L1304 3341ZM1060 3360L1052 3364L1051 3368L1059 3372L1072 3374L1092 3380L1112 3382L1124 3386L1132 3386L1136 3381L1136 3376L1134 3372L1128 3366L1120 3362L1116 3361L1100 3364L1072 3359ZM952 3383L956 3383L963 3384L967 3388L960 3392L956 3392L950 3388ZM1496 3427L1501 3428L1505 3432L1509 3448L1462 3448L1465 3444L1468 3442L1484 3438L1492 3428Z"/>
<path fill="#f4987a" stroke="#f4987a" stroke-width="0.6" d="M1148 3300L1247 3300L1248 3306L1252 3309L1256 3308L1254 3300L1264 3300L1267 3308L1266 3312L1264 3314L1256 3316L1232 3312L1156 3312L1152 3311L1147 3308L1146 3300ZM1240 3344L1304 3341L1311 3344L1320 3352L1325 3360L1324 3364L1320 3369L1304 3371L1288 3379L1272 3385L1256 3389L1240 3391L1216 3400L1208 3399L1188 3393L1166 3384L1161 3380L1155 3368L1147 3356L1147 3352L1160 3347ZM1256 3360L1244 3364L1242 3368L1248 3373L1256 3375L1283 3368L1289 3364L1289 3360L1280 3357ZM1064 3359L1072 3359L1100 3364L1116 3361L1120 3362L1128 3366L1134 3372L1136 3376L1136 3381L1132 3386L1124 3386L1112 3382L1092 3380L1072 3374L1059 3372L1051 3368L1052 3364Z"/>
<path fill="#e36c55" stroke="#e36c55" stroke-width="0.6" d="M1248 3300L1254 3300L1256 3308L1252 3309L1249 3308L1247 3304L1247 3300ZM1260 3359L1284 3357L1289 3360L1289 3364L1283 3368L1268 3373L1252 3375L1244 3370L1242 3368L1244 3364Z"/>
</g>
<g clip-path="url(#ax7)">
<path fill="#fff" d="M1580.8 3437.9L1582.2 3416.9L1590.3 3408.8L1605.1 3404.7L1618.6 3407.4L1632.1 3419.6L1642.9 3430.4L1647 3437.9Z"/>
<path fill="#fff" d="M1302.4 3308.9L1321.3 3308.9L1321.3 3313.8L1310.5 3313.8Z"/>
<rect x="819.9" y="3434.7" width="927.6" height="3" fill="#fff"/>
<path fill="none" stroke="#1a1a1a" stroke-width="2.6" stroke-linejoin="round" d="M819.9 3315.2L843.2 3328.7L867.5 3342.3L894.5 3353L921.5 3361.2L937.7 3361.2L961.9 3350.4L972.7 3344.9L979.4 3343L1019.8 3338L1044.1 3334.8L1084.6 3333L1104.9 3333L1145.3 3340.1L1185.8 3349.7L1202 3342.3L1226.3 3327.7L1246.6 3318.2L1283 3311.9L1315.4 3308.9L1338.5 3307.8"/>
<path fill="none" stroke="#000" stroke-width="4.2" stroke-linejoin="round" d="M1504.9 3307.8L1511.9 3309L1520.1 3315L1529.2 3318.8L1534.6 3323.4L1532.8 3334.8L1536.5 3344.1L1542.8 3351.6L1551.9 3357.5L1562.9 3361.2L1573.8 3359.9L1584.7 3356.7L1592 3353.4L1608.4 3354.4L1635.7 3354.4L1659.4 3353.4L1665.8 3348.7L1672.2 3346.9L1683.1 3348.7L1695.9 3353.4L1697.7 3360.9L1699.5 3368.3L1708.6 3371.7L1719.6 3370.3L1732.3 3369.3L1735 3375.8L1735.9 3385.1L1740 3391.7"/>
<path fill="none" stroke="#222" stroke-width="2.4" stroke-linejoin="round" d="M1740 3391.7L1742.3 3402L1741 3413L1737.5 3422.2L1733.5 3438.6"/>
<path fill="#000" d="M1584.7 3357.5L1588.4 3353.4L1590.2 3344.1L1599.3 3343.2L1601.1 3347.8L1606.6 3346.3L1613.9 3346.9L1617.5 3350.5L1626.6 3347.8L1633.9 3347.4L1635.7 3352.5L1635.7 3357.1L1608.4 3360.9L1592 3359.9ZM1658.5 3337.5L1664.9 3339.4L1672.2 3344.1L1683.1 3346.3L1697.7 3351.6L1698.6 3359L1690.4 3357.1L1679.5 3355.3L1668.5 3352.5L1664.9 3345.9ZM1699.5 3368L1708.6 3370.5L1719.6 3367.4L1734.1 3366.1L1735.9 3375.8L1735 3387.1L1726.8 3381.4L1723.2 3375.8L1708.6 3374.3ZM1510 3308.6L1526.4 3309L1527.3 3313.2L1535.5 3315L1542.8 3320.7L1541.9 3325.4L1536.5 3327.3L1537.7 3334.8L1533.7 3337.5L1529.2 3332.8L1527.3 3325.4L1521 3322.5L1517.3 3316.1Z"/>
<path fill="none" stroke="#111" stroke-width="3.2" stroke-linejoin="round" d="M1672.5 3393.9L1676.5 3388.3L1683 3383.3L1693.5 3382.1L1697.4 3385.4L1693 3393.3L1686.8 3398.3L1676.5 3399.1Z"/>
<path fill="none" stroke="#000" stroke-width="2.6" stroke-linejoin="round" stroke-linecap="round" d="M1151.3 3339.9L1178.3 3346.7L1189.1 3346.7L1193.1 3341.8"/>
<path fill="none" stroke="#000" stroke-width="16" stroke-linejoin="round" stroke-linecap="round" d="M1579.5 3437.9L1580.8 3419L1589.7 3408.8L1605.1 3403.4L1619.2 3407.7L1632.7 3419.6L1643.5 3430.4L1648.3 3437.9"/>
<path fill="#000" d="M968.7 3341.3L978.1 3333.2L1018.6 3331.8L1028.1 3324.5L1069.9 3324.5L1072.6 3329.1L1096.9 3326.4L1110.4 3326.4L1110.4 3333.7L1080.7 3336.4L1069.9 3345.3L1042.9 3348L1032.1 3354.8L1010.5 3356.1L999.7 3362.9L983.5 3362.9L972.7 3356.1Z"/>
<path fill="#000" d="M1122.5 3338L1126.6 3327.2L1137.4 3327.2L1140.6 3332.6L1150.9 3333.2L1150.9 3341.3Z"/>
<path fill="#000" d="M1124.3 3333.7L1127 3327.2L1136.4 3327.2L1140.5 3333.2L1149.9 3333.7L1151.3 3340.5L1127 3339.1Z"/>
<path fill="#000" d="M1191.8 3342.6L1202.6 3333.2L1216.1 3325.1L1245.7 3317L1278.1 3312.9L1283.5 3308.4L1302.4 3308.4L1310.5 3312.9L1305.1 3322.4L1297 3330.5L1286.2 3341.3L1272.7 3348L1267.3 3354.2L1205.3 3354.2L1194.5 3348Z"/>
<path fill="#000" d="M1321.3 3308.4L1356.4 3308.4L1355.1 3315.6L1348.3 3321.8L1329.4 3321L1321.3 3315.6Z"/>
<path fill="#afcafc" d="M1216.1 3339.4L1243 3338.6L1251.1 3331.8L1278.1 3329.9L1272.7 3334.5L1261.9 3341.3L1216.1 3342.1Z"/>
<path fill="#1c2f66" d="M988.9 3345.3L997 3345.3L997 3349.9L988.9 3349.9Z"/>
</g>
<line x1="817.6" y1="3307.8" x2="1749.8" y2="3307.8" stroke="#262626" stroke-width="3.3"/>
<line x1="817.6" y1="3439.3" x2="1749.8" y2="3439.3" stroke="#262626" stroke-width="3.3"/>
<line x1="819.9" y1="3307.8" x2="819.9" y2="3439.3" stroke="#262626" stroke-width="4.6"/>
<line x1="1747.5" y1="3307.8" x2="1747.5" y2="3439.3" stroke="#262626" stroke-width="4.6"/>
<line x1="804.4" y1="3307.8" x2="819.9" y2="3307.8" stroke="#262626" stroke-width="3.4"/>
<line x1="804.4" y1="3373" x2="819.9" y2="3373" stroke="#262626" stroke-width="3.4"/>
<line x1="804.4" y1="3439.3" x2="819.9" y2="3439.3" stroke="#262626" stroke-width="3.4"/>
<line x1="819.9" y1="3439.3" x2="819.9" y2="3452.8" stroke="#262626" stroke-width="4.2"/>
<line x1="1052.6" y1="3439.3" x2="1052.6" y2="3452.8" stroke="#262626" stroke-width="4.2"/>
<line x1="1281.6" y1="3439.3" x2="1281.6" y2="3452.8" stroke="#262626" stroke-width="4.2"/>
<line x1="1514" y1="3439.3" x2="1514" y2="3452.8" stroke="#262626" stroke-width="4.2"/>
<line x1="1747.5" y1="3439.3" x2="1747.5" y2="3452.8" stroke="#262626" stroke-width="4.2"/>
<text transform="translate(786.5 3323) scale(1.4000 1)" font-size="38.5" text-anchor="end" fill="#1c1c1c">6°N</text>
<text transform="translate(786.5 3388.2) scale(1.4000 1)" font-size="38.5" text-anchor="end" fill="#1c1c1c">4°N</text>
<text transform="translate(786.5 3454.5) scale(1.4000 1)" font-size="38.5" text-anchor="end" fill="#1c1c1c">2°N</text>
<text transform="translate(818.9 3492.9) scale(1.4000 1)" font-size="38.5" text-anchor="middle" fill="#1c1c1c">10°W</text>
<text transform="translate(1051.6 3492.9) scale(1.4000 1)" font-size="38.5" text-anchor="middle" fill="#1c1c1c">5°W</text>
<text transform="translate(1283.6 3492.9) scale(1.4000 1)" font-size="38.5" text-anchor="middle" fill="#1c1c1c">0°E</text>
<text transform="translate(1518.5 3492.9) scale(1.4000 1)" font-size="38.5" text-anchor="middle" fill="#1c1c1c">5°E</text>
<text transform="translate(1743.5 3492.9) scale(1.4000 1)" font-size="38.5" text-anchor="middle" fill="#1c1c1c">10°E</text>
<text transform="translate(1280.6 3287.5) scale(1.4000 1)" font-size="39" text-anchor="middle" fill="#1c1c1c" xml:space="preserve">2010-08-05</text>
</g>
<g id="panel-c8">
<defs><clipPath id="oc8"><path d="M819.9 3698.4L819.9 3577.9L843.2 3591.1L867.5 3604.2L894.5 3614.7L921.5 3622.6L937.7 3622.6L961.9 3612.1L972.7 3606.8L979.4 3605L1019.8 3600.1L1044.1 3597L1084.6 3595.3L1104.9 3595.3L1145.3 3602.2L1185.8 3611.5L1202 3604.2L1226.3 3590.1L1246.6 3580.9L1283 3574.8L1315.4 3571.8L1338.5 3570.8L1504.9 3570.8L1511.9 3571.9L1520.1 3577.8L1529.2 3581.5L1534.6 3586L1532.8 3597L1536.5 3606L1542.8 3613.3L1551.9 3619L1562.9 3622.6L1573.8 3621.3L1584.7 3618.3L1592 3615.1L1608.4 3616L1635.7 3616L1659.4 3615.1L1665.8 3610.5L1672.2 3608.7L1683.1 3610.5L1695.9 3615.1L1697.7 3622.4L1699.5 3629.5L1708.6 3632.8L1719.6 3631.4L1732.3 3630.5L1735 3636.8L1735.9 3645.8L1740 3652.2L1742.3 3662.2L1741 3672.9L1737.5 3681.8L1733.5 3697.8L1733.5 3698.4Z"/></clipPath><clipPath id="ax8"><rect x="819.9" y="3570.8" width="927.6" height="127.6"/></clipPath></defs>
<g fill-rule="evenodd" clip-path="url(#oc8)">
<path fill="#4961d2" stroke="#4961d2" stroke-width="0.6" d="M1436 3563L1465 3563L1463 3575L1466 3591L1465 3595L1460 3601L1456 3603L1448 3603L1440 3599L1433 3591L1431 3587L1431 3579L1434 3563ZM1476 3615L1488 3613L1500 3616L1504 3620L1508 3627L1508 3631L1506 3635L1500 3639L1496 3640L1480 3639L1472 3638L1468 3635L1467 3627L1471 3619ZM1688 3669L1696 3668L1701 3671L1703 3675L1713 3707L1667 3707L1671 3695L1670 3683L1671 3679ZM856 3693L860 3692L867 3695L870 3699L870 3707L850 3707L851 3699Z"/>
<path fill="#6a8bef" stroke="#6a8bef" stroke-width="0.6" d="M1412 3563L1434 3563L1431 3579L1431 3587L1440 3599L1444 3602L1452 3604L1460 3601L1465 3595L1466 3591L1463 3575L1465 3563L1502 3563L1502 3587L1510 3607L1524 3631L1523 3639L1512 3651L1500 3660L1496 3661L1472 3654L1464 3655L1460 3659L1454 3679L1454 3707L1434 3707L1434 3695L1432 3691L1428 3690L1418 3695L1415 3699L1414 3707L1358 3707L1359 3695L1361 3691L1366 3687L1402 3675L1432 3668L1440 3663L1442 3659L1439 3647L1443 3635L1444 3627L1427 3599L1409 3583L1408 3575L1410 3563ZM1476 3615L1471 3619L1467 3627L1468 3635L1472 3638L1480 3639L1496 3640L1500 3639L1506 3635L1508 3631L1508 3627L1504 3620L1500 3616L1488 3613L1480 3613ZM1596 3650L1616 3649L1660 3654L1692 3648L1704 3652L1724 3664L1756 3665L1756 3699L1728 3681L1720 3679L1716 3683L1716 3687L1722 3707L1713 3707L1703 3675L1700 3670L1692 3668L1685 3671L1671 3679L1670 3683L1671 3695L1667 3707L1546 3707L1548 3691L1559 3671L1572 3665L1588 3654ZM856 3679L868 3680L881 3687L886 3695L886 3707L870 3707L870 3699L868 3695L860 3692L856 3693L852 3697L850 3707L812 3707L812 3688Z"/>
<path fill="#8db0fe" stroke="#8db0fe" stroke-width="0.6" d="M1388 3563L1410 3563L1408 3575L1409 3583L1427 3599L1444 3627L1443 3635L1439 3647L1442 3659L1440 3663L1432 3668L1402 3675L1366 3687L1361 3691L1359 3695L1358 3707L1331 3707L1332 3696L1334 3691L1344 3682L1357 3675L1416 3653L1423 3647L1428 3639L1430 3631L1422 3607L1416 3600L1402 3595L1394 3587L1385 3575L1386 3563ZM1504 3563L1543 3563L1518 3591L1516 3595L1516 3603L1522 3615L1537 3631L1546 3651L1552 3654L1564 3656L1572 3653L1592 3640L1604 3637L1620 3635L1636 3639L1648 3640L1664 3638L1673 3635L1680 3625L1682 3615L1678 3599L1677 3575L1674 3563L1756 3563L1756 3665L1724 3664L1704 3652L1692 3648L1660 3654L1616 3649L1600 3650L1588 3654L1572 3665L1559 3671L1548 3691L1546 3707L1538 3707L1536 3683L1539 3671L1536 3666L1528 3663L1520 3666L1508 3675L1500 3678L1492 3677L1480 3669L1476 3669L1473 3675L1473 3679L1475 3691L1471 3699L1470 3707L1454 3707L1454 3679L1460 3659L1464 3655L1472 3654L1496 3661L1500 3660L1512 3651L1523 3639L1524 3631L1510 3607L1502 3587L1502 3563ZM816 3658L836 3668L868 3670L896 3679L912 3678L924 3682L931 3687L933 3691L934 3707L886 3707L886 3695L884 3690L876 3684L864 3679L848 3680L812 3688L812 3657ZM1720 3679L1728 3681L1756 3699L1756 3707L1722 3707L1716 3687L1716 3683ZM1428 3690L1432 3691L1434 3695L1434 3707L1414 3707L1415 3699L1418 3695Z"/>
<path fill="#afcafc" stroke="#afcafc" stroke-width="0.6" d="M1356 3563L1386 3563L1385 3575L1397 3591L1404 3596L1416 3600L1422 3607L1429 3627L1429 3635L1424 3646L1416 3653L1357 3675L1344 3682L1334 3691L1332 3696L1331 3707L1321 3707L1319 3699L1313 3691L1315 3687L1328 3673L1339 3667L1372 3654L1408 3645L1416 3639L1418 3635L1418 3627L1412 3611L1380 3589L1372 3588L1292 3585L1285 3583L1290 3579L1296 3577L1344 3576L1353 3571ZM1544 3563L1552 3563L1548 3570L1537 3583L1536 3587L1568 3598L1584 3600L1589 3599L1593 3595L1594 3563L1674 3563L1677 3575L1678 3599L1681 3611L1680 3625L1673 3635L1664 3638L1644 3640L1624 3636L1612 3635L1592 3640L1568 3655L1560 3656L1548 3653L1543 3647L1537 3631L1520 3611L1515 3599L1516 3594L1524 3583ZM1532 3611L1545 3627L1553 3639L1556 3643L1560 3645L1568 3645L1572 3644L1582 3635L1584 3631L1581 3627L1572 3621L1540 3609L1536 3608L1532 3609ZM816 3641L824 3643L843 3655L852 3657L884 3658L904 3660L948 3671L968 3672L992 3676L1032 3676L1076 3682L1092 3687L1101 3691L1104 3695L1106 3707L934 3707L933 3691L931 3687L926 3683L912 3678L896 3679L868 3670L840 3668L834 3667L812 3657L812 3641ZM1520 3666L1528 3663L1532 3664L1537 3667L1539 3671L1536 3683L1538 3707L1470 3707L1471 3699L1475 3691L1473 3679L1473 3675L1476 3669L1480 3669L1492 3677L1500 3678L1508 3675ZM1256 3687L1292 3686L1300 3687L1306 3691L1302 3707L1234 3707L1233 3695L1235 3691L1244 3688ZM1184 3694L1196 3692L1204 3693L1208 3699L1209 3707L1175 3707L1180 3698Z"/>
<path fill="#cfdaea" stroke="#cfdaea" stroke-width="0.6" d="M948 3563L985 3563L980 3576L976 3579L968 3579L954 3579L948 3576L946 3563ZM992 3563L1044 3563L1042 3575L1038 3579L1008 3581L1000 3580L996 3577L988 3563ZM1284 3563L1355 3563L1355 3567L1353 3571L1344 3576L1296 3577L1290 3579L1285 3583L1292 3585L1372 3588L1380 3589L1408 3607L1412 3611L1416 3619L1418 3631L1418 3635L1416 3639L1412 3643L1400 3647L1372 3654L1339 3667L1326 3675L1313 3691L1319 3699L1321 3707L1302 3707L1306 3691L1299 3687L1292 3686L1260 3687L1240 3689L1235 3691L1233 3695L1234 3707L1209 3707L1206 3695L1196 3692L1188 3692L1182 3695L1175 3707L1106 3707L1104 3695L1100 3690L1092 3687L1072 3681L1032 3676L992 3676L968 3672L948 3671L904 3660L884 3658L852 3657L840 3654L824 3643L812 3641L812 3625L824 3625L840 3636L848 3638L900 3641L932 3651L952 3652L972 3657L992 3659L1012 3663L1036 3662L1072 3666L1092 3671L1112 3681L1136 3684L1148 3684L1176 3679L1200 3681L1296 3671L1308 3668L1352 3647L1368 3634L1392 3635L1400 3634L1404 3630L1404 3623L1400 3618L1396 3616L1372 3607L1364 3607L1340 3610L1267 3599L1156 3597L1129 3595L1089 3587L1084 3583L1104 3579L1144 3576L1168 3580L1212 3578L1232 3580L1268 3579L1276 3578L1280 3575L1283 3571L1282 3563ZM1552 3564L1552 3563L1594 3563L1594 3591L1592 3597L1588 3599L1568 3598L1536 3587L1537 3583ZM988 3611L1020 3611L1032 3613L1035 3615L1032 3619L1023 3623L992 3626L964 3633L956 3633L951 3631L940 3619L945 3615L952 3614ZM1532 3609L1536 3608L1544 3610L1575 3623L1581 3627L1584 3631L1582 3635L1572 3644L1568 3645L1560 3645L1556 3643L1553 3639L1545 3627L1534 3615Z"/>
<path fill="#e9d5cb" stroke="#e9d5cb" stroke-width="0.6" d="M856 3563L920 3563L919 3571L918 3583L920 3586L928 3587L932 3587L936 3584L938 3563L946 3563L947 3575L952 3578L968 3579L976 3579L980 3576L982 3571L984 3563L988 3563L996 3577L1000 3580L1008 3581L1038 3579L1042 3575L1044 3563L1158 3563L1160 3568L1163 3571L1168 3572L1212 3572L1229 3575L1240 3575L1264 3575L1272 3574L1276 3571L1275 3563L1282 3563L1283 3571L1280 3575L1272 3579L1168 3580L1148 3576L1140 3576L1104 3579L1092 3581L1084 3583L1089 3587L1116 3593L1144 3596L1264 3599L1340 3610L1364 3607L1372 3607L1400 3618L1404 3623L1405 3627L1404 3631L1396 3635L1368 3634L1352 3647L1308 3668L1296 3671L1200 3681L1176 3679L1140 3684L1116 3682L1108 3679L1092 3671L1072 3666L1036 3662L1012 3663L992 3659L972 3657L952 3652L932 3651L900 3641L848 3638L840 3636L824 3625L812 3625L812 3597L824 3597L840 3593L860 3593L871 3591L878 3587L860 3585L852 3581L849 3575ZM987 3611L952 3614L945 3615L940 3619L951 3631L956 3633L964 3633L992 3626L1023 3623L1032 3619L1035 3615L1032 3613L1020 3611ZM1161 3611L1152 3619L1144 3622L1136 3622L1112 3619L1096 3621L1084 3618L1076 3618L1047 3627L1024 3637L1004 3639L1000 3641L998 3643L1004 3647L1016 3649L1028 3648L1044 3645L1072 3648L1092 3653L1110 3663L1116 3664L1128 3664L1148 3668L1176 3665L1196 3669L1272 3663L1292 3660L1304 3656L1338 3639L1344 3635L1345 3631L1343 3627L1340 3625L1316 3618L1248 3615L1184 3609L1172 3609Z"/>
<path fill="#f6bda2" stroke="#f6bda2" stroke-width="0.6" d="M816 3563L856 3563L849 3575L852 3581L860 3585L878 3587L871 3591L860 3593L840 3593L824 3597L812 3597L812 3563ZM920 3565L920 3563L938 3563L936 3583L932 3587L921 3587L918 3583ZM1160 3563L1226 3563L1228 3567L1232 3569L1240 3570L1264 3569L1269 3567L1269 3563L1275 3563L1276 3567L1276 3571L1268 3575L1236 3575L1212 3572L1168 3572L1163 3571L1160 3568L1158 3563ZM1164 3610L1184 3609L1248 3615L1316 3618L1340 3625L1343 3627L1345 3631L1344 3635L1338 3639L1304 3656L1292 3660L1272 3663L1196 3669L1176 3665L1148 3668L1128 3664L1116 3664L1110 3663L1092 3653L1072 3648L1044 3645L1028 3648L1016 3649L1004 3647L998 3643L1000 3641L1004 3639L1024 3637L1047 3627L1076 3618L1084 3618L1096 3621L1112 3619L1136 3622L1144 3622L1152 3619L1160 3612ZM1172 3631L1168 3636L1167 3639L1169 3643L1192 3653L1200 3655L1236 3649L1260 3652L1273 3651L1289 3647L1296 3643L1300 3639L1301 3635L1299 3631L1296 3629L1272 3627L1184 3628Z"/>
<path fill="#f4987a" stroke="#f4987a" stroke-width="0.6" d="M1228 3563L1269 3563L1269 3567L1264 3569L1260 3570L1236 3570L1228 3567L1226 3563ZM1176 3629L1188 3628L1276 3627L1296 3629L1299 3631L1301 3635L1300 3639L1296 3643L1289 3647L1273 3651L1260 3652L1236 3649L1200 3655L1192 3653L1169 3643L1167 3639L1168 3635Z"/>
</g>
<g clip-path="url(#ax8)">
<path fill="#fff" d="M1575.4 3699.8L1578.1 3683.6L1588.9 3672.8L1605.1 3667.4L1624 3668.8L1637.5 3679L1651 3689L1655.1 3699.8Z"/>
<path fill="#fff" d="M1629.4 3662L1651 3672.8L1675.3 3687.7L1726.6 3695.7L1726.6 3699.8L1656.4 3699.8L1651 3685L1637.5 3674.2Z"/>
<path fill="none" stroke="#1a1a1a" stroke-width="2.6" stroke-linejoin="round" d="M819.9 3577.9L843.2 3591.1L867.5 3604.2L894.5 3614.7L921.5 3622.6L937.7 3622.6L961.9 3612.1L972.7 3606.8L979.4 3605L1019.8 3600.1L1044.1 3597L1084.6 3595.3L1104.9 3595.3L1145.3 3602.2L1185.8 3611.5L1202 3604.2L1226.3 3590.1L1246.6 3580.9L1283 3574.8L1315.4 3571.8L1338.5 3570.8"/>
<path fill="none" stroke="#000" stroke-width="4.2" stroke-linejoin="round" d="M1504.9 3570.8L1511.9 3571.9L1520.1 3577.8L1529.2 3581.5L1534.6 3586L1532.8 3597L1536.5 3606L1542.8 3613.3L1551.9 3619L1562.9 3622.6L1573.8 3621.3L1584.7 3618.3L1592 3615.1L1608.4 3616L1635.7 3616L1659.4 3615.1L1665.8 3610.5L1672.2 3608.7L1683.1 3610.5L1695.9 3615.1L1697.7 3622.4L1699.5 3629.5L1708.6 3632.8L1719.6 3631.4L1732.3 3630.5L1735 3636.8L1735.9 3645.8L1740 3652.2"/>
<path fill="none" stroke="#222" stroke-width="2.4" stroke-linejoin="round" d="M1740 3652.2L1742.3 3662.2L1741 3672.9L1737.5 3681.8L1733.5 3697.8"/>
<path fill="#000" d="M1584.7 3619L1588.4 3615.1L1590.2 3606L1599.3 3605.1L1601.1 3609.6L1606.6 3608.2L1613.9 3608.7L1617.5 3612.3L1626.6 3609.6L1633.9 3609.2L1635.7 3614.2L1635.7 3618.7L1608.4 3622.4L1592 3621.3ZM1658.5 3599.6L1664.9 3601.4L1672.2 3606L1683.1 3608.2L1697.7 3613.3L1698.6 3620.4L1690.4 3618.7L1679.5 3616.9L1668.5 3614.2L1664.9 3607.8ZM1699.5 3629.2L1708.6 3631.7L1719.6 3628.6L1734.1 3627.3L1735.9 3636.8L1735 3647.7L1726.8 3642.3L1723.2 3636.8L1708.6 3635.4ZM1510 3571.6L1526.4 3571.9L1527.3 3576L1535.5 3577.8L1542.8 3583.3L1541.9 3587.9L1536.5 3589.7L1537.7 3597L1533.7 3599.6L1529.2 3595L1527.3 3587.9L1521 3585.1L1517.3 3578.8Z"/>
<path fill="none" stroke="#111" stroke-width="3.2" stroke-linejoin="round" d="M1672.5 3654.4L1676.5 3648.9L1683 3644L1693.5 3642.9L1697.4 3646.1L1693 3653.7L1686.8 3658.6L1676.5 3659.4Z"/>
<path fill="none" stroke="#000" stroke-width="2.6" stroke-linejoin="round" stroke-linecap="round" d="M1151.3 3599.9L1178.3 3605.3"/>
<path fill="none" stroke="#000" stroke-width="16" stroke-linejoin="round" stroke-linecap="round" d="M1570 3699.8L1574.1 3683.6L1586.8 3670.9L1605.1 3665.5L1624 3666.9L1637.5 3677.4L1651 3687.1L1658.6 3699.8"/>
<path fill="#000" d="M945.7 3614.8L953.8 3605.3L975.4 3597.2L983.5 3592.6L1018.6 3592.6L1028.1 3585.6L1082.1 3585.6L1083.4 3589.9L1110.4 3587.8L1110.4 3594.8L1092.8 3597.5L1080.7 3606.7L1051 3608L1042.9 3616.1L1021.3 3617.5L1010.5 3622.9L961.9 3624.2L948.4 3618.8Z"/>
<path fill="#000" d="M1122.5 3598L1126.6 3586.4L1137.4 3586.4L1140.6 3592.6L1150.9 3593.2L1150.9 3601.3Z"/>
<path fill="#000" d="M1124.3 3593.7L1127 3587.2L1136.4 3587.2L1140.5 3593.2L1149.9 3593.7L1151.3 3600.5L1127 3599.1Z"/>
<path fill="#000" d="M1178.3 3613.4L1181 3602.6L1191.8 3594.5L1213.4 3587.8L1245.7 3578.3L1278.1 3573.8L1283.5 3570.2L1369.9 3570.2L1365.9 3578.3L1342.9 3585.1L1334.8 3590.5L1321.3 3593.2L1313.2 3601.3L1299.7 3608L1280.8 3613.4L1245.7 3622.9L1191.8 3622.9L1181 3617.5Z"/>
<path fill="#4961d2" d="M982.2 3607.2L1007.8 3607.2L1007.8 3611.5L982.2 3611.5Z"/>
<path fill="#4a64a8" d="M1032.1 3598L1045.6 3598L1045.6 3602.4L1032.1 3602.4Z"/>
<path fill="#8db0fe" d="M1197.2 3608L1216.1 3604L1240.4 3599.9L1251.1 3594.5L1275.4 3593.2L1288.9 3583.7L1310.5 3582.4L1305.1 3587.8L1288.9 3594.5L1275.4 3601.3L1245.7 3602.6L1240.4 3609.4L1197.2 3611.5Z"/>
</g>
<line x1="817.6" y1="3570.8" x2="1749.8" y2="3570.8" stroke="#262626" stroke-width="3.3"/>
<line x1="817.6" y1="3698.4" x2="1749.8" y2="3698.4" stroke="#262626" stroke-width="3.3"/>
<line x1="819.9" y1="3570.8" x2="819.9" y2="3698.4" stroke="#262626" stroke-width="4.6"/>
<line x1="1747.5" y1="3570.8" x2="1747.5" y2="3698.4" stroke="#262626" stroke-width="4.6"/>
<line x1="804.4" y1="3570.8" x2="819.9" y2="3570.8" stroke="#262626" stroke-width="3.4"/>
<line x1="804.4" y1="3635" x2="819.9" y2="3635" stroke="#262626" stroke-width="3.4"/>
<line x1="804.4" y1="3698.4" x2="819.9" y2="3698.4" stroke="#262626" stroke-width="3.4"/>
<line x1="819.9" y1="3698.4" x2="819.9" y2="3711.9" stroke="#262626" stroke-width="4.2"/>
<line x1="1052.6" y1="3698.4" x2="1052.6" y2="3711.9" stroke="#262626" stroke-width="4.2"/>
<line x1="1281.6" y1="3698.4" x2="1281.6" y2="3711.9" stroke="#262626" stroke-width="4.2"/>
<line x1="1514" y1="3698.4" x2="1514" y2="3711.9" stroke="#262626" stroke-width="4.2"/>
<line x1="1747.5" y1="3698.4" x2="1747.5" y2="3711.9" stroke="#262626" stroke-width="4.2"/>
<text transform="translate(786.5 3586) scale(1.4000 1)" font-size="38.5" text-anchor="end" fill="#1c1c1c">6°N</text>
<text transform="translate(786.5 3650.2) scale(1.4000 1)" font-size="38.5" text-anchor="end" fill="#1c1c1c">4°N</text>
<text transform="translate(786.5 3713.6) scale(1.4000 1)" font-size="38.5" text-anchor="end" fill="#1c1c1c">2°N</text>
<text transform="translate(818.9 3752) scale(1.4000 1)" font-size="38.5" text-anchor="middle" fill="#1c1c1c">10°W</text>
<text transform="translate(1051.6 3752) scale(1.4000 1)" font-size="38.5" text-anchor="middle" fill="#1c1c1c">5°W</text>
<text transform="translate(1283.6 3752) scale(1.4000 1)" font-size="38.5" text-anchor="middle" fill="#1c1c1c">0°E</text>
<text transform="translate(1518.5 3752) scale(1.4000 1)" font-size="38.5" text-anchor="middle" fill="#1c1c1c">5°E</text>
<text transform="translate(1743.5 3752) scale(1.4000 1)" font-size="38.5" text-anchor="middle" fill="#1c1c1c">10°E</text>
<text transform="translate(1274.4 3550.5) scale(1.4270 1)" font-size="39" text-anchor="middle" fill="#1c1c1c" xml:space="preserve">2010-08-06</text>
</g>
<g id="panel-c9">
<defs><clipPath id="oc9"><path d="M819.9 3960.3L819.9 3836.7L843.2 3850.2L867.5 3863.7L894.5 3874.4L921.5 3882.5L937.7 3882.5L961.9 3871.8L972.7 3866.3L979.4 3864.5L1019.8 3859.5L1044.1 3856.2L1084.6 3854.5L1104.9 3854.5L1145.3 3861.6L1185.8 3871.2L1202 3863.7L1226.3 3849.2L1246.6 3839.7L1283 3833.5L1315.4 3830.4L1338.5 3829.4L1504.9 3829.4L1511.9 3830.6L1520.1 3836.6L1529.2 3840.4L1534.6 3845L1532.8 3856.2L1536.5 3865.5L1542.8 3873L1551.9 3878.9L1562.9 3882.5L1573.8 3881.2L1584.7 3878.1L1592 3874.8L1608.4 3875.7L1635.7 3875.7L1659.4 3874.8L1665.8 3870.1L1672.2 3868.3L1683.1 3870.1L1695.9 3874.8L1697.7 3882.3L1699.5 3889.6L1708.6 3893L1719.6 3891.6L1732.3 3890.7L1735 3897.1L1735.9 3906.4L1740 3912.9L1742.3 3923.1L1741 3934.1L1737.5 3943.3L1733.5 3959.6L1733.5 3960.3Z"/></clipPath><clipPath id="ax9"><rect x="819.9" y="3829.4" width="927.6" height="130.9"/></clipPath></defs>
<g fill-rule="evenodd" clip-path="url(#oc9)">
<path fill="#4961d2" stroke="#4961d2" stroke-width="0.6" d="M1428 3821L1446 3821L1449 3833L1447 3837L1440 3840L1432 3839L1429 3837L1426 3829L1426 3821ZM1472 3880L1480 3880L1496 3890L1512 3896L1519 3901L1532 3917L1548 3927L1556 3930L1584 3930L1596 3933L1600 3935L1603 3937L1592 3945L1591 3949L1597 3969L1516 3969L1513 3949L1510 3945L1484 3941L1480 3942L1476 3947L1470 3969L1354 3969L1356 3953L1360 3946L1366 3941L1376 3937L1384 3936L1396 3942L1404 3943L1436 3935L1460 3923L1464 3917L1465 3913L1467 3885Z"/>
<path fill="#6a8bef" stroke="#6a8bef" stroke-width="0.6" d="M1420 3821L1426 3821L1427 3833L1429 3837L1432 3839L1440 3840L1447 3837L1449 3833L1446 3821L1507 3821L1501 3837L1490 3849L1489 3853L1489 3857L1494 3865L1504 3875L1532 3890L1548 3893L1556 3905L1564 3908L1588 3911L1612 3909L1644 3912L1660 3909L1672 3912L1688 3914L1696 3919L1702 3925L1732 3969L1597 3969L1591 3949L1592 3945L1603 3937L1600 3935L1596 3933L1584 3930L1556 3930L1548 3927L1532 3917L1514 3897L1508 3894L1496 3890L1484 3882L1476 3879L1469 3881L1467 3885L1465 3913L1461 3921L1456 3925L1436 3935L1404 3943L1396 3942L1384 3936L1376 3937L1366 3941L1360 3946L1355 3957L1354 3969L1326 3969L1326 3953L1327 3949L1352 3932L1384 3924L1404 3927L1412 3925L1424 3918L1438 3917L1440 3913L1435 3905L1433 3897L1433 3885L1436 3873L1436 3869L1432 3867L1423 3865L1418 3861L1418 3857L1424 3849L1418 3833L1418 3821ZM816 3939L836 3941L852 3947L864 3946L872 3947L876 3949L879 3953L878 3969L812 3969L812 3939ZM1484 3941L1510 3945L1513 3949L1516 3969L1470 3969L1476 3947L1480 3942Z"/>
<path fill="#8db0fe" stroke="#8db0fe" stroke-width="0.6" d="M1404 3821L1418 3821L1419 3837L1424 3849L1418 3857L1418 3861L1423 3865L1432 3867L1436 3869L1436 3873L1433 3885L1433 3897L1435 3905L1440 3913L1438 3917L1424 3918L1412 3925L1404 3927L1384 3924L1356 3931L1343 3937L1327 3949L1326 3953L1326 3969L1294 3969L1297 3957L1292 3949L1295 3945L1328 3935L1356 3923L1408 3910L1416 3905L1419 3897L1419 3885L1417 3877L1395 3849L1395 3845L1401 3833L1402 3821ZM1508 3821L1513 3821L1504 3853L1505 3857L1510 3865L1524 3875L1552 3884L1572 3896L1588 3901L1628 3897L1631 3893L1624 3889L1616 3881L1624 3873L1625 3869L1615 3821L1756 3821L1756 3969L1732 3969L1702 3925L1696 3919L1688 3914L1672 3912L1660 3909L1644 3912L1612 3909L1588 3911L1564 3908L1556 3905L1548 3893L1532 3890L1504 3875L1494 3865L1489 3857L1489 3853L1490 3849L1500 3840ZM1564 3857L1568 3862L1564 3863L1560 3862L1560 3859ZM816 3923L832 3929L852 3935L868 3936L888 3940L908 3938L924 3941L933 3945L937 3949L942 3969L878 3969L879 3953L876 3949L872 3947L864 3946L852 3947L832 3940L812 3939L812 3922Z"/>
<path fill="#afcafc" stroke="#afcafc" stroke-width="0.6" d="M908 3821L970 3821L970 3829L968 3835L965 3837L960 3838L916 3838L909 3833L906 3821ZM1340 3821L1402 3821L1401 3833L1395 3845L1395 3849L1417 3877L1419 3885L1419 3897L1416 3905L1408 3910L1356 3923L1328 3935L1295 3945L1292 3949L1297 3957L1294 3969L1194 3969L1194 3957L1195 3953L1200 3949L1256 3941L1296 3932L1316 3926L1336 3923L1388 3902L1400 3893L1406 3885L1405 3877L1399 3869L1384 3861L1368 3858L1312 3853L1290 3849L1293 3845L1332 3842L1340 3841L1343 3837L1344 3833ZM1516 3821L1519 3821L1515 3837L1516 3844L1528 3855L1532 3857L1548 3854L1565 3845L1573 3837L1580 3821L1615 3821L1625 3869L1624 3873L1616 3881L1624 3889L1631 3893L1628 3897L1584 3900L1572 3896L1552 3884L1528 3876L1515 3869L1507 3861L1504 3853L1513 3821ZM1562 3857L1560 3859L1560 3862L1564 3863L1568 3861L1565 3857ZM816 3914L856 3925L884 3928L908 3925L956 3934L976 3933L992 3937L1016 3939L1032 3938L1052 3933L1061 3933L1070 3937L1079 3949L1081 3957L1082 3969L942 3969L937 3949L933 3945L928 3943L912 3939L888 3940L868 3936L848 3934L812 3922L812 3913Z"/>
<path fill="#cfdaea" stroke="#cfdaea" stroke-width="0.6" d="M900 3821L906 3821L909 3833L914 3837L952 3839L964 3838L968 3835L970 3829L970 3821L1019 3821L1017 3837L1012 3842L980 3843L960 3846L920 3845L908 3843L902 3837L900 3833L898 3821ZM1028 3821L1086 3821L1097 3845L1088 3848L1044 3844L1040 3842L1036 3837L1026 3821ZM1272 3821L1339 3821L1344 3833L1343 3837L1340 3841L1332 3842L1293 3845L1290 3849L1312 3853L1368 3858L1384 3861L1396 3867L1403 3873L1406 3881L1404 3889L1395 3897L1389 3901L1340 3921L1316 3926L1296 3932L1256 3941L1204 3948L1200 3949L1195 3953L1194 3969L1166 3969L1165 3957L1162 3949L1163 3945L1168 3941L1176 3940L1188 3941L1204 3937L1236 3934L1288 3924L1324 3910L1344 3908L1350 3905L1364 3894L1376 3892L1384 3889L1386 3885L1384 3880L1378 3877L1360 3872L1348 3873L1336 3878L1328 3879L1312 3876L1276 3874L1229 3865L1138 3853L1124 3849L1136 3845L1156 3844L1268 3840L1273 3837L1270 3821ZM1520 3821L1580 3821L1573 3837L1565 3845L1548 3854L1532 3857L1528 3855L1516 3844L1515 3837ZM892 3869L964 3875L1012 3871L1084 3871L1116 3869L1128 3871L1135 3873L1140 3877L1141 3881L1139 3885L1136 3887L1112 3882L1056 3881L980 3892L964 3897L952 3904L944 3905L932 3904L920 3900L900 3889L889 3881L883 3873L888 3870ZM816 3899L848 3903L852 3904L863 3913L868 3915L884 3911L908 3911L944 3917L964 3921L988 3923L1004 3922L1028 3923L1044 3916L1072 3922L1108 3922L1116 3925L1123 3929L1133 3941L1138 3953L1138 3969L1082 3969L1081 3957L1079 3949L1070 3937L1061 3933L1052 3933L1032 3938L1016 3939L992 3937L976 3933L956 3934L908 3925L884 3928L856 3925L841 3921L824 3915L812 3913L812 3899Z"/>
<path fill="#e9d5cb" stroke="#e9d5cb" stroke-width="0.6" d="M856 3821L898 3821L902 3837L908 3843L920 3845L960 3846L980 3843L1012 3842L1017 3837L1019 3821L1026 3821L1039 3841L1044 3844L1088 3848L1097 3845L1086 3821L1270 3821L1273 3837L1268 3840L1156 3844L1136 3845L1124 3849L1138 3853L1229 3865L1276 3874L1312 3876L1328 3879L1336 3878L1348 3873L1360 3872L1380 3878L1385 3881L1386 3885L1384 3889L1380 3891L1364 3894L1350 3905L1344 3908L1324 3910L1288 3924L1236 3934L1204 3937L1188 3941L1176 3940L1168 3941L1163 3945L1162 3949L1165 3957L1166 3969L1138 3969L1138 3953L1133 3941L1123 3929L1116 3925L1108 3922L1072 3922L1044 3916L1028 3923L1004 3922L988 3923L964 3921L944 3917L908 3911L884 3911L868 3915L863 3913L852 3904L848 3903L812 3899L812 3855L824 3855L849 3849L850 3845L848 3843L847 3837L848 3833ZM889 3869L883 3873L889 3881L900 3889L920 3900L932 3904L944 3905L952 3904L964 3897L980 3892L1056 3881L1112 3882L1136 3887L1139 3885L1141 3881L1140 3877L1135 3873L1128 3871L1116 3869L1084 3871L1012 3871L964 3875ZM1285 3889L1252 3893L1224 3899L1192 3898L1180 3900L1161 3905L1157 3909L1156 3913L1160 3921L1164 3923L1176 3924L1192 3929L1226 3925L1248 3918L1268 3917L1284 3914L1306 3905L1311 3901L1313 3897L1312 3893L1303 3889ZM1077 3897L1068 3899L1064 3901L1065 3905L1072 3908L1112 3905L1116 3901L1112 3897L1104 3896ZM1005 3901L1000 3903L980 3905L984 3907L1004 3906L1024 3908L1029 3905L1028 3901L1020 3900Z"/>
<path fill="#f6bda2" stroke="#f6bda2" stroke-width="0.6" d="M816 3821L856 3821L848 3833L847 3837L848 3843L850 3845L849 3849L824 3855L812 3855L812 3821ZM1288 3889L1303 3889L1312 3893L1313 3897L1311 3901L1306 3905L1284 3914L1268 3917L1248 3918L1226 3925L1192 3929L1176 3924L1164 3923L1160 3921L1156 3913L1157 3909L1161 3905L1180 3900L1192 3898L1224 3899L1252 3893ZM1080 3897L1092 3896L1108 3897L1112 3897L1116 3901L1112 3905L1072 3908L1065 3905L1064 3901L1068 3899ZM1008 3901L1020 3900L1028 3901L1029 3905L1024 3908L1004 3906L984 3907L980 3905L1000 3903Z"/>
</g>
<g clip-path="url(#ax9)">
<path fill="#fff" d="M1213.4 3865.3L1245.7 3861.3L1253.8 3853.2L1280.8 3850.5L1288.9 3843.7L1310.5 3842.4L1302.4 3847.8L1283.5 3858.6L1245.7 3868L1240.4 3873.4L1216.1 3872.1Z"/>
<path fill="#fff" d="M1332.1 3830.5L1359.1 3830.5L1342.9 3837L1334.8 3837Z"/>
<path fill="#fff" d="M1387.4 3831.1L1434.7 3831.1L1434.7 3837L1391.5 3837Z"/>
<path fill="#fff" d="M1434.7 3854.5L1450.9 3859.9L1461.7 3850.5L1459 3847.8L1426.6 3851.8Z"/>
<path fill="#fff" d="M1448.2 3940.9L1459 3940.9L1459 3957.1L1448.2 3957.1Z"/>
<path fill="#fff" d="M1508 3930.1L1521.5 3930.1L1521.5 3939.6L1508 3939.6Z"/>
<path fill="#fff" d="M1548.4 3931.5L1567.3 3923.4L1588.9 3918L1637.5 3920.7L1656.4 3928.8L1686.1 3936.9L1696.9 3930.1L1707.7 3931.5L1718.5 3958.4L1551.1 3958.4Z"/>
<path fill="#5a77dd" d="M1197.2 3868L1213.4 3872.6L1240.4 3876.1L1251.1 3870.7L1297 3868L1310.5 3858.6L1324 3845.1L1337.5 3835.6L1356.4 3832.9L1342.9 3839.1L1329.4 3849.1L1315.9 3864L1302.4 3874.8L1251.1 3877.5L1240.4 3882.3L1213.4 3881.5Z"/>
<path fill="#afcafc" d="M1216.1 3872.6L1240.4 3874.2L1247.1 3868.8L1286.2 3861.8L1305.1 3850.5L1313.2 3843.7L1315.9 3850.5L1305.1 3861.3L1294.3 3867.2L1251.1 3870.5L1240.4 3875.9Z"/>
<rect x="819.9" y="3955.7" width="927.6" height="3" fill="#fff"/>
<path fill="none" stroke="#1a1a1a" stroke-width="2.6" stroke-linejoin="round" d="M819.9 3836.7L843.2 3850.2L867.5 3863.7L894.5 3874.4L921.5 3882.5L937.7 3882.5L961.9 3871.8L972.7 3866.3L979.4 3864.5L1019.8 3859.5L1044.1 3856.2L1084.6 3854.5L1104.9 3854.5L1145.3 3861.6L1185.8 3871.2L1202 3863.7L1226.3 3849.2L1246.6 3839.7L1283 3833.5L1315.4 3830.4L1338.5 3829.4"/>
<path fill="none" stroke="#000" stroke-width="4.2" stroke-linejoin="round" d="M1504.9 3829.4L1511.9 3830.6L1520.1 3836.6L1529.2 3840.4L1534.6 3845L1532.8 3856.2L1536.5 3865.5L1542.8 3873L1551.9 3878.9L1562.9 3882.5L1573.8 3881.2L1584.7 3878.1L1592 3874.8L1608.4 3875.7L1635.7 3875.7L1659.4 3874.8L1665.8 3870.1L1672.2 3868.3L1683.1 3870.1L1695.9 3874.8L1697.7 3882.3L1699.5 3889.6L1708.6 3893L1719.6 3891.6L1732.3 3890.7L1735 3897.1L1735.9 3906.4L1740 3912.9"/>
<path fill="none" stroke="#222" stroke-width="2.4" stroke-linejoin="round" d="M1740 3912.9L1742.3 3923.1L1741 3934.1L1737.5 3943.3L1733.5 3959.6"/>
<path fill="#000" d="M1584.7 3878.9L1588.4 3874.8L1590.2 3865.5L1599.3 3864.6L1601.1 3869.2L1606.6 3867.8L1613.9 3868.3L1617.5 3871.9L1626.6 3869.2L1633.9 3868.8L1635.7 3873.9L1635.7 3878.5L1608.4 3882.3L1592 3881.2ZM1658.5 3859L1664.9 3860.8L1672.2 3865.5L1683.1 3867.8L1697.7 3873L1698.6 3880.3L1690.4 3878.5L1679.5 3876.7L1668.5 3873.9L1664.9 3867.4ZM1699.5 3889.4L1708.6 3891.8L1719.6 3888.7L1734.1 3887.4L1735.9 3897.1L1735 3908.3L1726.8 3902.7L1723.2 3897.1L1708.6 3895.6ZM1510 3830.2L1526.4 3830.6L1527.3 3834.8L1535.5 3836.6L1542.8 3842.2L1541.9 3846.9L1536.5 3848.8L1537.7 3856.2L1533.7 3859L1529.2 3854.3L1527.3 3846.9L1521 3844.1L1517.3 3837.6Z"/>
<path fill="none" stroke="#111" stroke-width="3.2" stroke-linejoin="round" d="M1672.5 3915.1L1676.5 3909.5L1683 3904.5L1693.5 3903.4L1697.4 3906.6L1693 3914.5L1686.8 3919.5L1676.5 3920.2Z"/>
<path fill="none" stroke="#000" stroke-width="2.6" stroke-linejoin="round" stroke-linecap="round" d="M1151.3 3859.9L1178.3 3865.3"/>
<path fill="none" stroke="#000" stroke-width="12.5" stroke-linejoin="round" stroke-linecap="round" d="M1181 3869.9L1191.8 3859.1L1216.1 3851L1245.7 3842.9L1275.4 3837.5L1288.9 3833.8L1329.4 3833.8"/>
<path fill="none" stroke="#000" stroke-width="12.5" stroke-linejoin="round" stroke-linecap="round" d="M1181 3870.7L1191.8 3878.8L1213.4 3886.1L1240.4 3886.1L1251.1 3880.2L1299.7 3878L1310.5 3870.7L1324 3858.6L1334.8 3845.1L1356.4 3837L1369.9 3835.6L1380.7 3842.4L1391.5 3847.8L1423.9 3847.8L1450.9 3845.1L1460.3 3837"/>
<path fill="none" stroke="#000" stroke-width="12" stroke-linejoin="round" stroke-linecap="round" d="M1586.2 3953L1575.4 3947.7L1568.7 3936.9L1575.4 3926.6L1588.9 3922.6L1605.1 3928.8L1615.9 3926.6L1624 3922.6L1634.8 3928.8L1648.3 3936.9L1664.5 3942.3L1679.4 3950.4"/>
<path fill="#000" d="M945.7 3877.5L951.1 3866.7L961.9 3861.3L975.4 3858.6L983.5 3853.2L1018.6 3852.6L1028.1 3845.1L1105 3845.1L1113.1 3850.5L1110.4 3859.9L1105 3866.7L1086.1 3868L1080.7 3874.8L1042.9 3876.1L1034.8 3882.9L975.4 3885.6L967.3 3891L955.2 3889.6Z"/>
<path fill="#000" d="M1122.5 3858L1126.6 3847.2L1137.4 3847.2L1140.6 3853.2L1150.9 3853.7L1150.9 3861.3Z"/>
<path fill="#000" d="M1124.3 3853.7L1127 3847.2L1136.4 3847.2L1140.5 3853.2L1149.9 3854.5L1151.3 3860.5L1127 3859.1Z"/>
<path fill="#000" d="M1280.8 3829.4L1332.1 3829.4L1332.1 3837L1280.8 3837Z"/>
<path fill="#000" d="M1367.2 3829.4L1387.4 3829.4L1387.4 3837L1367.2 3837Z"/>
<path fill="#000" d="M1434.7 3829.4L1463 3829.4L1461.7 3837L1434.7 3837Z"/>
<path fill="#fff" d="M986.2 3866.7L999.7 3866.7L999.7 3870.7L986.2 3870.7Z"/>
<path fill="#5a77dd" d="M999.7 3867.2L1024 3867.2L1032.1 3861.3L1042.9 3858.6L1078 3858.6L1078 3862.6L1042.9 3864L1034.8 3868L1026.7 3871L999.7 3871Z"/>
</g>
<line x1="817.6" y1="3829.4" x2="1749.8" y2="3829.4" stroke="#262626" stroke-width="3.3"/>
<line x1="817.6" y1="3960.3" x2="1749.8" y2="3960.3" stroke="#262626" stroke-width="3.3"/>
<line x1="819.9" y1="3829.4" x2="819.9" y2="3960.3" stroke="#262626" stroke-width="4.6"/>
<line x1="1747.5" y1="3829.4" x2="1747.5" y2="3960.3" stroke="#262626" stroke-width="4.6"/>
<line x1="804.4" y1="3829.4" x2="819.9" y2="3829.4" stroke="#262626" stroke-width="3.4"/>
<line x1="804.4" y1="3894.5" x2="819.9" y2="3894.5" stroke="#262626" stroke-width="3.4"/>
<line x1="804.4" y1="3960.3" x2="819.9" y2="3960.3" stroke="#262626" stroke-width="3.4"/>
<line x1="819.9" y1="3960.3" x2="819.9" y2="3973.8" stroke="#262626" stroke-width="4.2"/>
<line x1="1052.6" y1="3960.3" x2="1052.6" y2="3973.8" stroke="#262626" stroke-width="4.2"/>
<line x1="1281.6" y1="3960.3" x2="1281.6" y2="3973.8" stroke="#262626" stroke-width="4.2"/>
<line x1="1514" y1="3960.3" x2="1514" y2="3973.8" stroke="#262626" stroke-width="4.2"/>
<line x1="1747.5" y1="3960.3" x2="1747.5" y2="3973.8" stroke="#262626" stroke-width="4.2"/>
<text transform="translate(786.5 3844.6) scale(1.4000 1)" font-size="38.5" text-anchor="end" fill="#1c1c1c">6°N</text>
<text transform="translate(786.5 3909.7) scale(1.4000 1)" font-size="38.5" text-anchor="end" fill="#1c1c1c">4°N</text>
<text transform="translate(786.5 3975.5) scale(1.4000 1)" font-size="38.5" text-anchor="end" fill="#1c1c1c">2°N</text>
<text transform="translate(818.9 4013.9) scale(1.4000 1)" font-size="38.5" text-anchor="middle" fill="#1c1c1c">10°W</text>
<text transform="translate(1051.6 4013.9) scale(1.4000 1)" font-size="38.5" text-anchor="middle" fill="#1c1c1c">5°W</text>
<text transform="translate(1283.6 4013.9) scale(1.4000 1)" font-size="38.5" text-anchor="middle" fill="#1c1c1c">0°E</text>
<text transform="translate(1518.5 4013.9) scale(1.4000 1)" font-size="38.5" text-anchor="middle" fill="#1c1c1c">5°E</text>
<text transform="translate(1743.5 4013.9) scale(1.4000 1)" font-size="38.5" text-anchor="middle" fill="#1c1c1c">10°E</text>
<text transform="translate(1280.6 3809.1) scale(1.4000 1)" font-size="39" text-anchor="middle" fill="#1c1c1c" xml:space="preserve">2010-08-07</text>
</g>
<g id="cbar-c">
<rect x="690.7" y="4043.5" width="117.3" height="26.3" fill="#4961d2"/>
<rect x="807.4" y="4043.5" width="119.7" height="26.3" fill="#6a8bef"/>
<rect x="926.5" y="4043.5" width="119.7" height="26.3" fill="#8db0fe"/>
<rect x="1045.6" y="4043.5" width="115.1" height="26.3" fill="#afcafc"/>
<rect x="1160.1" y="4043.5" width="119.6" height="26.3" fill="#cfdaea"/>
<rect x="1279.1" y="4043.5" width="119.5" height="26.3" fill="#e9d5cb"/>
<rect x="1398" y="4043.5" width="119.5" height="26.3" fill="#f6bda2"/>
<rect x="1516.9" y="4043.5" width="119.5" height="26.3" fill="#f4987a"/>
<rect x="1635.8" y="4043.5" width="119.6" height="26.3" fill="#e36c55"/>
<rect x="1754.8" y="4043.5" width="121.6" height="26.3" fill="#c53334"/>
<rect x="690.7" y="4043.5" width="1185.1" height="26.3" fill="none" stroke="#262626" stroke-width="2.6"/>
<rect x="689.2" y="4042.5" width="3.6" height="28.3" fill="#10183a"/>
<line x1="810.8" y1="4069.8" x2="810.8" y2="4082.8" stroke="#262626" stroke-width="3.4"/>
<text transform="translate(809.8 4121.6) scale(1.3900 1)" font-size="38.5" text-anchor="middle" fill="#1c1c1c">−0.96</text>
<line x1="1048" y1="4069.8" x2="1048" y2="4082.8" stroke="#262626" stroke-width="3.4"/>
<text transform="translate(1042.6 4121.6) scale(1.3900 1)" font-size="38.5" text-anchor="middle" fill="#1c1c1c">−0.48</text>
<line x1="1280.6" y1="4069.8" x2="1280.6" y2="4082.8" stroke="#262626" stroke-width="3.4"/>
<text transform="translate(1283.1 4121.6) scale(1.3900 1)" font-size="38.5" text-anchor="middle" fill="#1c1c1c">0.00</text>
<line x1="1518.4" y1="4069.8" x2="1518.4" y2="4082.8" stroke="#262626" stroke-width="3.4"/>
<text transform="translate(1521.2 4121.6) scale(1.3900 1)" font-size="38.5" text-anchor="middle" fill="#1c1c1c">0.48</text>
<line x1="1756.3" y1="4069.8" x2="1756.3" y2="4082.8" stroke="#262626" stroke-width="3.4"/>
<text transform="translate(1758.8 4121.6) scale(1.3900 1)" font-size="38.5" text-anchor="middle" fill="#1c1c1c">0.96</text>
<text transform="translate(1255 4176.8) scale(1.46 1)" fill="#222"><tspan font-size="22" dy="-10.8" fill="#555">°</tspan><tspan font-size="35" dy="10.8" dx="3.2">C</tspan></text>
</g>
</svg>
</body>
</html>
